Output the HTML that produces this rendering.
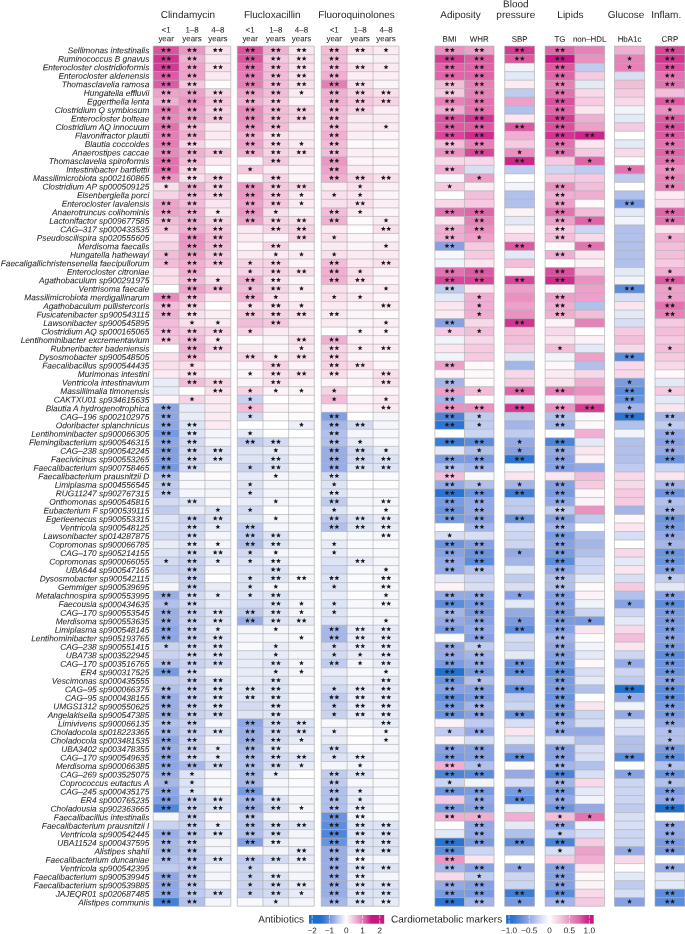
<!DOCTYPE html>
<html><head><meta charset="utf-8"><style>
html,body{margin:0;padding:0;background:#fff;}
svg{display:block;will-change:transform;}
text{font-family:"Liberation Sans",sans-serif;fill:#231f20;text-rendering:geometricPrecision;stroke-linejoin:round;}
.lab{font-size:8.3px;font-style:italic;text-anchor:end;}
.ttl{font-size:10px;text-anchor:middle;}
.sub{font-size:7.8px;text-anchor:middle;}
.leg{font-size:10px;}
.tick{font-size:7.6px;text-anchor:middle;}
</style></head><body>
<svg width="685" height="934" viewBox="0 0 685 934">
<defs><path id="s" d="M0.00,-2.60 L0.68,-0.93 L2.47,-0.80 L1.09,0.36 L1.53,2.10 L0.00,1.15 L-1.53,2.10 L-1.09,0.36 L-2.47,-0.80 L-0.68,-0.93Z" fill="#1a1a1a"/></defs>
<g fill="#231f20">
<rect x="153.20" y="46.10" width="25.92" height="8.57" fill="#db539f"/>
<rect x="179.07" y="46.10" width="25.92" height="8.57" fill="#eb96c4"/>
<rect x="204.93" y="46.10" width="25.92" height="8.57" fill="#fadfec"/>
<rect x="153.20" y="54.62" width="25.92" height="8.57" fill="#d13390"/>
<rect x="179.07" y="54.62" width="25.92" height="8.57" fill="#f0b0d2"/>
<rect x="204.93" y="54.62" width="25.92" height="8.57" fill="#fceaf2"/>
<rect x="153.20" y="63.13" width="25.92" height="8.57" fill="#d33a93"/>
<rect x="179.07" y="63.13" width="25.92" height="8.57" fill="#eea3cb"/>
<rect x="204.93" y="63.13" width="25.92" height="8.57" fill="#fadfec"/>
<rect x="153.20" y="71.65" width="25.92" height="8.57" fill="#dd5ba4"/>
<rect x="179.07" y="71.65" width="25.92" height="8.57" fill="#eea3cb"/>
<rect x="204.93" y="71.65" width="25.92" height="8.57" fill="#fceaf2"/>
<rect x="153.20" y="80.16" width="25.92" height="8.57" fill="#dd5ba4"/>
<rect x="179.07" y="80.16" width="25.92" height="8.57" fill="#f5c8e0"/>
<rect x="204.93" y="80.16" width="25.92" height="8.57" fill="#fefbfc"/>
<rect x="153.20" y="88.68" width="25.92" height="8.57" fill="#eea3cb"/>
<rect x="179.07" y="88.68" width="25.92" height="8.57" fill="#eea3cb"/>
<rect x="204.93" y="88.68" width="25.92" height="8.57" fill="#f7d3e6"/>
<rect x="153.20" y="97.20" width="25.92" height="8.57" fill="#f0b0d2"/>
<rect x="179.07" y="97.20" width="25.92" height="8.57" fill="#eb96c4"/>
<rect x="204.93" y="97.20" width="25.92" height="8.57" fill="#f5c8e0"/>
<rect x="153.20" y="105.71" width="25.92" height="8.57" fill="#e67db6"/>
<rect x="179.07" y="105.71" width="25.92" height="8.57" fill="#eea3cb"/>
<rect x="204.93" y="105.71" width="25.92" height="8.57" fill="#f7d3e6"/>
<rect x="153.20" y="114.23" width="25.92" height="8.57" fill="#e88abd"/>
<rect x="179.07" y="114.23" width="25.92" height="8.57" fill="#eea3cb"/>
<rect x="204.93" y="114.23" width="25.92" height="8.57" fill="#f5c8e0"/>
<rect x="153.20" y="122.74" width="25.92" height="8.57" fill="#e370af"/>
<rect x="179.07" y="122.74" width="25.92" height="8.57" fill="#f3bcd9"/>
<rect x="204.93" y="122.74" width="25.92" height="8.57" fill="#fceaf2"/>
<rect x="153.20" y="131.26" width="25.92" height="8.57" fill="#e67db6"/>
<rect x="179.07" y="131.26" width="25.92" height="8.57" fill="#f0b0d2"/>
<rect x="204.93" y="131.26" width="25.92" height="8.57" fill="#fceaf2"/>
<rect x="153.20" y="139.78" width="25.92" height="8.57" fill="#e67db6"/>
<rect x="179.07" y="139.78" width="25.92" height="8.57" fill="#f7d3e6"/>
<rect x="204.93" y="139.78" width="25.92" height="8.57" fill="#fdf4f9"/>
<rect x="153.20" y="148.29" width="25.92" height="8.57" fill="#e88abd"/>
<rect x="179.07" y="148.29" width="25.92" height="8.57" fill="#f0b0d2"/>
<rect x="204.93" y="148.29" width="25.92" height="8.57" fill="#f5c8e0"/>
<rect x="153.20" y="156.81" width="25.92" height="8.57" fill="#e370af"/>
<rect x="179.07" y="156.81" width="25.92" height="8.57" fill="#f3bcd9"/>
<rect x="204.93" y="156.81" width="25.92" height="8.57" fill="#fceaf2"/>
<rect x="153.20" y="165.32" width="25.92" height="8.57" fill="#e370af"/>
<rect x="179.07" y="165.32" width="25.92" height="8.57" fill="#f7d3e6"/>
<rect x="204.93" y="165.32" width="25.92" height="8.57" fill="#fefbfc"/>
<rect x="153.20" y="173.84" width="25.92" height="8.57" fill="#eb96c4"/>
<rect x="179.07" y="173.84" width="25.92" height="8.57" fill="#fadfec"/>
<rect x="204.93" y="173.84" width="25.92" height="8.57" fill="#f7d3e6"/>
<rect x="153.20" y="182.36" width="25.92" height="8.57" fill="#fadfec"/>
<rect x="179.07" y="182.36" width="25.92" height="8.57" fill="#f0b0d2"/>
<rect x="204.93" y="182.36" width="25.92" height="8.57" fill="#f7d3e6"/>
<rect x="153.20" y="190.87" width="25.92" height="8.57" fill="#f7d3e6"/>
<rect x="179.07" y="190.87" width="25.92" height="8.57" fill="#f3bcd9"/>
<rect x="204.93" y="190.87" width="25.92" height="8.57" fill="#f7d3e6"/>
<rect x="153.20" y="199.39" width="25.92" height="8.57" fill="#eea3cb"/>
<rect x="179.07" y="199.39" width="25.92" height="8.57" fill="#f3bcd9"/>
<rect x="204.93" y="199.39" width="25.92" height="8.57" fill="#fbe5f0"/>
<rect x="153.20" y="207.90" width="25.92" height="8.57" fill="#eea3cb"/>
<rect x="179.07" y="207.90" width="25.92" height="8.57" fill="#f0b0d2"/>
<rect x="204.93" y="207.90" width="25.92" height="8.57" fill="#fceaf2"/>
<rect x="153.20" y="216.42" width="25.92" height="8.57" fill="#f3bcd9"/>
<rect x="179.07" y="216.42" width="25.92" height="8.57" fill="#f0b0d2"/>
<rect x="204.93" y="216.42" width="25.92" height="8.57" fill="#f7d3e6"/>
<rect x="153.20" y="224.94" width="25.92" height="8.57" fill="#f5c8e0"/>
<rect x="179.07" y="224.94" width="25.92" height="8.57" fill="#f0b0d2"/>
<rect x="204.93" y="224.94" width="25.92" height="8.57" fill="#f5c8e0"/>
<rect x="153.20" y="233.45" width="25.92" height="8.57" fill="#fadfec"/>
<rect x="179.07" y="233.45" width="25.92" height="8.57" fill="#eb96c4"/>
<rect x="204.93" y="233.45" width="25.92" height="8.57" fill="#f3bcd9"/>
<rect x="153.20" y="241.97" width="25.92" height="8.57" fill="#f7d3e6"/>
<rect x="179.07" y="241.97" width="25.92" height="8.57" fill="#eb96c4"/>
<rect x="204.93" y="241.97" width="25.92" height="8.57" fill="#f3bcd9"/>
<rect x="153.20" y="250.48" width="25.92" height="8.57" fill="#f3bcd9"/>
<rect x="179.07" y="250.48" width="25.92" height="8.57" fill="#eea3cb"/>
<rect x="204.93" y="250.48" width="25.92" height="8.57" fill="#f5c8e0"/>
<rect x="153.20" y="259.00" width="25.92" height="8.57" fill="#f3bcd9"/>
<rect x="179.07" y="259.00" width="25.92" height="8.57" fill="#f0b0d2"/>
<rect x="204.93" y="259.00" width="25.92" height="8.57" fill="#f5c8e0"/>
<rect x="153.20" y="267.52" width="25.92" height="8.57" fill="#fadfec"/>
<rect x="179.07" y="267.52" width="25.92" height="8.57" fill="#f0b0d2"/>
<rect x="204.93" y="267.52" width="25.92" height="8.57" fill="#fceaf2"/>
<rect x="153.20" y="276.03" width="25.92" height="8.57" fill="#fadfec"/>
<rect x="179.07" y="276.03" width="25.92" height="8.57" fill="#f3bcd9"/>
<rect x="204.93" y="276.03" width="25.92" height="8.57" fill="#fadfec"/>
<rect x="153.20" y="284.55" width="25.92" height="8.57" fill="#ffffff"/>
<rect x="179.07" y="284.55" width="25.92" height="8.57" fill="#eea3cb"/>
<rect x="204.93" y="284.55" width="25.92" height="8.57" fill="#f3bcd9"/>
<rect x="153.20" y="293.06" width="25.92" height="8.57" fill="#e88abd"/>
<rect x="179.07" y="293.06" width="25.92" height="8.57" fill="#f3bcd9"/>
<rect x="204.93" y="293.06" width="25.92" height="8.57" fill="#fceaf2"/>
<rect x="153.20" y="301.58" width="25.92" height="8.57" fill="#f3bcd9"/>
<rect x="179.07" y="301.58" width="25.92" height="8.57" fill="#f7d3e6"/>
<rect x="204.93" y="301.58" width="25.92" height="8.57" fill="#ffffff"/>
<rect x="153.20" y="310.10" width="25.92" height="8.57" fill="#f0b0d2"/>
<rect x="179.07" y="310.10" width="25.92" height="8.57" fill="#fadfec"/>
<rect x="204.93" y="310.10" width="25.92" height="8.57" fill="#fceef5"/>
<rect x="153.20" y="318.61" width="25.92" height="8.57" fill="#f3bcd9"/>
<rect x="179.07" y="318.61" width="25.92" height="8.57" fill="#fadfec"/>
<rect x="204.93" y="318.61" width="25.92" height="8.57" fill="#fceaf2"/>
<rect x="153.20" y="327.13" width="25.92" height="8.57" fill="#f3bcd9"/>
<rect x="179.07" y="327.13" width="25.92" height="8.57" fill="#f5c8e0"/>
<rect x="204.93" y="327.13" width="25.92" height="8.57" fill="#f7d3e6"/>
<rect x="153.20" y="335.64" width="25.92" height="8.57" fill="#f5c8e0"/>
<rect x="179.07" y="335.64" width="25.92" height="8.57" fill="#f3bcd9"/>
<rect x="204.93" y="335.64" width="25.92" height="8.57" fill="#fceaf2"/>
<rect x="153.20" y="344.16" width="25.92" height="8.57" fill="#ffffff"/>
<rect x="179.07" y="344.16" width="25.92" height="8.57" fill="#f0b0d2"/>
<rect x="204.93" y="344.16" width="25.92" height="8.57" fill="#f7d3e6"/>
<rect x="153.20" y="352.68" width="25.92" height="8.57" fill="#fadfec"/>
<rect x="179.07" y="352.68" width="25.92" height="8.57" fill="#f3bcd9"/>
<rect x="204.93" y="352.68" width="25.92" height="8.57" fill="#fceaf2"/>
<rect x="153.20" y="361.19" width="25.92" height="8.57" fill="#fadfec"/>
<rect x="179.07" y="361.19" width="25.92" height="8.57" fill="#fadfec"/>
<rect x="204.93" y="361.19" width="25.92" height="8.57" fill="#fdf4f9"/>
<rect x="153.20" y="369.71" width="25.92" height="8.57" fill="#fceaf2"/>
<rect x="179.07" y="369.71" width="25.92" height="8.57" fill="#fadfec"/>
<rect x="204.93" y="369.71" width="25.92" height="8.57" fill="#fdf4f9"/>
<rect x="153.20" y="378.22" width="25.92" height="8.57" fill="#e8ecf8"/>
<rect x="179.07" y="378.22" width="25.92" height="8.57" fill="#f3bcd9"/>
<rect x="204.93" y="378.22" width="25.92" height="8.57" fill="#f7d3e6"/>
<rect x="153.20" y="386.74" width="25.92" height="8.57" fill="#e8ecf8"/>
<rect x="179.07" y="386.74" width="25.92" height="8.57" fill="#ffffff"/>
<rect x="204.93" y="386.74" width="25.92" height="8.57" fill="#fadfec"/>
<rect x="153.20" y="395.26" width="25.92" height="8.57" fill="#fdf4f9"/>
<rect x="179.07" y="395.26" width="25.92" height="8.57" fill="#f7d3e6"/>
<rect x="204.93" y="395.26" width="25.92" height="8.57" fill="#fceaf2"/>
<rect x="153.20" y="403.77" width="25.92" height="8.57" fill="#8da6e5"/>
<rect x="179.07" y="403.77" width="25.92" height="8.57" fill="#e8ecf8"/>
<rect x="204.93" y="403.77" width="25.92" height="8.57" fill="#fceaf2"/>
<rect x="153.20" y="412.29" width="25.92" height="8.57" fill="#8da6e5"/>
<rect x="179.07" y="412.29" width="25.92" height="8.57" fill="#e8ecf8"/>
<rect x="204.93" y="412.29" width="25.92" height="8.57" fill="#fceaf2"/>
<rect x="153.20" y="420.80" width="25.92" height="8.57" fill="#8da6e5"/>
<rect x="179.07" y="420.80" width="25.92" height="8.57" fill="#dde4f6"/>
<rect x="204.93" y="420.80" width="25.92" height="8.57" fill="#fceaf2"/>
<rect x="153.20" y="429.32" width="25.92" height="8.57" fill="#759ae0"/>
<rect x="179.07" y="429.32" width="25.92" height="8.57" fill="#dde4f6"/>
<rect x="204.93" y="429.32" width="25.92" height="8.57" fill="#f4f6fc"/>
<rect x="153.20" y="437.84" width="25.92" height="8.57" fill="#8da6e5"/>
<rect x="179.07" y="437.84" width="25.92" height="8.57" fill="#d3dbf3"/>
<rect x="204.93" y="437.84" width="25.92" height="8.57" fill="#f4f6fc"/>
<rect x="153.20" y="446.35" width="25.92" height="8.57" fill="#81a0e3"/>
<rect x="179.07" y="446.35" width="25.92" height="8.57" fill="#d3dbf3"/>
<rect x="204.93" y="446.35" width="25.92" height="8.57" fill="#dde4f6"/>
<rect x="153.20" y="454.87" width="25.92" height="8.57" fill="#81a0e3"/>
<rect x="179.07" y="454.87" width="25.92" height="8.57" fill="#d3dbf3"/>
<rect x="204.93" y="454.87" width="25.92" height="8.57" fill="#dde4f6"/>
<rect x="153.20" y="463.38" width="25.92" height="8.57" fill="#759ae0"/>
<rect x="179.07" y="463.38" width="25.92" height="8.57" fill="#d3dbf3"/>
<rect x="204.93" y="463.38" width="25.92" height="8.57" fill="#f4f6fc"/>
<rect x="153.20" y="471.90" width="25.92" height="8.57" fill="#b2c1ec"/>
<rect x="179.07" y="471.90" width="25.92" height="8.57" fill="#f8f9fd"/>
<rect x="204.93" y="471.90" width="25.92" height="8.57" fill="#fef9fb"/>
<rect x="153.20" y="480.42" width="25.92" height="8.57" fill="#bfcbef"/>
<rect x="179.07" y="480.42" width="25.92" height="8.57" fill="#f8f9fd"/>
<rect x="204.93" y="480.42" width="25.92" height="8.57" fill="#f4f6fc"/>
<rect x="153.20" y="488.93" width="25.92" height="8.57" fill="#bfcbef"/>
<rect x="179.07" y="488.93" width="25.92" height="8.57" fill="#f4f6fc"/>
<rect x="204.93" y="488.93" width="25.92" height="8.57" fill="#f4f6fc"/>
<rect x="153.20" y="497.45" width="25.92" height="8.57" fill="#d3dbf3"/>
<rect x="179.07" y="497.45" width="25.92" height="8.57" fill="#dde4f6"/>
<rect x="204.93" y="497.45" width="25.92" height="8.57" fill="#fef9fb"/>
<rect x="153.20" y="505.96" width="25.92" height="8.57" fill="#bfcbef"/>
<rect x="179.07" y="505.96" width="25.92" height="8.57" fill="#e8ecf8"/>
<rect x="204.93" y="505.96" width="25.92" height="8.57" fill="#dde4f6"/>
<rect x="153.20" y="514.48" width="25.92" height="8.57" fill="#dde4f6"/>
<rect x="179.07" y="514.48" width="25.92" height="8.57" fill="#c9d3f1"/>
<rect x="204.93" y="514.48" width="25.92" height="8.57" fill="#dde4f6"/>
<rect x="153.20" y="523.00" width="25.92" height="8.57" fill="#dde4f6"/>
<rect x="179.07" y="523.00" width="25.92" height="8.57" fill="#d3dbf3"/>
<rect x="204.93" y="523.00" width="25.92" height="8.57" fill="#e8ecf8"/>
<rect x="153.20" y="531.51" width="25.92" height="8.57" fill="#d3dbf3"/>
<rect x="179.07" y="531.51" width="25.92" height="8.57" fill="#d3dbf3"/>
<rect x="204.93" y="531.51" width="25.92" height="8.57" fill="#f4f6fc"/>
<rect x="153.20" y="540.03" width="25.92" height="8.57" fill="#e8ecf8"/>
<rect x="179.07" y="540.03" width="25.92" height="8.57" fill="#dde4f6"/>
<rect x="204.93" y="540.03" width="25.92" height="8.57" fill="#f4f6fc"/>
<rect x="153.20" y="548.54" width="25.92" height="8.57" fill="#dde4f6"/>
<rect x="179.07" y="548.54" width="25.92" height="8.57" fill="#d3dbf3"/>
<rect x="204.93" y="548.54" width="25.92" height="8.57" fill="#e8ecf8"/>
<rect x="153.20" y="557.06" width="25.92" height="8.57" fill="#d3dbf3"/>
<rect x="179.07" y="557.06" width="25.92" height="8.57" fill="#c9d3f1"/>
<rect x="204.93" y="557.06" width="25.92" height="8.57" fill="#e8ecf8"/>
<rect x="153.20" y="565.58" width="25.92" height="8.57" fill="#c9d3f1"/>
<rect x="179.07" y="565.58" width="25.92" height="8.57" fill="#c9d3f1"/>
<rect x="204.93" y="565.58" width="25.92" height="8.57" fill="#f4f6fc"/>
<rect x="153.20" y="574.09" width="25.92" height="8.57" fill="#dde4f6"/>
<rect x="179.07" y="574.09" width="25.92" height="8.57" fill="#c9d3f1"/>
<rect x="204.93" y="574.09" width="25.92" height="8.57" fill="#ffffff"/>
<rect x="153.20" y="582.61" width="25.92" height="8.57" fill="#f4f6fc"/>
<rect x="179.07" y="582.61" width="25.92" height="8.57" fill="#c9d3f1"/>
<rect x="204.93" y="582.61" width="25.92" height="8.57" fill="#e8ecf8"/>
<rect x="153.20" y="591.12" width="25.92" height="8.57" fill="#99aee7"/>
<rect x="179.07" y="591.12" width="25.92" height="8.57" fill="#d3dbf3"/>
<rect x="204.93" y="591.12" width="25.92" height="8.57" fill="#e8ecf8"/>
<rect x="153.20" y="599.64" width="25.92" height="8.57" fill="#b2c1ec"/>
<rect x="179.07" y="599.64" width="25.92" height="8.57" fill="#d3dbf3"/>
<rect x="204.93" y="599.64" width="25.92" height="8.57" fill="#e8ecf8"/>
<rect x="153.20" y="608.16" width="25.92" height="8.57" fill="#99aee7"/>
<rect x="179.07" y="608.16" width="25.92" height="8.57" fill="#c9d3f1"/>
<rect x="204.93" y="608.16" width="25.92" height="8.57" fill="#dde4f6"/>
<rect x="153.20" y="616.67" width="25.92" height="8.57" fill="#99aee7"/>
<rect x="179.07" y="616.67" width="25.92" height="8.57" fill="#c9d3f1"/>
<rect x="204.93" y="616.67" width="25.92" height="8.57" fill="#dde4f6"/>
<rect x="153.20" y="625.19" width="25.92" height="8.57" fill="#8da6e5"/>
<rect x="179.07" y="625.19" width="25.92" height="8.57" fill="#c9d3f1"/>
<rect x="204.93" y="625.19" width="25.92" height="8.57" fill="#e8ecf8"/>
<rect x="153.20" y="633.70" width="25.92" height="8.57" fill="#8da6e5"/>
<rect x="179.07" y="633.70" width="25.92" height="8.57" fill="#c9d3f1"/>
<rect x="204.93" y="633.70" width="25.92" height="8.57" fill="#dde4f6"/>
<rect x="153.20" y="642.22" width="25.92" height="8.57" fill="#c9d3f1"/>
<rect x="179.07" y="642.22" width="25.92" height="8.57" fill="#d3dbf3"/>
<rect x="204.93" y="642.22" width="25.92" height="8.57" fill="#dde4f6"/>
<rect x="153.20" y="650.74" width="25.92" height="8.57" fill="#c9d3f1"/>
<rect x="179.07" y="650.74" width="25.92" height="8.57" fill="#d3dbf3"/>
<rect x="204.93" y="650.74" width="25.92" height="8.57" fill="#dde4f6"/>
<rect x="153.20" y="659.25" width="25.92" height="8.57" fill="#b2c1ec"/>
<rect x="179.07" y="659.25" width="25.92" height="8.57" fill="#c9d3f1"/>
<rect x="204.93" y="659.25" width="25.92" height="8.57" fill="#d3dbf3"/>
<rect x="153.20" y="667.77" width="25.92" height="8.57" fill="#759ae0"/>
<rect x="179.07" y="667.77" width="25.92" height="8.57" fill="#d3dbf3"/>
<rect x="204.93" y="667.77" width="25.92" height="8.57" fill="#f4f6fc"/>
<rect x="153.20" y="676.28" width="25.92" height="8.57" fill="#bfcbef"/>
<rect x="179.07" y="676.28" width="25.92" height="8.57" fill="#c9d3f1"/>
<rect x="204.93" y="676.28" width="25.92" height="8.57" fill="#dde4f6"/>
<rect x="153.20" y="684.80" width="25.92" height="8.57" fill="#b2c1ec"/>
<rect x="179.07" y="684.80" width="25.92" height="8.57" fill="#c9d3f1"/>
<rect x="204.93" y="684.80" width="25.92" height="8.57" fill="#dde4f6"/>
<rect x="153.20" y="693.32" width="25.92" height="8.57" fill="#99aee7"/>
<rect x="179.07" y="693.32" width="25.92" height="8.57" fill="#c9d3f1"/>
<rect x="204.93" y="693.32" width="25.92" height="8.57" fill="#dde4f6"/>
<rect x="153.20" y="701.83" width="25.92" height="8.57" fill="#99aee7"/>
<rect x="179.07" y="701.83" width="25.92" height="8.57" fill="#c9d3f1"/>
<rect x="204.93" y="701.83" width="25.92" height="8.57" fill="#dde4f6"/>
<rect x="153.20" y="710.35" width="25.92" height="8.57" fill="#99aee7"/>
<rect x="179.07" y="710.35" width="25.92" height="8.57" fill="#c9d3f1"/>
<rect x="204.93" y="710.35" width="25.92" height="8.57" fill="#d3dbf3"/>
<rect x="153.20" y="718.86" width="25.92" height="8.57" fill="#b2c1ec"/>
<rect x="179.07" y="718.86" width="25.92" height="8.57" fill="#c9d3f1"/>
<rect x="204.93" y="718.86" width="25.92" height="8.57" fill="#f8f9fd"/>
<rect x="153.20" y="727.38" width="25.92" height="8.57" fill="#a6b8ea"/>
<rect x="179.07" y="727.38" width="25.92" height="8.57" fill="#c9d3f1"/>
<rect x="204.93" y="727.38" width="25.92" height="8.57" fill="#dde4f6"/>
<rect x="153.20" y="735.90" width="25.92" height="8.57" fill="#8da6e5"/>
<rect x="179.07" y="735.90" width="25.92" height="8.57" fill="#c9d3f1"/>
<rect x="204.93" y="735.90" width="25.92" height="8.57" fill="#f4f6fc"/>
<rect x="153.20" y="744.41" width="25.92" height="8.57" fill="#99aee7"/>
<rect x="179.07" y="744.41" width="25.92" height="8.57" fill="#c9d3f1"/>
<rect x="204.93" y="744.41" width="25.92" height="8.57" fill="#e8ecf8"/>
<rect x="153.20" y="752.93" width="25.92" height="8.57" fill="#8da6e5"/>
<rect x="179.07" y="752.93" width="25.92" height="8.57" fill="#d3dbf3"/>
<rect x="204.93" y="752.93" width="25.92" height="8.57" fill="#e8ecf8"/>
<rect x="153.20" y="761.44" width="25.92" height="8.57" fill="#8da6e5"/>
<rect x="179.07" y="761.44" width="25.92" height="8.57" fill="#a6b8ea"/>
<rect x="204.93" y="761.44" width="25.92" height="8.57" fill="#d3dbf3"/>
<rect x="153.20" y="769.96" width="25.92" height="8.57" fill="#99aee7"/>
<rect x="179.07" y="769.96" width="25.92" height="8.57" fill="#dde4f6"/>
<rect x="204.93" y="769.96" width="25.92" height="8.57" fill="#f8f9fd"/>
<rect x="153.20" y="778.48" width="25.92" height="8.57" fill="#a6b8ea"/>
<rect x="179.07" y="778.48" width="25.92" height="8.57" fill="#dde4f6"/>
<rect x="204.93" y="778.48" width="25.92" height="8.57" fill="#f8f9fd"/>
<rect x="153.20" y="786.99" width="25.92" height="8.57" fill="#8da6e5"/>
<rect x="179.07" y="786.99" width="25.92" height="8.57" fill="#dde4f6"/>
<rect x="204.93" y="786.99" width="25.92" height="8.57" fill="#f8f9fd"/>
<rect x="153.20" y="795.51" width="25.92" height="8.57" fill="#81a0e3"/>
<rect x="179.07" y="795.51" width="25.92" height="8.57" fill="#c9d3f1"/>
<rect x="204.93" y="795.51" width="25.92" height="8.57" fill="#dde4f6"/>
<rect x="153.20" y="804.02" width="25.92" height="8.57" fill="#5086da"/>
<rect x="179.07" y="804.02" width="25.92" height="8.57" fill="#c9d3f1"/>
<rect x="204.93" y="804.02" width="25.92" height="8.57" fill="#dde4f6"/>
<rect x="153.20" y="812.54" width="25.92" height="8.57" fill="#f4f6fc"/>
<rect x="179.07" y="812.54" width="25.92" height="8.57" fill="#c9d3f1"/>
<rect x="204.93" y="812.54" width="25.92" height="8.57" fill="#fefbfc"/>
<rect x="153.20" y="821.06" width="25.92" height="8.57" fill="#c9d3f1"/>
<rect x="179.07" y="821.06" width="25.92" height="8.57" fill="#c9d3f1"/>
<rect x="204.93" y="821.06" width="25.92" height="8.57" fill="#e8ecf8"/>
<rect x="153.20" y="829.57" width="25.92" height="8.57" fill="#99aee7"/>
<rect x="179.07" y="829.57" width="25.92" height="8.57" fill="#bfcbef"/>
<rect x="204.93" y="829.57" width="25.92" height="8.57" fill="#dde4f6"/>
<rect x="153.20" y="838.09" width="25.92" height="8.57" fill="#a6b8ea"/>
<rect x="179.07" y="838.09" width="25.92" height="8.57" fill="#c9d3f1"/>
<rect x="204.93" y="838.09" width="25.92" height="8.57" fill="#f4f6fc"/>
<rect x="153.20" y="846.60" width="25.92" height="8.57" fill="#a6b8ea"/>
<rect x="179.07" y="846.60" width="25.92" height="8.57" fill="#bfcbef"/>
<rect x="204.93" y="846.60" width="25.92" height="8.57" fill="#f4f6fc"/>
<rect x="153.20" y="855.12" width="25.92" height="8.57" fill="#b2c1ec"/>
<rect x="179.07" y="855.12" width="25.92" height="8.57" fill="#bfcbef"/>
<rect x="204.93" y="855.12" width="25.92" height="8.57" fill="#dde4f6"/>
<rect x="153.20" y="863.64" width="25.92" height="8.57" fill="#bfcbef"/>
<rect x="179.07" y="863.64" width="25.92" height="8.57" fill="#bfcbef"/>
<rect x="204.93" y="863.64" width="25.92" height="8.57" fill="#f4f6fc"/>
<rect x="153.20" y="872.15" width="25.92" height="8.57" fill="#8da6e5"/>
<rect x="179.07" y="872.15" width="25.92" height="8.57" fill="#bfcbef"/>
<rect x="204.93" y="872.15" width="25.92" height="8.57" fill="#f4f6fc"/>
<rect x="153.20" y="880.67" width="25.92" height="8.57" fill="#8da6e5"/>
<rect x="179.07" y="880.67" width="25.92" height="8.57" fill="#bfcbef"/>
<rect x="204.93" y="880.67" width="25.92" height="8.57" fill="#f4f6fc"/>
<rect x="153.20" y="889.18" width="25.92" height="8.57" fill="#8da6e5"/>
<rect x="179.07" y="889.18" width="25.92" height="8.57" fill="#bfcbef"/>
<rect x="204.93" y="889.18" width="25.92" height="8.57" fill="#d3dbf3"/>
<rect x="153.20" y="897.70" width="25.92" height="8.57" fill="#4380d7"/>
<rect x="179.07" y="897.70" width="25.92" height="8.57" fill="#b2c1ec"/>
<rect x="204.93" y="897.70" width="25.92" height="8.57" fill="#f4f6fc"/>
<path d="M153.20,46.10H230.80M153.20,54.62H230.80M153.20,63.13H230.80M153.20,71.65H230.80M153.20,80.16H230.80M153.20,88.68H230.80M153.20,97.20H230.80M153.20,105.71H230.80M153.20,114.23H230.80M153.20,122.74H230.80M153.20,131.26H230.80M153.20,139.78H230.80M153.20,148.29H230.80M153.20,156.81H230.80M153.20,165.32H230.80M153.20,173.84H230.80M153.20,182.36H230.80M153.20,190.87H230.80M153.20,199.39H230.80M153.20,207.90H230.80M153.20,216.42H230.80M153.20,224.94H230.80M153.20,233.45H230.80M153.20,241.97H230.80M153.20,250.48H230.80M153.20,259.00H230.80M153.20,267.52H230.80M153.20,276.03H230.80M153.20,284.55H230.80M153.20,293.06H230.80M153.20,301.58H230.80M153.20,310.10H230.80M153.20,318.61H230.80M153.20,327.13H230.80M153.20,335.64H230.80M153.20,344.16H230.80M153.20,352.68H230.80M153.20,361.19H230.80M153.20,369.71H230.80M153.20,378.22H230.80M153.20,386.74H230.80M153.20,395.26H230.80M153.20,403.77H230.80M153.20,412.29H230.80M153.20,420.80H230.80M153.20,429.32H230.80M153.20,437.84H230.80M153.20,446.35H230.80M153.20,454.87H230.80M153.20,463.38H230.80M153.20,471.90H230.80M153.20,480.42H230.80M153.20,488.93H230.80M153.20,497.45H230.80M153.20,505.96H230.80M153.20,514.48H230.80M153.20,523.00H230.80M153.20,531.51H230.80M153.20,540.03H230.80M153.20,548.54H230.80M153.20,557.06H230.80M153.20,565.58H230.80M153.20,574.09H230.80M153.20,582.61H230.80M153.20,591.12H230.80M153.20,599.64H230.80M153.20,608.16H230.80M153.20,616.67H230.80M153.20,625.19H230.80M153.20,633.70H230.80M153.20,642.22H230.80M153.20,650.74H230.80M153.20,659.25H230.80M153.20,667.77H230.80M153.20,676.28H230.80M153.20,684.80H230.80M153.20,693.32H230.80M153.20,701.83H230.80M153.20,710.35H230.80M153.20,718.86H230.80M153.20,727.38H230.80M153.20,735.90H230.80M153.20,744.41H230.80M153.20,752.93H230.80M153.20,761.44H230.80M153.20,769.96H230.80M153.20,778.48H230.80M153.20,786.99H230.80M153.20,795.51H230.80M153.20,804.02H230.80M153.20,812.54H230.80M153.20,821.06H230.80M153.20,829.57H230.80M153.20,838.09H230.80M153.20,846.60H230.80M153.20,855.12H230.80M153.20,863.64H230.80M153.20,872.15H230.80M153.20,880.67H230.80M153.20,889.18H230.80M153.20,897.70H230.80M153.20,906.22H230.80M153.20,46.10V906.22M179.07,46.10V906.22M204.93,46.10V906.22M230.80,46.10V906.22" stroke="#aaaaaa" stroke-opacity="0.68" stroke-width="0.9" fill="none"/>
<use href="#s" x="163.43" y="50.05"/><use href="#s" x="168.83" y="50.05"/>
<use href="#s" x="189.30" y="50.05"/><use href="#s" x="194.70" y="50.05"/>
<use href="#s" x="215.17" y="50.05"/><use href="#s" x="220.57" y="50.05"/>
<use href="#s" x="163.43" y="58.57"/><use href="#s" x="168.83" y="58.57"/>
<use href="#s" x="189.30" y="58.57"/><use href="#s" x="194.70" y="58.57"/>
<use href="#s" x="163.43" y="67.08"/><use href="#s" x="168.83" y="67.08"/>
<use href="#s" x="189.30" y="67.08"/><use href="#s" x="194.70" y="67.08"/>
<use href="#s" x="215.17" y="67.08"/><use href="#s" x="220.57" y="67.08"/>
<use href="#s" x="163.43" y="75.60"/><use href="#s" x="168.83" y="75.60"/>
<use href="#s" x="189.30" y="75.60"/><use href="#s" x="194.70" y="75.60"/>
<use href="#s" x="163.43" y="84.11"/><use href="#s" x="168.83" y="84.11"/>
<use href="#s" x="189.30" y="84.11"/><use href="#s" x="194.70" y="84.11"/>
<use href="#s" x="163.43" y="92.63"/><use href="#s" x="168.83" y="92.63"/>
<use href="#s" x="189.30" y="92.63"/><use href="#s" x="194.70" y="92.63"/>
<use href="#s" x="215.17" y="92.63"/><use href="#s" x="220.57" y="92.63"/>
<use href="#s" x="163.43" y="101.15"/><use href="#s" x="168.83" y="101.15"/>
<use href="#s" x="189.30" y="101.15"/><use href="#s" x="194.70" y="101.15"/>
<use href="#s" x="215.17" y="101.15"/><use href="#s" x="220.57" y="101.15"/>
<use href="#s" x="163.43" y="109.66"/><use href="#s" x="168.83" y="109.66"/>
<use href="#s" x="189.30" y="109.66"/><use href="#s" x="194.70" y="109.66"/>
<use href="#s" x="215.17" y="109.66"/><use href="#s" x="220.57" y="109.66"/>
<use href="#s" x="163.43" y="118.18"/><use href="#s" x="168.83" y="118.18"/>
<use href="#s" x="189.30" y="118.18"/><use href="#s" x="194.70" y="118.18"/>
<use href="#s" x="215.17" y="118.18"/><use href="#s" x="220.57" y="118.18"/>
<use href="#s" x="163.43" y="126.69"/><use href="#s" x="168.83" y="126.69"/>
<use href="#s" x="189.30" y="126.69"/><use href="#s" x="194.70" y="126.69"/>
<use href="#s" x="163.43" y="135.21"/><use href="#s" x="168.83" y="135.21"/>
<use href="#s" x="189.30" y="135.21"/><use href="#s" x="194.70" y="135.21"/>
<use href="#s" x="163.43" y="143.73"/><use href="#s" x="168.83" y="143.73"/>
<use href="#s" x="189.30" y="143.73"/><use href="#s" x="194.70" y="143.73"/>
<use href="#s" x="163.43" y="152.24"/><use href="#s" x="168.83" y="152.24"/>
<use href="#s" x="189.30" y="152.24"/><use href="#s" x="194.70" y="152.24"/>
<use href="#s" x="215.17" y="152.24"/><use href="#s" x="220.57" y="152.24"/>
<use href="#s" x="163.43" y="160.76"/><use href="#s" x="168.83" y="160.76"/>
<use href="#s" x="189.30" y="160.76"/><use href="#s" x="194.70" y="160.76"/>
<use href="#s" x="163.43" y="169.27"/><use href="#s" x="168.83" y="169.27"/>
<use href="#s" x="189.30" y="169.27"/><use href="#s" x="194.70" y="169.27"/>
<use href="#s" x="163.43" y="177.79"/><use href="#s" x="168.83" y="177.79"/>
<use href="#s" x="189.30" y="177.79"/><use href="#s" x="194.70" y="177.79"/>
<use href="#s" x="215.17" y="177.79"/><use href="#s" x="220.57" y="177.79"/>
<use href="#s" x="166.13" y="186.31"/>
<use href="#s" x="189.30" y="186.31"/><use href="#s" x="194.70" y="186.31"/>
<use href="#s" x="215.17" y="186.31"/><use href="#s" x="220.57" y="186.31"/>
<use href="#s" x="189.30" y="194.82"/><use href="#s" x="194.70" y="194.82"/>
<use href="#s" x="215.17" y="194.82"/><use href="#s" x="220.57" y="194.82"/>
<use href="#s" x="163.43" y="203.34"/><use href="#s" x="168.83" y="203.34"/>
<use href="#s" x="189.30" y="203.34"/><use href="#s" x="194.70" y="203.34"/>
<use href="#s" x="163.43" y="211.85"/><use href="#s" x="168.83" y="211.85"/>
<use href="#s" x="189.30" y="211.85"/><use href="#s" x="194.70" y="211.85"/>
<use href="#s" x="217.87" y="211.85"/>
<use href="#s" x="163.43" y="220.37"/><use href="#s" x="168.83" y="220.37"/>
<use href="#s" x="189.30" y="220.37"/><use href="#s" x="194.70" y="220.37"/>
<use href="#s" x="215.17" y="220.37"/><use href="#s" x="220.57" y="220.37"/>
<use href="#s" x="166.13" y="228.89"/>
<use href="#s" x="189.30" y="228.89"/><use href="#s" x="194.70" y="228.89"/>
<use href="#s" x="215.17" y="228.89"/><use href="#s" x="220.57" y="228.89"/>
<use href="#s" x="189.30" y="237.40"/><use href="#s" x="194.70" y="237.40"/>
<use href="#s" x="215.17" y="237.40"/><use href="#s" x="220.57" y="237.40"/>
<use href="#s" x="189.30" y="245.92"/><use href="#s" x="194.70" y="245.92"/>
<use href="#s" x="215.17" y="245.92"/><use href="#s" x="220.57" y="245.92"/>
<use href="#s" x="166.13" y="254.43"/>
<use href="#s" x="189.30" y="254.43"/><use href="#s" x="194.70" y="254.43"/>
<use href="#s" x="215.17" y="254.43"/><use href="#s" x="220.57" y="254.43"/>
<use href="#s" x="166.13" y="262.95"/>
<use href="#s" x="189.30" y="262.95"/><use href="#s" x="194.70" y="262.95"/>
<use href="#s" x="215.17" y="262.95"/><use href="#s" x="220.57" y="262.95"/>
<use href="#s" x="189.30" y="271.47"/><use href="#s" x="194.70" y="271.47"/>
<use href="#s" x="189.30" y="279.98"/><use href="#s" x="194.70" y="279.98"/>
<use href="#s" x="217.87" y="279.98"/>
<use href="#s" x="189.30" y="288.50"/><use href="#s" x="194.70" y="288.50"/>
<use href="#s" x="215.17" y="288.50"/><use href="#s" x="220.57" y="288.50"/>
<use href="#s" x="163.43" y="297.01"/><use href="#s" x="168.83" y="297.01"/>
<use href="#s" x="189.30" y="297.01"/><use href="#s" x="194.70" y="297.01"/>
<use href="#s" x="163.43" y="305.53"/><use href="#s" x="168.83" y="305.53"/>
<use href="#s" x="189.30" y="305.53"/><use href="#s" x="194.70" y="305.53"/>
<use href="#s" x="163.43" y="314.05"/><use href="#s" x="168.83" y="314.05"/>
<use href="#s" x="189.30" y="314.05"/><use href="#s" x="194.70" y="314.05"/>
<use href="#s" x="192.00" y="322.56"/>
<use href="#s" x="217.87" y="322.56"/>
<use href="#s" x="163.43" y="331.08"/><use href="#s" x="168.83" y="331.08"/>
<use href="#s" x="189.30" y="331.08"/><use href="#s" x="194.70" y="331.08"/>
<use href="#s" x="215.17" y="331.08"/><use href="#s" x="220.57" y="331.08"/>
<use href="#s" x="163.43" y="339.59"/><use href="#s" x="168.83" y="339.59"/>
<use href="#s" x="189.30" y="339.59"/><use href="#s" x="194.70" y="339.59"/>
<use href="#s" x="217.87" y="339.59"/>
<use href="#s" x="189.30" y="348.11"/><use href="#s" x="194.70" y="348.11"/>
<use href="#s" x="215.17" y="348.11"/><use href="#s" x="220.57" y="348.11"/>
<use href="#s" x="189.30" y="356.63"/><use href="#s" x="194.70" y="356.63"/>
<use href="#s" x="192.00" y="365.14"/>
<use href="#s" x="189.30" y="373.66"/><use href="#s" x="194.70" y="373.66"/>
<use href="#s" x="189.30" y="382.17"/><use href="#s" x="194.70" y="382.17"/>
<use href="#s" x="215.17" y="382.17"/><use href="#s" x="220.57" y="382.17"/>
<use href="#s" x="215.17" y="390.69"/><use href="#s" x="220.57" y="390.69"/>
<use href="#s" x="192.00" y="399.21"/>
<use href="#s" x="163.43" y="407.72"/><use href="#s" x="168.83" y="407.72"/>
<use href="#s" x="163.43" y="416.24"/><use href="#s" x="168.83" y="416.24"/>
<use href="#s" x="163.43" y="424.75"/><use href="#s" x="168.83" y="424.75"/>
<use href="#s" x="189.30" y="424.75"/><use href="#s" x="194.70" y="424.75"/>
<use href="#s" x="163.43" y="433.27"/><use href="#s" x="168.83" y="433.27"/>
<use href="#s" x="189.30" y="433.27"/><use href="#s" x="194.70" y="433.27"/>
<use href="#s" x="163.43" y="441.79"/><use href="#s" x="168.83" y="441.79"/>
<use href="#s" x="189.30" y="441.79"/><use href="#s" x="194.70" y="441.79"/>
<use href="#s" x="163.43" y="450.30"/><use href="#s" x="168.83" y="450.30"/>
<use href="#s" x="189.30" y="450.30"/><use href="#s" x="194.70" y="450.30"/>
<use href="#s" x="215.17" y="450.30"/><use href="#s" x="220.57" y="450.30"/>
<use href="#s" x="163.43" y="458.82"/><use href="#s" x="168.83" y="458.82"/>
<use href="#s" x="189.30" y="458.82"/><use href="#s" x="194.70" y="458.82"/>
<use href="#s" x="215.17" y="458.82"/><use href="#s" x="220.57" y="458.82"/>
<use href="#s" x="163.43" y="467.33"/><use href="#s" x="168.83" y="467.33"/>
<use href="#s" x="189.30" y="467.33"/><use href="#s" x="194.70" y="467.33"/>
<use href="#s" x="163.43" y="475.85"/><use href="#s" x="168.83" y="475.85"/>
<use href="#s" x="163.43" y="484.37"/><use href="#s" x="168.83" y="484.37"/>
<use href="#s" x="163.43" y="492.88"/><use href="#s" x="168.83" y="492.88"/>
<use href="#s" x="189.30" y="501.40"/><use href="#s" x="194.70" y="501.40"/>
<use href="#s" x="217.87" y="509.91"/>
<use href="#s" x="189.30" y="518.43"/><use href="#s" x="194.70" y="518.43"/>
<use href="#s" x="215.17" y="518.43"/><use href="#s" x="220.57" y="518.43"/>
<use href="#s" x="189.30" y="526.95"/><use href="#s" x="194.70" y="526.95"/>
<use href="#s" x="217.87" y="526.95"/>
<use href="#s" x="189.30" y="535.46"/><use href="#s" x="194.70" y="535.46"/>
<use href="#s" x="189.30" y="543.98"/><use href="#s" x="194.70" y="543.98"/>
<use href="#s" x="217.87" y="543.98"/>
<use href="#s" x="189.30" y="552.49"/><use href="#s" x="194.70" y="552.49"/>
<use href="#s" x="215.17" y="552.49"/><use href="#s" x="220.57" y="552.49"/>
<use href="#s" x="166.13" y="561.01"/>
<use href="#s" x="189.30" y="561.01"/><use href="#s" x="194.70" y="561.01"/>
<use href="#s" x="217.87" y="561.01"/>
<use href="#s" x="189.30" y="569.53"/><use href="#s" x="194.70" y="569.53"/>
<use href="#s" x="189.30" y="578.04"/><use href="#s" x="194.70" y="578.04"/>
<use href="#s" x="189.30" y="586.56"/><use href="#s" x="194.70" y="586.56"/>
<use href="#s" x="163.43" y="595.07"/><use href="#s" x="168.83" y="595.07"/>
<use href="#s" x="189.30" y="595.07"/><use href="#s" x="194.70" y="595.07"/>
<use href="#s" x="217.87" y="595.07"/>
<use href="#s" x="166.13" y="603.59"/>
<use href="#s" x="189.30" y="603.59"/><use href="#s" x="194.70" y="603.59"/>
<use href="#s" x="163.43" y="612.11"/><use href="#s" x="168.83" y="612.11"/>
<use href="#s" x="189.30" y="612.11"/><use href="#s" x="194.70" y="612.11"/>
<use href="#s" x="215.17" y="612.11"/><use href="#s" x="220.57" y="612.11"/>
<use href="#s" x="163.43" y="620.62"/><use href="#s" x="168.83" y="620.62"/>
<use href="#s" x="189.30" y="620.62"/><use href="#s" x="194.70" y="620.62"/>
<use href="#s" x="215.17" y="620.62"/><use href="#s" x="220.57" y="620.62"/>
<use href="#s" x="163.43" y="629.14"/><use href="#s" x="168.83" y="629.14"/>
<use href="#s" x="189.30" y="629.14"/><use href="#s" x="194.70" y="629.14"/>
<use href="#s" x="217.87" y="629.14"/>
<use href="#s" x="163.43" y="637.65"/><use href="#s" x="168.83" y="637.65"/>
<use href="#s" x="189.30" y="637.65"/><use href="#s" x="194.70" y="637.65"/>
<use href="#s" x="215.17" y="637.65"/><use href="#s" x="220.57" y="637.65"/>
<use href="#s" x="166.13" y="646.17"/>
<use href="#s" x="189.30" y="646.17"/><use href="#s" x="194.70" y="646.17"/>
<use href="#s" x="215.17" y="646.17"/><use href="#s" x="220.57" y="646.17"/>
<use href="#s" x="189.30" y="654.69"/><use href="#s" x="194.70" y="654.69"/>
<use href="#s" x="215.17" y="654.69"/><use href="#s" x="220.57" y="654.69"/>
<use href="#s" x="163.43" y="663.20"/><use href="#s" x="168.83" y="663.20"/>
<use href="#s" x="189.30" y="663.20"/><use href="#s" x="194.70" y="663.20"/>
<use href="#s" x="215.17" y="663.20"/><use href="#s" x="220.57" y="663.20"/>
<use href="#s" x="163.43" y="671.72"/><use href="#s" x="168.83" y="671.72"/>
<use href="#s" x="189.30" y="671.72"/><use href="#s" x="194.70" y="671.72"/>
<use href="#s" x="189.30" y="680.23"/><use href="#s" x="194.70" y="680.23"/>
<use href="#s" x="215.17" y="680.23"/><use href="#s" x="220.57" y="680.23"/>
<use href="#s" x="163.43" y="688.75"/><use href="#s" x="168.83" y="688.75"/>
<use href="#s" x="189.30" y="688.75"/><use href="#s" x="194.70" y="688.75"/>
<use href="#s" x="215.17" y="688.75"/><use href="#s" x="220.57" y="688.75"/>
<use href="#s" x="163.43" y="697.27"/><use href="#s" x="168.83" y="697.27"/>
<use href="#s" x="189.30" y="697.27"/><use href="#s" x="194.70" y="697.27"/>
<use href="#s" x="215.17" y="697.27"/><use href="#s" x="220.57" y="697.27"/>
<use href="#s" x="163.43" y="705.78"/><use href="#s" x="168.83" y="705.78"/>
<use href="#s" x="189.30" y="705.78"/><use href="#s" x="194.70" y="705.78"/>
<use href="#s" x="215.17" y="705.78"/><use href="#s" x="220.57" y="705.78"/>
<use href="#s" x="163.43" y="714.30"/><use href="#s" x="168.83" y="714.30"/>
<use href="#s" x="189.30" y="714.30"/><use href="#s" x="194.70" y="714.30"/>
<use href="#s" x="215.17" y="714.30"/><use href="#s" x="220.57" y="714.30"/>
<use href="#s" x="163.43" y="722.81"/><use href="#s" x="168.83" y="722.81"/>
<use href="#s" x="189.30" y="722.81"/><use href="#s" x="194.70" y="722.81"/>
<use href="#s" x="163.43" y="731.33"/><use href="#s" x="168.83" y="731.33"/>
<use href="#s" x="189.30" y="731.33"/><use href="#s" x="194.70" y="731.33"/>
<use href="#s" x="215.17" y="731.33"/><use href="#s" x="220.57" y="731.33"/>
<use href="#s" x="163.43" y="739.85"/><use href="#s" x="168.83" y="739.85"/>
<use href="#s" x="189.30" y="739.85"/><use href="#s" x="194.70" y="739.85"/>
<use href="#s" x="163.43" y="748.36"/><use href="#s" x="168.83" y="748.36"/>
<use href="#s" x="189.30" y="748.36"/><use href="#s" x="194.70" y="748.36"/>
<use href="#s" x="217.87" y="748.36"/>
<use href="#s" x="163.43" y="756.88"/><use href="#s" x="168.83" y="756.88"/>
<use href="#s" x="189.30" y="756.88"/><use href="#s" x="194.70" y="756.88"/>
<use href="#s" x="217.87" y="756.88"/>
<use href="#s" x="163.43" y="765.39"/><use href="#s" x="168.83" y="765.39"/>
<use href="#s" x="189.30" y="765.39"/><use href="#s" x="194.70" y="765.39"/>
<use href="#s" x="215.17" y="765.39"/><use href="#s" x="220.57" y="765.39"/>
<use href="#s" x="163.43" y="773.91"/><use href="#s" x="168.83" y="773.91"/>
<use href="#s" x="192.00" y="773.91"/>
<use href="#s" x="166.13" y="782.43"/>
<use href="#s" x="192.00" y="782.43"/>
<use href="#s" x="163.43" y="790.94"/><use href="#s" x="168.83" y="790.94"/>
<use href="#s" x="192.00" y="790.94"/>
<use href="#s" x="163.43" y="799.46"/><use href="#s" x="168.83" y="799.46"/>
<use href="#s" x="189.30" y="799.46"/><use href="#s" x="194.70" y="799.46"/>
<use href="#s" x="215.17" y="799.46"/><use href="#s" x="220.57" y="799.46"/>
<use href="#s" x="163.43" y="807.97"/><use href="#s" x="168.83" y="807.97"/>
<use href="#s" x="189.30" y="807.97"/><use href="#s" x="194.70" y="807.97"/>
<use href="#s" x="215.17" y="807.97"/><use href="#s" x="220.57" y="807.97"/>
<use href="#s" x="189.30" y="816.49"/><use href="#s" x="194.70" y="816.49"/>
<use href="#s" x="189.30" y="825.01"/><use href="#s" x="194.70" y="825.01"/>
<use href="#s" x="217.87" y="825.01"/>
<use href="#s" x="163.43" y="833.52"/><use href="#s" x="168.83" y="833.52"/>
<use href="#s" x="189.30" y="833.52"/><use href="#s" x="194.70" y="833.52"/>
<use href="#s" x="215.17" y="833.52"/><use href="#s" x="220.57" y="833.52"/>
<use href="#s" x="163.43" y="842.04"/><use href="#s" x="168.83" y="842.04"/>
<use href="#s" x="189.30" y="842.04"/><use href="#s" x="194.70" y="842.04"/>
<use href="#s" x="163.43" y="850.55"/><use href="#s" x="168.83" y="850.55"/>
<use href="#s" x="189.30" y="850.55"/><use href="#s" x="194.70" y="850.55"/>
<use href="#s" x="163.43" y="859.07"/><use href="#s" x="168.83" y="859.07"/>
<use href="#s" x="189.30" y="859.07"/><use href="#s" x="194.70" y="859.07"/>
<use href="#s" x="215.17" y="859.07"/><use href="#s" x="220.57" y="859.07"/>
<use href="#s" x="189.30" y="867.59"/><use href="#s" x="194.70" y="867.59"/>
<use href="#s" x="163.43" y="876.10"/><use href="#s" x="168.83" y="876.10"/>
<use href="#s" x="189.30" y="876.10"/><use href="#s" x="194.70" y="876.10"/>
<use href="#s" x="163.43" y="884.62"/><use href="#s" x="168.83" y="884.62"/>
<use href="#s" x="189.30" y="884.62"/><use href="#s" x="194.70" y="884.62"/>
<use href="#s" x="163.43" y="893.13"/><use href="#s" x="168.83" y="893.13"/>
<use href="#s" x="189.30" y="893.13"/><use href="#s" x="194.70" y="893.13"/>
<use href="#s" x="215.17" y="893.13"/><use href="#s" x="220.57" y="893.13"/>
<use href="#s" x="163.43" y="901.65"/><use href="#s" x="168.83" y="901.65"/>
<use href="#s" x="189.30" y="901.65"/><use href="#s" x="194.70" y="901.65"/>
<rect x="237.30" y="46.10" width="25.72" height="8.57" fill="#db539f"/>
<rect x="262.97" y="46.10" width="25.72" height="8.57" fill="#f0b0d2"/>
<rect x="288.63" y="46.10" width="25.72" height="8.57" fill="#fbe5f0"/>
<rect x="237.30" y="54.62" width="25.72" height="8.57" fill="#db539f"/>
<rect x="262.97" y="54.62" width="25.72" height="8.57" fill="#f5c8e0"/>
<rect x="288.63" y="54.62" width="25.72" height="8.57" fill="#fadfec"/>
<rect x="237.30" y="63.13" width="25.72" height="8.57" fill="#e370af"/>
<rect x="262.97" y="63.13" width="25.72" height="8.57" fill="#f3bcd9"/>
<rect x="288.63" y="63.13" width="25.72" height="8.57" fill="#fadfec"/>
<rect x="237.30" y="71.65" width="25.72" height="8.57" fill="#e67db6"/>
<rect x="262.97" y="71.65" width="25.72" height="8.57" fill="#f3bcd9"/>
<rect x="288.63" y="71.65" width="25.72" height="8.57" fill="#fadfec"/>
<rect x="237.30" y="80.16" width="25.72" height="8.57" fill="#e67db6"/>
<rect x="262.97" y="80.16" width="25.72" height="8.57" fill="#f3bcd9"/>
<rect x="288.63" y="80.16" width="25.72" height="8.57" fill="#fadfec"/>
<rect x="237.30" y="88.68" width="25.72" height="8.57" fill="#eea3cb"/>
<rect x="262.97" y="88.68" width="25.72" height="8.57" fill="#f3bcd9"/>
<rect x="288.63" y="88.68" width="25.72" height="8.57" fill="#fceaf2"/>
<rect x="237.30" y="97.20" width="25.72" height="8.57" fill="#f0b0d2"/>
<rect x="262.97" y="97.20" width="25.72" height="8.57" fill="#f5c8e0"/>
<rect x="288.63" y="97.20" width="25.72" height="8.57" fill="#fdf4f9"/>
<rect x="237.30" y="105.71" width="25.72" height="8.57" fill="#e88abd"/>
<rect x="262.97" y="105.71" width="25.72" height="8.57" fill="#f3bcd9"/>
<rect x="288.63" y="105.71" width="25.72" height="8.57" fill="#f7d3e6"/>
<rect x="237.30" y="114.23" width="25.72" height="8.57" fill="#e88abd"/>
<rect x="262.97" y="114.23" width="25.72" height="8.57" fill="#f3bcd9"/>
<rect x="288.63" y="114.23" width="25.72" height="8.57" fill="#f7d3e6"/>
<rect x="237.30" y="122.74" width="25.72" height="8.57" fill="#eb96c4"/>
<rect x="262.97" y="122.74" width="25.72" height="8.57" fill="#f3bcd9"/>
<rect x="288.63" y="122.74" width="25.72" height="8.57" fill="#fceaf2"/>
<rect x="237.30" y="131.26" width="25.72" height="8.57" fill="#f0b0d2"/>
<rect x="262.97" y="131.26" width="25.72" height="8.57" fill="#fadfec"/>
<rect x="288.63" y="131.26" width="25.72" height="8.57" fill="#fceef5"/>
<rect x="237.30" y="139.78" width="25.72" height="8.57" fill="#eea3cb"/>
<rect x="262.97" y="139.78" width="25.72" height="8.57" fill="#f7d3e6"/>
<rect x="288.63" y="139.78" width="25.72" height="8.57" fill="#fceaf2"/>
<rect x="237.30" y="148.29" width="25.72" height="8.57" fill="#f0b0d2"/>
<rect x="262.97" y="148.29" width="25.72" height="8.57" fill="#f7d3e6"/>
<rect x="288.63" y="148.29" width="25.72" height="8.57" fill="#fadfec"/>
<rect x="237.30" y="156.81" width="25.72" height="8.57" fill="#fdf4f9"/>
<rect x="262.97" y="156.81" width="25.72" height="8.57" fill="#f5c8e0"/>
<rect x="288.63" y="156.81" width="25.72" height="8.57" fill="#fceef5"/>
<rect x="237.30" y="165.32" width="25.72" height="8.57" fill="#f5c8e0"/>
<rect x="262.97" y="165.32" width="25.72" height="8.57" fill="#fceaf2"/>
<rect x="288.63" y="165.32" width="25.72" height="8.57" fill="#fdf4f9"/>
<rect x="237.30" y="173.84" width="25.72" height="8.57" fill="#fef9fb"/>
<rect x="262.97" y="173.84" width="25.72" height="8.57" fill="#f7d3e6"/>
<rect x="288.63" y="173.84" width="25.72" height="8.57" fill="#fdf4f9"/>
<rect x="237.30" y="182.36" width="25.72" height="8.57" fill="#eb96c4"/>
<rect x="262.97" y="182.36" width="25.72" height="8.57" fill="#f5c8e0"/>
<rect x="288.63" y="182.36" width="25.72" height="8.57" fill="#f7d3e6"/>
<rect x="237.30" y="190.87" width="25.72" height="8.57" fill="#eb96c4"/>
<rect x="262.97" y="190.87" width="25.72" height="8.57" fill="#f5c8e0"/>
<rect x="288.63" y="190.87" width="25.72" height="8.57" fill="#fceaf2"/>
<rect x="237.30" y="199.39" width="25.72" height="8.57" fill="#eea3cb"/>
<rect x="262.97" y="199.39" width="25.72" height="8.57" fill="#f5c8e0"/>
<rect x="288.63" y="199.39" width="25.72" height="8.57" fill="#fceaf2"/>
<rect x="237.30" y="207.90" width="25.72" height="8.57" fill="#eb96c4"/>
<rect x="262.97" y="207.90" width="25.72" height="8.57" fill="#fadfec"/>
<rect x="288.63" y="207.90" width="25.72" height="8.57" fill="#fdf4f9"/>
<rect x="237.30" y="216.42" width="25.72" height="8.57" fill="#eea3cb"/>
<rect x="262.97" y="216.42" width="25.72" height="8.57" fill="#f7d3e6"/>
<rect x="288.63" y="216.42" width="25.72" height="8.57" fill="#fadfec"/>
<rect x="237.30" y="224.94" width="25.72" height="8.57" fill="#fceaf2"/>
<rect x="262.97" y="224.94" width="25.72" height="8.57" fill="#f7d3e6"/>
<rect x="288.63" y="224.94" width="25.72" height="8.57" fill="#f7d3e6"/>
<rect x="237.30" y="233.45" width="25.72" height="8.57" fill="#fceaf2"/>
<rect x="262.97" y="233.45" width="25.72" height="8.57" fill="#fdf4f9"/>
<rect x="288.63" y="233.45" width="25.72" height="8.57" fill="#f7d3e6"/>
<rect x="237.30" y="241.97" width="25.72" height="8.57" fill="#fdf4f9"/>
<rect x="262.97" y="241.97" width="25.72" height="8.57" fill="#f7d3e6"/>
<rect x="288.63" y="241.97" width="25.72" height="8.57" fill="#fdf4f9"/>
<rect x="237.30" y="250.48" width="25.72" height="8.57" fill="#fceaf2"/>
<rect x="262.97" y="250.48" width="25.72" height="8.57" fill="#fceaf2"/>
<rect x="288.63" y="250.48" width="25.72" height="8.57" fill="#fceaf2"/>
<rect x="237.30" y="259.00" width="25.72" height="8.57" fill="#f7d3e6"/>
<rect x="262.97" y="259.00" width="25.72" height="8.57" fill="#f7d3e6"/>
<rect x="288.63" y="259.00" width="25.72" height="8.57" fill="#fdf4f9"/>
<rect x="237.30" y="267.52" width="25.72" height="8.57" fill="#f7d3e6"/>
<rect x="262.97" y="267.52" width="25.72" height="8.57" fill="#f7d3e6"/>
<rect x="288.63" y="267.52" width="25.72" height="8.57" fill="#fadfec"/>
<rect x="237.30" y="276.03" width="25.72" height="8.57" fill="#f0b0d2"/>
<rect x="262.97" y="276.03" width="25.72" height="8.57" fill="#fadfec"/>
<rect x="288.63" y="276.03" width="25.72" height="8.57" fill="#fdf4f9"/>
<rect x="237.30" y="284.55" width="25.72" height="8.57" fill="#f3bcd9"/>
<rect x="262.97" y="284.55" width="25.72" height="8.57" fill="#f7d3e6"/>
<rect x="288.63" y="284.55" width="25.72" height="8.57" fill="#fceaf2"/>
<rect x="237.30" y="293.06" width="25.72" height="8.57" fill="#f0b0d2"/>
<rect x="262.97" y="293.06" width="25.72" height="8.57" fill="#fadfec"/>
<rect x="288.63" y="293.06" width="25.72" height="8.57" fill="#fdf4f9"/>
<rect x="237.30" y="301.58" width="25.72" height="8.57" fill="#fadfec"/>
<rect x="262.97" y="301.58" width="25.72" height="8.57" fill="#fadfec"/>
<rect x="288.63" y="301.58" width="25.72" height="8.57" fill="#fceaf2"/>
<rect x="237.30" y="310.10" width="25.72" height="8.57" fill="#f5c8e0"/>
<rect x="262.97" y="310.10" width="25.72" height="8.57" fill="#f7d3e6"/>
<rect x="288.63" y="310.10" width="25.72" height="8.57" fill="#fadfec"/>
<rect x="237.30" y="318.61" width="25.72" height="8.57" fill="#f3bcd9"/>
<rect x="262.97" y="318.61" width="25.72" height="8.57" fill="#f5c8e0"/>
<rect x="288.63" y="318.61" width="25.72" height="8.57" fill="#fceaf2"/>
<rect x="237.30" y="327.13" width="25.72" height="8.57" fill="#f7d3e6"/>
<rect x="262.97" y="327.13" width="25.72" height="8.57" fill="#fceaf2"/>
<rect x="288.63" y="327.13" width="25.72" height="8.57" fill="#fceef5"/>
<rect x="237.30" y="335.64" width="25.72" height="8.57" fill="#ffffff"/>
<rect x="262.97" y="335.64" width="25.72" height="8.57" fill="#fdf4f9"/>
<rect x="288.63" y="335.64" width="25.72" height="8.57" fill="#fadfec"/>
<rect x="237.30" y="344.16" width="25.72" height="8.57" fill="#fceaf2"/>
<rect x="262.97" y="344.16" width="25.72" height="8.57" fill="#fdf4f9"/>
<rect x="288.63" y="344.16" width="25.72" height="8.57" fill="#fceaf2"/>
<rect x="237.30" y="352.68" width="25.72" height="8.57" fill="#f7d3e6"/>
<rect x="262.97" y="352.68" width="25.72" height="8.57" fill="#fceaf2"/>
<rect x="288.63" y="352.68" width="25.72" height="8.57" fill="#fadfec"/>
<rect x="237.30" y="361.19" width="25.72" height="8.57" fill="#fdf4f9"/>
<rect x="262.97" y="361.19" width="25.72" height="8.57" fill="#f7d3e6"/>
<rect x="288.63" y="361.19" width="25.72" height="8.57" fill="#fdf4f9"/>
<rect x="237.30" y="369.71" width="25.72" height="8.57" fill="#fdf4f9"/>
<rect x="262.97" y="369.71" width="25.72" height="8.57" fill="#fadfec"/>
<rect x="288.63" y="369.71" width="25.72" height="8.57" fill="#fadfec"/>
<rect x="237.30" y="378.22" width="25.72" height="8.57" fill="#fdf4f9"/>
<rect x="262.97" y="378.22" width="25.72" height="8.57" fill="#fadfec"/>
<rect x="288.63" y="378.22" width="25.72" height="8.57" fill="#fdf4f9"/>
<rect x="237.30" y="386.74" width="25.72" height="8.57" fill="#f7d3e6"/>
<rect x="262.97" y="386.74" width="25.72" height="8.57" fill="#fdf4f9"/>
<rect x="288.63" y="386.74" width="25.72" height="8.57" fill="#fdf4f9"/>
<rect x="237.30" y="395.26" width="25.72" height="8.57" fill="#c9d3f1"/>
<rect x="262.97" y="395.26" width="25.72" height="8.57" fill="#ffffff"/>
<rect x="288.63" y="395.26" width="25.72" height="8.57" fill="#fef9fb"/>
<rect x="237.30" y="403.77" width="25.72" height="8.57" fill="#f3bcd9"/>
<rect x="262.97" y="403.77" width="25.72" height="8.57" fill="#fdf4f9"/>
<rect x="288.63" y="403.77" width="25.72" height="8.57" fill="#fef9fb"/>
<rect x="237.30" y="412.29" width="25.72" height="8.57" fill="#d3dbf3"/>
<rect x="262.97" y="412.29" width="25.72" height="8.57" fill="#fefbfc"/>
<rect x="288.63" y="412.29" width="25.72" height="8.57" fill="#fefbfc"/>
<rect x="237.30" y="420.80" width="25.72" height="8.57" fill="#ffffff"/>
<rect x="262.97" y="420.80" width="25.72" height="8.57" fill="#ffffff"/>
<rect x="288.63" y="420.80" width="25.72" height="8.57" fill="#edf0fa"/>
<rect x="237.30" y="429.32" width="25.72" height="8.57" fill="#e8ecf8"/>
<rect x="262.97" y="429.32" width="25.72" height="8.57" fill="#ffffff"/>
<rect x="288.63" y="429.32" width="25.72" height="8.57" fill="#ffffff"/>
<rect x="237.30" y="437.84" width="25.72" height="8.57" fill="#bfcbef"/>
<rect x="262.97" y="437.84" width="25.72" height="8.57" fill="#d3dbf3"/>
<rect x="288.63" y="437.84" width="25.72" height="8.57" fill="#f8f9fd"/>
<rect x="237.30" y="446.35" width="25.72" height="8.57" fill="#dde4f6"/>
<rect x="262.97" y="446.35" width="25.72" height="8.57" fill="#e8ecf8"/>
<rect x="288.63" y="446.35" width="25.72" height="8.57" fill="#f4f6fc"/>
<rect x="237.30" y="454.87" width="25.72" height="8.57" fill="#dde4f6"/>
<rect x="262.97" y="454.87" width="25.72" height="8.57" fill="#dde4f6"/>
<rect x="288.63" y="454.87" width="25.72" height="8.57" fill="#f4f6fc"/>
<rect x="237.30" y="463.38" width="25.72" height="8.57" fill="#c9d3f1"/>
<rect x="262.97" y="463.38" width="25.72" height="8.57" fill="#dde4f6"/>
<rect x="288.63" y="463.38" width="25.72" height="8.57" fill="#f8f9fd"/>
<rect x="237.30" y="471.90" width="25.72" height="8.57" fill="#e8ecf8"/>
<rect x="262.97" y="471.90" width="25.72" height="8.57" fill="#f4f6fc"/>
<rect x="288.63" y="471.90" width="25.72" height="8.57" fill="#f4f6fc"/>
<rect x="237.30" y="480.42" width="25.72" height="8.57" fill="#dde4f6"/>
<rect x="262.97" y="480.42" width="25.72" height="8.57" fill="#f4f6fc"/>
<rect x="288.63" y="480.42" width="25.72" height="8.57" fill="#fafbfe"/>
<rect x="237.30" y="488.93" width="25.72" height="8.57" fill="#dde4f6"/>
<rect x="262.97" y="488.93" width="25.72" height="8.57" fill="#f4f6fc"/>
<rect x="288.63" y="488.93" width="25.72" height="8.57" fill="#fafbfe"/>
<rect x="237.30" y="497.45" width="25.72" height="8.57" fill="#e8ecf8"/>
<rect x="262.97" y="497.45" width="25.72" height="8.57" fill="#f4f6fc"/>
<rect x="288.63" y="497.45" width="25.72" height="8.57" fill="#fafbfe"/>
<rect x="237.30" y="505.96" width="25.72" height="8.57" fill="#d3dbf3"/>
<rect x="262.97" y="505.96" width="25.72" height="8.57" fill="#ffffff"/>
<rect x="288.63" y="505.96" width="25.72" height="8.57" fill="#fafbfe"/>
<rect x="237.30" y="514.48" width="25.72" height="8.57" fill="#dde4f6"/>
<rect x="262.97" y="514.48" width="25.72" height="8.57" fill="#f4f6fc"/>
<rect x="288.63" y="514.48" width="25.72" height="8.57" fill="#f8f9fd"/>
<rect x="237.30" y="523.00" width="25.72" height="8.57" fill="#bfcbef"/>
<rect x="262.97" y="523.00" width="25.72" height="8.57" fill="#f4f6fc"/>
<rect x="288.63" y="523.00" width="25.72" height="8.57" fill="#f8f9fd"/>
<rect x="237.30" y="531.51" width="25.72" height="8.57" fill="#bfcbef"/>
<rect x="262.97" y="531.51" width="25.72" height="8.57" fill="#dde4f6"/>
<rect x="288.63" y="531.51" width="25.72" height="8.57" fill="#f8f9fd"/>
<rect x="237.30" y="540.03" width="25.72" height="8.57" fill="#b2c1ec"/>
<rect x="262.97" y="540.03" width="25.72" height="8.57" fill="#dde4f6"/>
<rect x="288.63" y="540.03" width="25.72" height="8.57" fill="#f4f6fc"/>
<rect x="237.30" y="548.54" width="25.72" height="8.57" fill="#d3dbf3"/>
<rect x="262.97" y="548.54" width="25.72" height="8.57" fill="#f4f6fc"/>
<rect x="288.63" y="548.54" width="25.72" height="8.57" fill="#fafbfe"/>
<rect x="237.30" y="557.06" width="25.72" height="8.57" fill="#dde4f6"/>
<rect x="262.97" y="557.06" width="25.72" height="8.57" fill="#e8ecf8"/>
<rect x="288.63" y="557.06" width="25.72" height="8.57" fill="#f8f9fd"/>
<rect x="237.30" y="565.58" width="25.72" height="8.57" fill="#dde4f6"/>
<rect x="262.97" y="565.58" width="25.72" height="8.57" fill="#dde4f6"/>
<rect x="288.63" y="565.58" width="25.72" height="8.57" fill="#f8f9fd"/>
<rect x="237.30" y="574.09" width="25.72" height="8.57" fill="#dde4f6"/>
<rect x="262.97" y="574.09" width="25.72" height="8.57" fill="#dde4f6"/>
<rect x="288.63" y="574.09" width="25.72" height="8.57" fill="#f4f6fc"/>
<rect x="237.30" y="582.61" width="25.72" height="8.57" fill="#dde4f6"/>
<rect x="262.97" y="582.61" width="25.72" height="8.57" fill="#f4f6fc"/>
<rect x="288.63" y="582.61" width="25.72" height="8.57" fill="#f8f9fd"/>
<rect x="237.30" y="591.12" width="25.72" height="8.57" fill="#dde4f6"/>
<rect x="262.97" y="591.12" width="25.72" height="8.57" fill="#dde4f6"/>
<rect x="288.63" y="591.12" width="25.72" height="8.57" fill="#f4f6fc"/>
<rect x="237.30" y="599.64" width="25.72" height="8.57" fill="#d3dbf3"/>
<rect x="262.97" y="599.64" width="25.72" height="8.57" fill="#dde4f6"/>
<rect x="288.63" y="599.64" width="25.72" height="8.57" fill="#f4f6fc"/>
<rect x="237.30" y="608.16" width="25.72" height="8.57" fill="#bfcbef"/>
<rect x="262.97" y="608.16" width="25.72" height="8.57" fill="#dde4f6"/>
<rect x="288.63" y="608.16" width="25.72" height="8.57" fill="#f4f6fc"/>
<rect x="237.30" y="616.67" width="25.72" height="8.57" fill="#99aee7"/>
<rect x="262.97" y="616.67" width="25.72" height="8.57" fill="#dde4f6"/>
<rect x="288.63" y="616.67" width="25.72" height="8.57" fill="#e8ecf8"/>
<rect x="237.30" y="625.19" width="25.72" height="8.57" fill="#f4f6fc"/>
<rect x="262.97" y="625.19" width="25.72" height="8.57" fill="#f4f6fc"/>
<rect x="288.63" y="625.19" width="25.72" height="8.57" fill="#f8f9fd"/>
<rect x="237.30" y="633.70" width="25.72" height="8.57" fill="#f4f6fc"/>
<rect x="262.97" y="633.70" width="25.72" height="8.57" fill="#f4f6fc"/>
<rect x="288.63" y="633.70" width="25.72" height="8.57" fill="#f8f9fd"/>
<rect x="237.30" y="642.22" width="25.72" height="8.57" fill="#f8f9fd"/>
<rect x="262.97" y="642.22" width="25.72" height="8.57" fill="#e8ecf8"/>
<rect x="288.63" y="642.22" width="25.72" height="8.57" fill="#f4f6fc"/>
<rect x="237.30" y="650.74" width="25.72" height="8.57" fill="#e8ecf8"/>
<rect x="262.97" y="650.74" width="25.72" height="8.57" fill="#e8ecf8"/>
<rect x="288.63" y="650.74" width="25.72" height="8.57" fill="#f4f6fc"/>
<rect x="237.30" y="659.25" width="25.72" height="8.57" fill="#e8ecf8"/>
<rect x="262.97" y="659.25" width="25.72" height="8.57" fill="#dde4f6"/>
<rect x="288.63" y="659.25" width="25.72" height="8.57" fill="#f4f6fc"/>
<rect x="237.30" y="667.77" width="25.72" height="8.57" fill="#e8ecf8"/>
<rect x="262.97" y="667.77" width="25.72" height="8.57" fill="#e8ecf8"/>
<rect x="288.63" y="667.77" width="25.72" height="8.57" fill="#f4f6fc"/>
<rect x="237.30" y="676.28" width="25.72" height="8.57" fill="#e8ecf8"/>
<rect x="262.97" y="676.28" width="25.72" height="8.57" fill="#dde4f6"/>
<rect x="288.63" y="676.28" width="25.72" height="8.57" fill="#f8f9fd"/>
<rect x="237.30" y="684.80" width="25.72" height="8.57" fill="#dde4f6"/>
<rect x="262.97" y="684.80" width="25.72" height="8.57" fill="#dde4f6"/>
<rect x="288.63" y="684.80" width="25.72" height="8.57" fill="#f8f9fd"/>
<rect x="237.30" y="693.32" width="25.72" height="8.57" fill="#dde4f6"/>
<rect x="262.97" y="693.32" width="25.72" height="8.57" fill="#dde4f6"/>
<rect x="288.63" y="693.32" width="25.72" height="8.57" fill="#f8f9fd"/>
<rect x="237.30" y="701.83" width="25.72" height="8.57" fill="#d3dbf3"/>
<rect x="262.97" y="701.83" width="25.72" height="8.57" fill="#dde4f6"/>
<rect x="288.63" y="701.83" width="25.72" height="8.57" fill="#f8f9fd"/>
<rect x="237.30" y="710.35" width="25.72" height="8.57" fill="#dde4f6"/>
<rect x="262.97" y="710.35" width="25.72" height="8.57" fill="#dde4f6"/>
<rect x="288.63" y="710.35" width="25.72" height="8.57" fill="#f8f9fd"/>
<rect x="237.30" y="718.86" width="25.72" height="8.57" fill="#8da6e5"/>
<rect x="262.97" y="718.86" width="25.72" height="8.57" fill="#d3dbf3"/>
<rect x="288.63" y="718.86" width="25.72" height="8.57" fill="#dde4f6"/>
<rect x="237.30" y="727.38" width="25.72" height="8.57" fill="#99aee7"/>
<rect x="262.97" y="727.38" width="25.72" height="8.57" fill="#d3dbf3"/>
<rect x="288.63" y="727.38" width="25.72" height="8.57" fill="#dde4f6"/>
<rect x="237.30" y="735.90" width="25.72" height="8.57" fill="#99aee7"/>
<rect x="262.97" y="735.90" width="25.72" height="8.57" fill="#d3dbf3"/>
<rect x="288.63" y="735.90" width="25.72" height="8.57" fill="#e8ecf8"/>
<rect x="237.30" y="744.41" width="25.72" height="8.57" fill="#a6b8ea"/>
<rect x="262.97" y="744.41" width="25.72" height="8.57" fill="#dde4f6"/>
<rect x="288.63" y="744.41" width="25.72" height="8.57" fill="#f4f6fc"/>
<rect x="237.30" y="752.93" width="25.72" height="8.57" fill="#b2c1ec"/>
<rect x="262.97" y="752.93" width="25.72" height="8.57" fill="#d3dbf3"/>
<rect x="288.63" y="752.93" width="25.72" height="8.57" fill="#dde4f6"/>
<rect x="237.30" y="761.44" width="25.72" height="8.57" fill="#b2c1ec"/>
<rect x="262.97" y="761.44" width="25.72" height="8.57" fill="#d3dbf3"/>
<rect x="288.63" y="761.44" width="25.72" height="8.57" fill="#e8ecf8"/>
<rect x="237.30" y="769.96" width="25.72" height="8.57" fill="#a6b8ea"/>
<rect x="262.97" y="769.96" width="25.72" height="8.57" fill="#e8ecf8"/>
<rect x="288.63" y="769.96" width="25.72" height="8.57" fill="#ffffff"/>
<rect x="237.30" y="778.48" width="25.72" height="8.57" fill="#a6b8ea"/>
<rect x="262.97" y="778.48" width="25.72" height="8.57" fill="#f4f6fc"/>
<rect x="288.63" y="778.48" width="25.72" height="8.57" fill="#fafbfe"/>
<rect x="237.30" y="786.99" width="25.72" height="8.57" fill="#759ae0"/>
<rect x="262.97" y="786.99" width="25.72" height="8.57" fill="#f4f6fc"/>
<rect x="288.63" y="786.99" width="25.72" height="8.57" fill="#fafbfe"/>
<rect x="237.30" y="795.51" width="25.72" height="8.57" fill="#a6b8ea"/>
<rect x="262.97" y="795.51" width="25.72" height="8.57" fill="#dde4f6"/>
<rect x="288.63" y="795.51" width="25.72" height="8.57" fill="#f4f6fc"/>
<rect x="237.30" y="804.02" width="25.72" height="8.57" fill="#99aee7"/>
<rect x="262.97" y="804.02" width="25.72" height="8.57" fill="#d3dbf3"/>
<rect x="288.63" y="804.02" width="25.72" height="8.57" fill="#f4f6fc"/>
<rect x="237.30" y="812.54" width="25.72" height="8.57" fill="#bfcbef"/>
<rect x="262.97" y="812.54" width="25.72" height="8.57" fill="#f4f6fc"/>
<rect x="288.63" y="812.54" width="25.72" height="8.57" fill="#f8f9fd"/>
<rect x="237.30" y="821.06" width="25.72" height="8.57" fill="#b2c1ec"/>
<rect x="262.97" y="821.06" width="25.72" height="8.57" fill="#d3dbf3"/>
<rect x="288.63" y="821.06" width="25.72" height="8.57" fill="#dde4f6"/>
<rect x="237.30" y="829.57" width="25.72" height="8.57" fill="#b2c1ec"/>
<rect x="262.97" y="829.57" width="25.72" height="8.57" fill="#d3dbf3"/>
<rect x="288.63" y="829.57" width="25.72" height="8.57" fill="#f4f6fc"/>
<rect x="237.30" y="838.09" width="25.72" height="8.57" fill="#81a0e3"/>
<rect x="262.97" y="838.09" width="25.72" height="8.57" fill="#e8ecf8"/>
<rect x="288.63" y="838.09" width="25.72" height="8.57" fill="#f4f6fc"/>
<rect x="237.30" y="846.60" width="25.72" height="8.57" fill="#ffffff"/>
<rect x="262.97" y="846.60" width="25.72" height="8.57" fill="#f4f6fc"/>
<rect x="288.63" y="846.60" width="25.72" height="8.57" fill="#e8ecf8"/>
<rect x="237.30" y="855.12" width="25.72" height="8.57" fill="#bfcbef"/>
<rect x="262.97" y="855.12" width="25.72" height="8.57" fill="#d3dbf3"/>
<rect x="288.63" y="855.12" width="25.72" height="8.57" fill="#e8ecf8"/>
<rect x="237.30" y="863.64" width="25.72" height="8.57" fill="#c9d3f1"/>
<rect x="262.97" y="863.64" width="25.72" height="8.57" fill="#f4f6fc"/>
<rect x="288.63" y="863.64" width="25.72" height="8.57" fill="#f4f6fc"/>
<rect x="237.30" y="872.15" width="25.72" height="8.57" fill="#c9d3f1"/>
<rect x="262.97" y="872.15" width="25.72" height="8.57" fill="#dde4f6"/>
<rect x="288.63" y="872.15" width="25.72" height="8.57" fill="#f4f6fc"/>
<rect x="237.30" y="880.67" width="25.72" height="8.57" fill="#c9d3f1"/>
<rect x="262.97" y="880.67" width="25.72" height="8.57" fill="#d3dbf3"/>
<rect x="288.63" y="880.67" width="25.72" height="8.57" fill="#e8ecf8"/>
<rect x="237.30" y="889.18" width="25.72" height="8.57" fill="#c9d3f1"/>
<rect x="262.97" y="889.18" width="25.72" height="8.57" fill="#d3dbf3"/>
<rect x="288.63" y="889.18" width="25.72" height="8.57" fill="#e8ecf8"/>
<rect x="237.30" y="897.70" width="25.72" height="8.57" fill="#f8f9fd"/>
<rect x="262.97" y="897.70" width="25.72" height="8.57" fill="#e8ecf8"/>
<rect x="288.63" y="897.70" width="25.72" height="8.57" fill="#f4f6fc"/>
<path d="M237.30,46.10H314.30M237.30,54.62H314.30M237.30,63.13H314.30M237.30,71.65H314.30M237.30,80.16H314.30M237.30,88.68H314.30M237.30,97.20H314.30M237.30,105.71H314.30M237.30,114.23H314.30M237.30,122.74H314.30M237.30,131.26H314.30M237.30,139.78H314.30M237.30,148.29H314.30M237.30,156.81H314.30M237.30,165.32H314.30M237.30,173.84H314.30M237.30,182.36H314.30M237.30,190.87H314.30M237.30,199.39H314.30M237.30,207.90H314.30M237.30,216.42H314.30M237.30,224.94H314.30M237.30,233.45H314.30M237.30,241.97H314.30M237.30,250.48H314.30M237.30,259.00H314.30M237.30,267.52H314.30M237.30,276.03H314.30M237.30,284.55H314.30M237.30,293.06H314.30M237.30,301.58H314.30M237.30,310.10H314.30M237.30,318.61H314.30M237.30,327.13H314.30M237.30,335.64H314.30M237.30,344.16H314.30M237.30,352.68H314.30M237.30,361.19H314.30M237.30,369.71H314.30M237.30,378.22H314.30M237.30,386.74H314.30M237.30,395.26H314.30M237.30,403.77H314.30M237.30,412.29H314.30M237.30,420.80H314.30M237.30,429.32H314.30M237.30,437.84H314.30M237.30,446.35H314.30M237.30,454.87H314.30M237.30,463.38H314.30M237.30,471.90H314.30M237.30,480.42H314.30M237.30,488.93H314.30M237.30,497.45H314.30M237.30,505.96H314.30M237.30,514.48H314.30M237.30,523.00H314.30M237.30,531.51H314.30M237.30,540.03H314.30M237.30,548.54H314.30M237.30,557.06H314.30M237.30,565.58H314.30M237.30,574.09H314.30M237.30,582.61H314.30M237.30,591.12H314.30M237.30,599.64H314.30M237.30,608.16H314.30M237.30,616.67H314.30M237.30,625.19H314.30M237.30,633.70H314.30M237.30,642.22H314.30M237.30,650.74H314.30M237.30,659.25H314.30M237.30,667.77H314.30M237.30,676.28H314.30M237.30,684.80H314.30M237.30,693.32H314.30M237.30,701.83H314.30M237.30,710.35H314.30M237.30,718.86H314.30M237.30,727.38H314.30M237.30,735.90H314.30M237.30,744.41H314.30M237.30,752.93H314.30M237.30,761.44H314.30M237.30,769.96H314.30M237.30,778.48H314.30M237.30,786.99H314.30M237.30,795.51H314.30M237.30,804.02H314.30M237.30,812.54H314.30M237.30,821.06H314.30M237.30,829.57H314.30M237.30,838.09H314.30M237.30,846.60H314.30M237.30,855.12H314.30M237.30,863.64H314.30M237.30,872.15H314.30M237.30,880.67H314.30M237.30,889.18H314.30M237.30,897.70H314.30M237.30,906.22H314.30M237.30,46.10V906.22M262.97,46.10V906.22M288.63,46.10V906.22M314.30,46.10V906.22" stroke="#aaaaaa" stroke-opacity="0.68" stroke-width="0.9" fill="none"/>
<use href="#s" x="247.43" y="50.05"/><use href="#s" x="252.83" y="50.05"/>
<use href="#s" x="273.10" y="50.05"/><use href="#s" x="278.50" y="50.05"/>
<use href="#s" x="298.77" y="50.05"/><use href="#s" x="304.17" y="50.05"/>
<use href="#s" x="247.43" y="58.57"/><use href="#s" x="252.83" y="58.57"/>
<use href="#s" x="273.10" y="58.57"/><use href="#s" x="278.50" y="58.57"/>
<use href="#s" x="298.77" y="58.57"/><use href="#s" x="304.17" y="58.57"/>
<use href="#s" x="247.43" y="67.08"/><use href="#s" x="252.83" y="67.08"/>
<use href="#s" x="273.10" y="67.08"/><use href="#s" x="278.50" y="67.08"/>
<use href="#s" x="298.77" y="67.08"/><use href="#s" x="304.17" y="67.08"/>
<use href="#s" x="247.43" y="75.60"/><use href="#s" x="252.83" y="75.60"/>
<use href="#s" x="273.10" y="75.60"/><use href="#s" x="278.50" y="75.60"/>
<use href="#s" x="298.77" y="75.60"/><use href="#s" x="304.17" y="75.60"/>
<use href="#s" x="247.43" y="84.11"/><use href="#s" x="252.83" y="84.11"/>
<use href="#s" x="273.10" y="84.11"/><use href="#s" x="278.50" y="84.11"/>
<use href="#s" x="298.77" y="84.11"/><use href="#s" x="304.17" y="84.11"/>
<use href="#s" x="247.43" y="92.63"/><use href="#s" x="252.83" y="92.63"/>
<use href="#s" x="273.10" y="92.63"/><use href="#s" x="278.50" y="92.63"/>
<use href="#s" x="301.47" y="92.63"/>
<use href="#s" x="247.43" y="101.15"/><use href="#s" x="252.83" y="101.15"/>
<use href="#s" x="273.10" y="101.15"/><use href="#s" x="278.50" y="101.15"/>
<use href="#s" x="247.43" y="109.66"/><use href="#s" x="252.83" y="109.66"/>
<use href="#s" x="273.10" y="109.66"/><use href="#s" x="278.50" y="109.66"/>
<use href="#s" x="298.77" y="109.66"/><use href="#s" x="304.17" y="109.66"/>
<use href="#s" x="247.43" y="118.18"/><use href="#s" x="252.83" y="118.18"/>
<use href="#s" x="273.10" y="118.18"/><use href="#s" x="278.50" y="118.18"/>
<use href="#s" x="298.77" y="118.18"/><use href="#s" x="304.17" y="118.18"/>
<use href="#s" x="247.43" y="126.69"/><use href="#s" x="252.83" y="126.69"/>
<use href="#s" x="273.10" y="126.69"/><use href="#s" x="278.50" y="126.69"/>
<use href="#s" x="247.43" y="135.21"/><use href="#s" x="252.83" y="135.21"/>
<use href="#s" x="273.10" y="135.21"/><use href="#s" x="278.50" y="135.21"/>
<use href="#s" x="247.43" y="143.73"/><use href="#s" x="252.83" y="143.73"/>
<use href="#s" x="273.10" y="143.73"/><use href="#s" x="278.50" y="143.73"/>
<use href="#s" x="301.47" y="143.73"/>
<use href="#s" x="247.43" y="152.24"/><use href="#s" x="252.83" y="152.24"/>
<use href="#s" x="273.10" y="152.24"/><use href="#s" x="278.50" y="152.24"/>
<use href="#s" x="298.77" y="152.24"/><use href="#s" x="304.17" y="152.24"/>
<use href="#s" x="273.10" y="160.76"/><use href="#s" x="278.50" y="160.76"/>
<use href="#s" x="250.13" y="169.27"/>
<use href="#s" x="273.10" y="177.79"/><use href="#s" x="278.50" y="177.79"/>
<use href="#s" x="247.43" y="186.31"/><use href="#s" x="252.83" y="186.31"/>
<use href="#s" x="273.10" y="186.31"/><use href="#s" x="278.50" y="186.31"/>
<use href="#s" x="298.77" y="186.31"/><use href="#s" x="304.17" y="186.31"/>
<use href="#s" x="247.43" y="194.82"/><use href="#s" x="252.83" y="194.82"/>
<use href="#s" x="273.10" y="194.82"/><use href="#s" x="278.50" y="194.82"/>
<use href="#s" x="301.47" y="194.82"/>
<use href="#s" x="247.43" y="203.34"/><use href="#s" x="252.83" y="203.34"/>
<use href="#s" x="273.10" y="203.34"/><use href="#s" x="278.50" y="203.34"/>
<use href="#s" x="301.47" y="203.34"/>
<use href="#s" x="247.43" y="211.85"/><use href="#s" x="252.83" y="211.85"/>
<use href="#s" x="275.80" y="211.85"/>
<use href="#s" x="247.43" y="220.37"/><use href="#s" x="252.83" y="220.37"/>
<use href="#s" x="273.10" y="220.37"/><use href="#s" x="278.50" y="220.37"/>
<use href="#s" x="298.77" y="220.37"/><use href="#s" x="304.17" y="220.37"/>
<use href="#s" x="273.10" y="228.89"/><use href="#s" x="278.50" y="228.89"/>
<use href="#s" x="298.77" y="228.89"/><use href="#s" x="304.17" y="228.89"/>
<use href="#s" x="298.77" y="237.40"/><use href="#s" x="304.17" y="237.40"/>
<use href="#s" x="273.10" y="245.92"/><use href="#s" x="278.50" y="245.92"/>
<use href="#s" x="275.80" y="254.43"/>
<use href="#s" x="301.47" y="254.43"/>
<use href="#s" x="250.13" y="262.95"/>
<use href="#s" x="273.10" y="262.95"/><use href="#s" x="278.50" y="262.95"/>
<use href="#s" x="250.13" y="271.47"/>
<use href="#s" x="273.10" y="271.47"/><use href="#s" x="278.50" y="271.47"/>
<use href="#s" x="298.77" y="271.47"/><use href="#s" x="304.17" y="271.47"/>
<use href="#s" x="247.43" y="279.98"/><use href="#s" x="252.83" y="279.98"/>
<use href="#s" x="273.10" y="279.98"/><use href="#s" x="278.50" y="279.98"/>
<use href="#s" x="250.13" y="288.50"/>
<use href="#s" x="273.10" y="288.50"/><use href="#s" x="278.50" y="288.50"/>
<use href="#s" x="301.47" y="288.50"/>
<use href="#s" x="247.43" y="297.01"/><use href="#s" x="252.83" y="297.01"/>
<use href="#s" x="275.80" y="297.01"/>
<use href="#s" x="250.13" y="305.53"/>
<use href="#s" x="273.10" y="305.53"/><use href="#s" x="278.50" y="305.53"/>
<use href="#s" x="301.47" y="305.53"/>
<use href="#s" x="247.43" y="314.05"/><use href="#s" x="252.83" y="314.05"/>
<use href="#s" x="273.10" y="314.05"/><use href="#s" x="278.50" y="314.05"/>
<use href="#s" x="298.77" y="314.05"/><use href="#s" x="304.17" y="314.05"/>
<use href="#s" x="273.10" y="322.56"/><use href="#s" x="278.50" y="322.56"/>
<use href="#s" x="250.13" y="331.08"/>
<use href="#s" x="298.77" y="339.59"/><use href="#s" x="304.17" y="339.59"/>
<use href="#s" x="301.47" y="348.11"/>
<use href="#s" x="247.43" y="356.63"/><use href="#s" x="252.83" y="356.63"/>
<use href="#s" x="275.80" y="356.63"/>
<use href="#s" x="298.77" y="356.63"/><use href="#s" x="304.17" y="356.63"/>
<use href="#s" x="273.10" y="365.14"/><use href="#s" x="278.50" y="365.14"/>
<use href="#s" x="250.13" y="373.66"/>
<use href="#s" x="273.10" y="373.66"/><use href="#s" x="278.50" y="373.66"/>
<use href="#s" x="298.77" y="373.66"/><use href="#s" x="304.17" y="373.66"/>
<use href="#s" x="273.10" y="382.17"/><use href="#s" x="278.50" y="382.17"/>
<use href="#s" x="250.13" y="390.69"/>
<use href="#s" x="275.80" y="390.69"/>
<use href="#s" x="301.47" y="390.69"/>
<use href="#s" x="250.13" y="399.21"/>
<use href="#s" x="250.13" y="407.72"/>
<use href="#s" x="250.13" y="416.24"/>
<use href="#s" x="301.47" y="424.75"/>
<use href="#s" x="250.13" y="433.27"/>
<use href="#s" x="247.43" y="441.79"/><use href="#s" x="252.83" y="441.79"/>
<use href="#s" x="273.10" y="441.79"/><use href="#s" x="278.50" y="441.79"/>
<use href="#s" x="275.80" y="450.30"/>
<use href="#s" x="273.10" y="458.82"/><use href="#s" x="278.50" y="458.82"/>
<use href="#s" x="250.13" y="467.33"/>
<use href="#s" x="273.10" y="467.33"/><use href="#s" x="278.50" y="467.33"/>
<use href="#s" x="275.80" y="475.85"/>
<use href="#s" x="250.13" y="484.37"/>
<use href="#s" x="250.13" y="492.88"/>
<use href="#s" x="275.80" y="501.40"/>
<use href="#s" x="250.13" y="509.91"/>
<use href="#s" x="275.80" y="518.43"/>
<use href="#s" x="247.43" y="526.95"/><use href="#s" x="252.83" y="526.95"/>
<use href="#s" x="247.43" y="535.46"/><use href="#s" x="252.83" y="535.46"/>
<use href="#s" x="273.10" y="535.46"/><use href="#s" x="278.50" y="535.46"/>
<use href="#s" x="247.43" y="543.98"/><use href="#s" x="252.83" y="543.98"/>
<use href="#s" x="273.10" y="543.98"/><use href="#s" x="278.50" y="543.98"/>
<use href="#s" x="250.13" y="552.49"/>
<use href="#s" x="275.80" y="552.49"/>
<use href="#s" x="250.13" y="561.01"/>
<use href="#s" x="273.10" y="561.01"/><use href="#s" x="278.50" y="561.01"/>
<use href="#s" x="273.10" y="569.53"/><use href="#s" x="278.50" y="569.53"/>
<use href="#s" x="250.13" y="578.04"/>
<use href="#s" x="273.10" y="578.04"/><use href="#s" x="278.50" y="578.04"/>
<use href="#s" x="298.77" y="578.04"/><use href="#s" x="304.17" y="578.04"/>
<use href="#s" x="250.13" y="586.56"/>
<use href="#s" x="275.80" y="586.56"/>
<use href="#s" x="250.13" y="595.07"/>
<use href="#s" x="273.10" y="595.07"/><use href="#s" x="278.50" y="595.07"/>
<use href="#s" x="273.10" y="603.59"/><use href="#s" x="278.50" y="603.59"/>
<use href="#s" x="301.47" y="603.59"/>
<use href="#s" x="247.43" y="612.11"/><use href="#s" x="252.83" y="612.11"/>
<use href="#s" x="273.10" y="612.11"/><use href="#s" x="278.50" y="612.11"/>
<use href="#s" x="301.47" y="612.11"/>
<use href="#s" x="247.43" y="620.62"/><use href="#s" x="252.83" y="620.62"/>
<use href="#s" x="273.10" y="620.62"/><use href="#s" x="278.50" y="620.62"/>
<use href="#s" x="298.77" y="620.62"/><use href="#s" x="304.17" y="620.62"/>
<use href="#s" x="275.80" y="629.14"/>
<use href="#s" x="301.47" y="637.65"/>
<use href="#s" x="275.80" y="646.17"/>
<use href="#s" x="275.80" y="654.69"/>
<use href="#s" x="273.10" y="663.20"/><use href="#s" x="278.50" y="663.20"/>
<use href="#s" x="301.47" y="663.20"/>
<use href="#s" x="275.80" y="671.72"/>
<use href="#s" x="301.47" y="671.72"/>
<use href="#s" x="273.10" y="680.23"/><use href="#s" x="278.50" y="680.23"/>
<use href="#s" x="247.43" y="688.75"/><use href="#s" x="252.83" y="688.75"/>
<use href="#s" x="273.10" y="688.75"/><use href="#s" x="278.50" y="688.75"/>
<use href="#s" x="247.43" y="697.27"/><use href="#s" x="252.83" y="697.27"/>
<use href="#s" x="273.10" y="697.27"/><use href="#s" x="278.50" y="697.27"/>
<use href="#s" x="273.10" y="705.78"/><use href="#s" x="278.50" y="705.78"/>
<use href="#s" x="273.10" y="714.30"/><use href="#s" x="278.50" y="714.30"/>
<use href="#s" x="247.43" y="722.81"/><use href="#s" x="252.83" y="722.81"/>
<use href="#s" x="273.10" y="722.81"/><use href="#s" x="278.50" y="722.81"/>
<use href="#s" x="298.77" y="722.81"/><use href="#s" x="304.17" y="722.81"/>
<use href="#s" x="247.43" y="731.33"/><use href="#s" x="252.83" y="731.33"/>
<use href="#s" x="273.10" y="731.33"/><use href="#s" x="278.50" y="731.33"/>
<use href="#s" x="298.77" y="731.33"/><use href="#s" x="304.17" y="731.33"/>
<use href="#s" x="247.43" y="739.85"/><use href="#s" x="252.83" y="739.85"/>
<use href="#s" x="273.10" y="739.85"/><use href="#s" x="278.50" y="739.85"/>
<use href="#s" x="301.47" y="739.85"/>
<use href="#s" x="247.43" y="748.36"/><use href="#s" x="252.83" y="748.36"/>
<use href="#s" x="273.10" y="748.36"/><use href="#s" x="278.50" y="748.36"/>
<use href="#s" x="247.43" y="756.88"/><use href="#s" x="252.83" y="756.88"/>
<use href="#s" x="273.10" y="756.88"/><use href="#s" x="278.50" y="756.88"/>
<use href="#s" x="298.77" y="756.88"/><use href="#s" x="304.17" y="756.88"/>
<use href="#s" x="247.43" y="765.39"/><use href="#s" x="252.83" y="765.39"/>
<use href="#s" x="273.10" y="765.39"/><use href="#s" x="278.50" y="765.39"/>
<use href="#s" x="301.47" y="765.39"/>
<use href="#s" x="247.43" y="773.91"/><use href="#s" x="252.83" y="773.91"/>
<use href="#s" x="275.80" y="773.91"/>
<use href="#s" x="247.43" y="782.43"/><use href="#s" x="252.83" y="782.43"/>
<use href="#s" x="247.43" y="790.94"/><use href="#s" x="252.83" y="790.94"/>
<use href="#s" x="247.43" y="799.46"/><use href="#s" x="252.83" y="799.46"/>
<use href="#s" x="273.10" y="799.46"/><use href="#s" x="278.50" y="799.46"/>
<use href="#s" x="247.43" y="807.97"/><use href="#s" x="252.83" y="807.97"/>
<use href="#s" x="273.10" y="807.97"/><use href="#s" x="278.50" y="807.97"/>
<use href="#s" x="301.47" y="807.97"/>
<use href="#s" x="247.43" y="816.49"/><use href="#s" x="252.83" y="816.49"/>
<use href="#s" x="247.43" y="825.01"/><use href="#s" x="252.83" y="825.01"/>
<use href="#s" x="273.10" y="825.01"/><use href="#s" x="278.50" y="825.01"/>
<use href="#s" x="298.77" y="825.01"/><use href="#s" x="304.17" y="825.01"/>
<use href="#s" x="247.43" y="833.52"/><use href="#s" x="252.83" y="833.52"/>
<use href="#s" x="273.10" y="833.52"/><use href="#s" x="278.50" y="833.52"/>
<use href="#s" x="247.43" y="842.04"/><use href="#s" x="252.83" y="842.04"/>
<use href="#s" x="273.10" y="842.04"/><use href="#s" x="278.50" y="842.04"/>
<use href="#s" x="298.77" y="850.55"/><use href="#s" x="304.17" y="850.55"/>
<use href="#s" x="247.43" y="859.07"/><use href="#s" x="252.83" y="859.07"/>
<use href="#s" x="273.10" y="859.07"/><use href="#s" x="278.50" y="859.07"/>
<use href="#s" x="298.77" y="859.07"/><use href="#s" x="304.17" y="859.07"/>
<use href="#s" x="250.13" y="867.59"/>
<use href="#s" x="250.13" y="876.10"/>
<use href="#s" x="273.10" y="876.10"/><use href="#s" x="278.50" y="876.10"/>
<use href="#s" x="250.13" y="884.62"/>
<use href="#s" x="273.10" y="884.62"/><use href="#s" x="278.50" y="884.62"/>
<use href="#s" x="298.77" y="884.62"/><use href="#s" x="304.17" y="884.62"/>
<use href="#s" x="250.13" y="893.13"/>
<use href="#s" x="273.10" y="893.13"/><use href="#s" x="278.50" y="893.13"/>
<use href="#s" x="301.47" y="893.13"/>
<use href="#s" x="275.80" y="901.65"/>
<rect x="321.20" y="46.10" width="25.98" height="8.57" fill="#f3bcd9"/>
<rect x="347.13" y="46.10" width="25.98" height="8.57" fill="#fadfec"/>
<rect x="373.07" y="46.10" width="25.98" height="8.57" fill="#fceaf2"/>
<rect x="321.20" y="54.62" width="25.98" height="8.57" fill="#f3bcd9"/>
<rect x="347.13" y="54.62" width="25.98" height="8.57" fill="#fdf4f9"/>
<rect x="373.07" y="54.62" width="25.98" height="8.57" fill="#fceef5"/>
<rect x="321.20" y="63.13" width="25.98" height="8.57" fill="#f3bcd9"/>
<rect x="347.13" y="63.13" width="25.98" height="8.57" fill="#fadfec"/>
<rect x="373.07" y="63.13" width="25.98" height="8.57" fill="#fceaf2"/>
<rect x="321.20" y="71.65" width="25.98" height="8.57" fill="#f0b0d2"/>
<rect x="347.13" y="71.65" width="25.98" height="8.57" fill="#fceef5"/>
<rect x="373.07" y="71.65" width="25.98" height="8.57" fill="#fceef5"/>
<rect x="321.20" y="80.16" width="25.98" height="8.57" fill="#e67db6"/>
<rect x="347.13" y="80.16" width="25.98" height="8.57" fill="#fadfec"/>
<rect x="373.07" y="80.16" width="25.98" height="8.57" fill="#fdf4f9"/>
<rect x="321.20" y="88.68" width="25.98" height="8.57" fill="#f0b0d2"/>
<rect x="347.13" y="88.68" width="25.98" height="8.57" fill="#f7d3e6"/>
<rect x="373.07" y="88.68" width="25.98" height="8.57" fill="#fadfec"/>
<rect x="321.20" y="97.20" width="25.98" height="8.57" fill="#f0b0d2"/>
<rect x="347.13" y="97.20" width="25.98" height="8.57" fill="#f5c8e0"/>
<rect x="373.07" y="97.20" width="25.98" height="8.57" fill="#f7d3e6"/>
<rect x="321.20" y="105.71" width="25.98" height="8.57" fill="#f3bcd9"/>
<rect x="347.13" y="105.71" width="25.98" height="8.57" fill="#f7d3e6"/>
<rect x="373.07" y="105.71" width="25.98" height="8.57" fill="#fceef5"/>
<rect x="321.20" y="114.23" width="25.98" height="8.57" fill="#f3bcd9"/>
<rect x="347.13" y="114.23" width="25.98" height="8.57" fill="#fceaf2"/>
<rect x="373.07" y="114.23" width="25.98" height="8.57" fill="#fceaf2"/>
<rect x="321.20" y="122.74" width="25.98" height="8.57" fill="#f3bcd9"/>
<rect x="347.13" y="122.74" width="25.98" height="8.57" fill="#fceaf2"/>
<rect x="373.07" y="122.74" width="25.98" height="8.57" fill="#fceaf2"/>
<rect x="321.20" y="131.26" width="25.98" height="8.57" fill="#f0b0d2"/>
<rect x="347.13" y="131.26" width="25.98" height="8.57" fill="#fceef5"/>
<rect x="373.07" y="131.26" width="25.98" height="8.57" fill="#fdf4f9"/>
<rect x="321.20" y="139.78" width="25.98" height="8.57" fill="#f3bcd9"/>
<rect x="347.13" y="139.78" width="25.98" height="8.57" fill="#fef9fb"/>
<rect x="373.07" y="139.78" width="25.98" height="8.57" fill="#fef9fb"/>
<rect x="321.20" y="148.29" width="25.98" height="8.57" fill="#f3bcd9"/>
<rect x="347.13" y="148.29" width="25.98" height="8.57" fill="#fceef5"/>
<rect x="373.07" y="148.29" width="25.98" height="8.57" fill="#fdf4f9"/>
<rect x="321.20" y="156.81" width="25.98" height="8.57" fill="#eb96c4"/>
<rect x="347.13" y="156.81" width="25.98" height="8.57" fill="#fdf4f9"/>
<rect x="373.07" y="156.81" width="25.98" height="8.57" fill="#fdf4f9"/>
<rect x="321.20" y="165.32" width="25.98" height="8.57" fill="#eea3cb"/>
<rect x="347.13" y="165.32" width="25.98" height="8.57" fill="#fceaf2"/>
<rect x="373.07" y="165.32" width="25.98" height="8.57" fill="#fdf4f9"/>
<rect x="321.20" y="173.84" width="25.98" height="8.57" fill="#f0b0d2"/>
<rect x="347.13" y="173.84" width="25.98" height="8.57" fill="#f7d3e6"/>
<rect x="373.07" y="173.84" width="25.98" height="8.57" fill="#fadfec"/>
<rect x="321.20" y="182.36" width="25.98" height="8.57" fill="#fceaf2"/>
<rect x="347.13" y="182.36" width="25.98" height="8.57" fill="#fadfec"/>
<rect x="373.07" y="182.36" width="25.98" height="8.57" fill="#fceef5"/>
<rect x="321.20" y="190.87" width="25.98" height="8.57" fill="#fadfec"/>
<rect x="347.13" y="190.87" width="25.98" height="8.57" fill="#fbe5f0"/>
<rect x="373.07" y="190.87" width="25.98" height="8.57" fill="#fdf4f9"/>
<rect x="321.20" y="199.39" width="25.98" height="8.57" fill="#fadfec"/>
<rect x="347.13" y="199.39" width="25.98" height="8.57" fill="#fadfec"/>
<rect x="373.07" y="199.39" width="25.98" height="8.57" fill="#fceef5"/>
<rect x="321.20" y="207.90" width="25.98" height="8.57" fill="#f3bcd9"/>
<rect x="347.13" y="207.90" width="25.98" height="8.57" fill="#fceaf2"/>
<rect x="373.07" y="207.90" width="25.98" height="8.57" fill="#fdf4f9"/>
<rect x="321.20" y="216.42" width="25.98" height="8.57" fill="#f0b0d2"/>
<rect x="347.13" y="216.42" width="25.98" height="8.57" fill="#fef9fb"/>
<rect x="373.07" y="216.42" width="25.98" height="8.57" fill="#fceaf2"/>
<rect x="321.20" y="224.94" width="25.98" height="8.57" fill="#fceaf2"/>
<rect x="347.13" y="224.94" width="25.98" height="8.57" fill="#ffffff"/>
<rect x="373.07" y="224.94" width="25.98" height="8.57" fill="#fadfec"/>
<rect x="321.20" y="233.45" width="25.98" height="8.57" fill="#fadfec"/>
<rect x="347.13" y="233.45" width="25.98" height="8.57" fill="#fdf4f9"/>
<rect x="373.07" y="233.45" width="25.98" height="8.57" fill="#fdf4f9"/>
<rect x="321.20" y="241.97" width="25.98" height="8.57" fill="#fceaf2"/>
<rect x="347.13" y="241.97" width="25.98" height="8.57" fill="#fdf4f9"/>
<rect x="373.07" y="241.97" width="25.98" height="8.57" fill="#fceaf2"/>
<rect x="321.20" y="250.48" width="25.98" height="8.57" fill="#fadfec"/>
<rect x="347.13" y="250.48" width="25.98" height="8.57" fill="#fceaf2"/>
<rect x="373.07" y="250.48" width="25.98" height="8.57" fill="#fceaf2"/>
<rect x="321.20" y="259.00" width="25.98" height="8.57" fill="#f3bcd9"/>
<rect x="347.13" y="259.00" width="25.98" height="8.57" fill="#fceaf2"/>
<rect x="373.07" y="259.00" width="25.98" height="8.57" fill="#fadfec"/>
<rect x="321.20" y="267.52" width="25.98" height="8.57" fill="#f0b0d2"/>
<rect x="347.13" y="267.52" width="25.98" height="8.57" fill="#fadfec"/>
<rect x="373.07" y="267.52" width="25.98" height="8.57" fill="#fdf4f9"/>
<rect x="321.20" y="276.03" width="25.98" height="8.57" fill="#f0b0d2"/>
<rect x="347.13" y="276.03" width="25.98" height="8.57" fill="#fadfec"/>
<rect x="373.07" y="276.03" width="25.98" height="8.57" fill="#fdf4f9"/>
<rect x="321.20" y="284.55" width="25.98" height="8.57" fill="#fadfec"/>
<rect x="347.13" y="284.55" width="25.98" height="8.57" fill="#fdf4f9"/>
<rect x="373.07" y="284.55" width="25.98" height="8.57" fill="#fceaf2"/>
<rect x="321.20" y="293.06" width="25.98" height="8.57" fill="#fadfec"/>
<rect x="347.13" y="293.06" width="25.98" height="8.57" fill="#fceaf2"/>
<rect x="373.07" y="293.06" width="25.98" height="8.57" fill="#fdf4f9"/>
<rect x="321.20" y="301.58" width="25.98" height="8.57" fill="#fceaf2"/>
<rect x="347.13" y="301.58" width="25.98" height="8.57" fill="#fdf4f9"/>
<rect x="373.07" y="301.58" width="25.98" height="8.57" fill="#fceaf2"/>
<rect x="321.20" y="310.10" width="25.98" height="8.57" fill="#fceaf2"/>
<rect x="347.13" y="310.10" width="25.98" height="8.57" fill="#fdf4f9"/>
<rect x="373.07" y="310.10" width="25.98" height="8.57" fill="#fef9fb"/>
<rect x="321.20" y="318.61" width="25.98" height="8.57" fill="#fceaf2"/>
<rect x="347.13" y="318.61" width="25.98" height="8.57" fill="#fdf4f9"/>
<rect x="373.07" y="318.61" width="25.98" height="8.57" fill="#fceef5"/>
<rect x="321.20" y="327.13" width="25.98" height="8.57" fill="#ffffff"/>
<rect x="347.13" y="327.13" width="25.98" height="8.57" fill="#fdf4f9"/>
<rect x="373.07" y="327.13" width="25.98" height="8.57" fill="#fdf4f9"/>
<rect x="321.20" y="335.64" width="25.98" height="8.57" fill="#f0b0d2"/>
<rect x="347.13" y="335.64" width="25.98" height="8.57" fill="#fdf4f9"/>
<rect x="373.07" y="335.64" width="25.98" height="8.57" fill="#fdf4f9"/>
<rect x="321.20" y="344.16" width="25.98" height="8.57" fill="#f7d3e6"/>
<rect x="347.13" y="344.16" width="25.98" height="8.57" fill="#fceaf2"/>
<rect x="373.07" y="344.16" width="25.98" height="8.57" fill="#fceaf2"/>
<rect x="321.20" y="352.68" width="25.98" height="8.57" fill="#f7d3e6"/>
<rect x="347.13" y="352.68" width="25.98" height="8.57" fill="#fdf4f9"/>
<rect x="373.07" y="352.68" width="25.98" height="8.57" fill="#fef9fb"/>
<rect x="321.20" y="361.19" width="25.98" height="8.57" fill="#f7d3e6"/>
<rect x="347.13" y="361.19" width="25.98" height="8.57" fill="#fadfec"/>
<rect x="373.07" y="361.19" width="25.98" height="8.57" fill="#fdf4f9"/>
<rect x="321.20" y="369.71" width="25.98" height="8.57" fill="#fadfec"/>
<rect x="347.13" y="369.71" width="25.98" height="8.57" fill="#fdf4f9"/>
<rect x="373.07" y="369.71" width="25.98" height="8.57" fill="#fadfec"/>
<rect x="321.20" y="378.22" width="25.98" height="8.57" fill="#fdf4f9"/>
<rect x="347.13" y="378.22" width="25.98" height="8.57" fill="#fdf4f9"/>
<rect x="373.07" y="378.22" width="25.98" height="8.57" fill="#fadfec"/>
<rect x="321.20" y="386.74" width="25.98" height="8.57" fill="#f7d3e6"/>
<rect x="347.13" y="386.74" width="25.98" height="8.57" fill="#ffffff"/>
<rect x="373.07" y="386.74" width="25.98" height="8.57" fill="#fdf4f9"/>
<rect x="321.20" y="395.26" width="25.98" height="8.57" fill="#f3bcd9"/>
<rect x="347.13" y="395.26" width="25.98" height="8.57" fill="#fdf4f9"/>
<rect x="373.07" y="395.26" width="25.98" height="8.57" fill="#fceaf2"/>
<rect x="321.20" y="403.77" width="25.98" height="8.57" fill="#fdf4f9"/>
<rect x="347.13" y="403.77" width="25.98" height="8.57" fill="#fdf4f9"/>
<rect x="373.07" y="403.77" width="25.98" height="8.57" fill="#fceaf2"/>
<rect x="321.20" y="412.29" width="25.98" height="8.57" fill="#81a0e3"/>
<rect x="347.13" y="412.29" width="25.98" height="8.57" fill="#ffffff"/>
<rect x="373.07" y="412.29" width="25.98" height="8.57" fill="#f4f6fc"/>
<rect x="321.20" y="420.80" width="25.98" height="8.57" fill="#a6b8ea"/>
<rect x="347.13" y="420.80" width="25.98" height="8.57" fill="#d3dbf3"/>
<rect x="373.07" y="420.80" width="25.98" height="8.57" fill="#f4f6fc"/>
<rect x="321.20" y="429.32" width="25.98" height="8.57" fill="#b2c1ec"/>
<rect x="347.13" y="429.32" width="25.98" height="8.57" fill="#f4f6fc"/>
<rect x="373.07" y="429.32" width="25.98" height="8.57" fill="#f8f9fd"/>
<rect x="321.20" y="437.84" width="25.98" height="8.57" fill="#b2c1ec"/>
<rect x="347.13" y="437.84" width="25.98" height="8.57" fill="#e8ecf8"/>
<rect x="373.07" y="437.84" width="25.98" height="8.57" fill="#f8f9fd"/>
<rect x="321.20" y="446.35" width="25.98" height="8.57" fill="#99aee7"/>
<rect x="347.13" y="446.35" width="25.98" height="8.57" fill="#d3dbf3"/>
<rect x="373.07" y="446.35" width="25.98" height="8.57" fill="#e8ecf8"/>
<rect x="321.20" y="454.87" width="25.98" height="8.57" fill="#99aee7"/>
<rect x="347.13" y="454.87" width="25.98" height="8.57" fill="#d3dbf3"/>
<rect x="373.07" y="454.87" width="25.98" height="8.57" fill="#dde4f6"/>
<rect x="321.20" y="463.38" width="25.98" height="8.57" fill="#99aee7"/>
<rect x="347.13" y="463.38" width="25.98" height="8.57" fill="#dde4f6"/>
<rect x="373.07" y="463.38" width="25.98" height="8.57" fill="#dde4f6"/>
<rect x="321.20" y="471.90" width="25.98" height="8.57" fill="#d3dbf3"/>
<rect x="347.13" y="471.90" width="25.98" height="8.57" fill="#ffffff"/>
<rect x="373.07" y="471.90" width="25.98" height="8.57" fill="#fafbfe"/>
<rect x="321.20" y="480.42" width="25.98" height="8.57" fill="#dde4f6"/>
<rect x="347.13" y="480.42" width="25.98" height="8.57" fill="#ffffff"/>
<rect x="373.07" y="480.42" width="25.98" height="8.57" fill="#ffffff"/>
<rect x="321.20" y="488.93" width="25.98" height="8.57" fill="#dde4f6"/>
<rect x="347.13" y="488.93" width="25.98" height="8.57" fill="#f8f9fd"/>
<rect x="373.07" y="488.93" width="25.98" height="8.57" fill="#f8f9fd"/>
<rect x="321.20" y="497.45" width="25.98" height="8.57" fill="#bfcbef"/>
<rect x="347.13" y="497.45" width="25.98" height="8.57" fill="#f4f6fc"/>
<rect x="373.07" y="497.45" width="25.98" height="8.57" fill="#f4f6fc"/>
<rect x="321.20" y="505.96" width="25.98" height="8.57" fill="#dde4f6"/>
<rect x="347.13" y="505.96" width="25.98" height="8.57" fill="#f8f9fd"/>
<rect x="373.07" y="505.96" width="25.98" height="8.57" fill="#f8f9fd"/>
<rect x="321.20" y="514.48" width="25.98" height="8.57" fill="#bfcbef"/>
<rect x="347.13" y="514.48" width="25.98" height="8.57" fill="#dde4f6"/>
<rect x="373.07" y="514.48" width="25.98" height="8.57" fill="#e8ecf8"/>
<rect x="321.20" y="523.00" width="25.98" height="8.57" fill="#b2c1ec"/>
<rect x="347.13" y="523.00" width="25.98" height="8.57" fill="#dde4f6"/>
<rect x="373.07" y="523.00" width="25.98" height="8.57" fill="#e8ecf8"/>
<rect x="321.20" y="531.51" width="25.98" height="8.57" fill="#f4f6fc"/>
<rect x="347.13" y="531.51" width="25.98" height="8.57" fill="#f8f9fd"/>
<rect x="373.07" y="531.51" width="25.98" height="8.57" fill="#f4f6fc"/>
<rect x="321.20" y="540.03" width="25.98" height="8.57" fill="#e8ecf8"/>
<rect x="347.13" y="540.03" width="25.98" height="8.57" fill="#fafbfe"/>
<rect x="373.07" y="540.03" width="25.98" height="8.57" fill="#fafbfe"/>
<rect x="321.20" y="548.54" width="25.98" height="8.57" fill="#e8ecf8"/>
<rect x="347.13" y="548.54" width="25.98" height="8.57" fill="#f8f9fd"/>
<rect x="373.07" y="548.54" width="25.98" height="8.57" fill="#f8f9fd"/>
<rect x="321.20" y="557.06" width="25.98" height="8.57" fill="#dde4f6"/>
<rect x="347.13" y="557.06" width="25.98" height="8.57" fill="#e8ecf8"/>
<rect x="373.07" y="557.06" width="25.98" height="8.57" fill="#f4f6fc"/>
<rect x="321.20" y="565.58" width="25.98" height="8.57" fill="#d3dbf3"/>
<rect x="347.13" y="565.58" width="25.98" height="8.57" fill="#f8f9fd"/>
<rect x="373.07" y="565.58" width="25.98" height="8.57" fill="#f4f6fc"/>
<rect x="321.20" y="574.09" width="25.98" height="8.57" fill="#dde4f6"/>
<rect x="347.13" y="574.09" width="25.98" height="8.57" fill="#fafbfe"/>
<rect x="373.07" y="574.09" width="25.98" height="8.57" fill="#f4f6fc"/>
<rect x="321.20" y="582.61" width="25.98" height="8.57" fill="#dde4f6"/>
<rect x="347.13" y="582.61" width="25.98" height="8.57" fill="#fafbfe"/>
<rect x="373.07" y="582.61" width="25.98" height="8.57" fill="#f4f6fc"/>
<rect x="321.20" y="591.12" width="25.98" height="8.57" fill="#e8ecf8"/>
<rect x="347.13" y="591.12" width="25.98" height="8.57" fill="#ffffff"/>
<rect x="373.07" y="591.12" width="25.98" height="8.57" fill="#f4f6fc"/>
<rect x="321.20" y="599.64" width="25.98" height="8.57" fill="#dde4f6"/>
<rect x="347.13" y="599.64" width="25.98" height="8.57" fill="#f8f9fd"/>
<rect x="373.07" y="599.64" width="25.98" height="8.57" fill="#f4f6fc"/>
<rect x="321.20" y="608.16" width="25.98" height="8.57" fill="#dde4f6"/>
<rect x="347.13" y="608.16" width="25.98" height="8.57" fill="#f8f9fd"/>
<rect x="373.07" y="608.16" width="25.98" height="8.57" fill="#f4f6fc"/>
<rect x="321.20" y="616.67" width="25.98" height="8.57" fill="#dde4f6"/>
<rect x="347.13" y="616.67" width="25.98" height="8.57" fill="#f8f9fd"/>
<rect x="373.07" y="616.67" width="25.98" height="8.57" fill="#f4f6fc"/>
<rect x="321.20" y="625.19" width="25.98" height="8.57" fill="#a6b8ea"/>
<rect x="347.13" y="625.19" width="25.98" height="8.57" fill="#e8ecf8"/>
<rect x="373.07" y="625.19" width="25.98" height="8.57" fill="#e8ecf8"/>
<rect x="321.20" y="633.70" width="25.98" height="8.57" fill="#a6b8ea"/>
<rect x="347.13" y="633.70" width="25.98" height="8.57" fill="#e8ecf8"/>
<rect x="373.07" y="633.70" width="25.98" height="8.57" fill="#e8ecf8"/>
<rect x="321.20" y="642.22" width="25.98" height="8.57" fill="#d3dbf3"/>
<rect x="347.13" y="642.22" width="25.98" height="8.57" fill="#e8ecf8"/>
<rect x="373.07" y="642.22" width="25.98" height="8.57" fill="#e8ecf8"/>
<rect x="321.20" y="650.74" width="25.98" height="8.57" fill="#d3dbf3"/>
<rect x="347.13" y="650.74" width="25.98" height="8.57" fill="#e8ecf8"/>
<rect x="373.07" y="650.74" width="25.98" height="8.57" fill="#e8ecf8"/>
<rect x="321.20" y="659.25" width="25.98" height="8.57" fill="#bfcbef"/>
<rect x="347.13" y="659.25" width="25.98" height="8.57" fill="#f4f6fc"/>
<rect x="373.07" y="659.25" width="25.98" height="8.57" fill="#e8ecf8"/>
<rect x="321.20" y="667.77" width="25.98" height="8.57" fill="#e8ecf8"/>
<rect x="347.13" y="667.77" width="25.98" height="8.57" fill="#f8f9fd"/>
<rect x="373.07" y="667.77" width="25.98" height="8.57" fill="#f4f6fc"/>
<rect x="321.20" y="676.28" width="25.98" height="8.57" fill="#dde4f6"/>
<rect x="347.13" y="676.28" width="25.98" height="8.57" fill="#f4f6fc"/>
<rect x="373.07" y="676.28" width="25.98" height="8.57" fill="#e8ecf8"/>
<rect x="321.20" y="684.80" width="25.98" height="8.57" fill="#d3dbf3"/>
<rect x="347.13" y="684.80" width="25.98" height="8.57" fill="#e8ecf8"/>
<rect x="373.07" y="684.80" width="25.98" height="8.57" fill="#e8ecf8"/>
<rect x="321.20" y="693.32" width="25.98" height="8.57" fill="#bfcbef"/>
<rect x="347.13" y="693.32" width="25.98" height="8.57" fill="#e8ecf8"/>
<rect x="373.07" y="693.32" width="25.98" height="8.57" fill="#e8ecf8"/>
<rect x="321.20" y="701.83" width="25.98" height="8.57" fill="#c9d3f1"/>
<rect x="347.13" y="701.83" width="25.98" height="8.57" fill="#e8ecf8"/>
<rect x="373.07" y="701.83" width="25.98" height="8.57" fill="#e8ecf8"/>
<rect x="321.20" y="710.35" width="25.98" height="8.57" fill="#c9d3f1"/>
<rect x="347.13" y="710.35" width="25.98" height="8.57" fill="#e8ecf8"/>
<rect x="373.07" y="710.35" width="25.98" height="8.57" fill="#e8ecf8"/>
<rect x="321.20" y="718.86" width="25.98" height="8.57" fill="#f8f9fd"/>
<rect x="347.13" y="718.86" width="25.98" height="8.57" fill="#f4f6fc"/>
<rect x="373.07" y="718.86" width="25.98" height="8.57" fill="#e8ecf8"/>
<rect x="321.20" y="727.38" width="25.98" height="8.57" fill="#e8ecf8"/>
<rect x="347.13" y="727.38" width="25.98" height="8.57" fill="#ffffff"/>
<rect x="373.07" y="727.38" width="25.98" height="8.57" fill="#f4f6fc"/>
<rect x="321.20" y="735.90" width="25.98" height="8.57" fill="#e8ecf8"/>
<rect x="347.13" y="735.90" width="25.98" height="8.57" fill="#ffffff"/>
<rect x="373.07" y="735.90" width="25.98" height="8.57" fill="#f4f6fc"/>
<rect x="321.20" y="744.41" width="25.98" height="8.57" fill="#d3dbf3"/>
<rect x="347.13" y="744.41" width="25.98" height="8.57" fill="#f8f9fd"/>
<rect x="373.07" y="744.41" width="25.98" height="8.57" fill="#f4f6fc"/>
<rect x="321.20" y="752.93" width="25.98" height="8.57" fill="#dde4f6"/>
<rect x="347.13" y="752.93" width="25.98" height="8.57" fill="#e8ecf8"/>
<rect x="373.07" y="752.93" width="25.98" height="8.57" fill="#f4f6fc"/>
<rect x="321.20" y="761.44" width="25.98" height="8.57" fill="#f4f6fc"/>
<rect x="347.13" y="761.44" width="25.98" height="8.57" fill="#f4f6fc"/>
<rect x="373.07" y="761.44" width="25.98" height="8.57" fill="#f8f9fd"/>
<rect x="321.20" y="769.96" width="25.98" height="8.57" fill="#bfcbef"/>
<rect x="347.13" y="769.96" width="25.98" height="8.57" fill="#dde4f6"/>
<rect x="373.07" y="769.96" width="25.98" height="8.57" fill="#f8f9fd"/>
<rect x="321.20" y="778.48" width="25.98" height="8.57" fill="#bfcbef"/>
<rect x="347.13" y="778.48" width="25.98" height="8.57" fill="#f8f9fd"/>
<rect x="373.07" y="778.48" width="25.98" height="8.57" fill="#f8f9fd"/>
<rect x="321.20" y="786.99" width="25.98" height="8.57" fill="#b2c1ec"/>
<rect x="347.13" y="786.99" width="25.98" height="8.57" fill="#e8ecf8"/>
<rect x="373.07" y="786.99" width="25.98" height="8.57" fill="#f8f9fd"/>
<rect x="321.20" y="795.51" width="25.98" height="8.57" fill="#b2c1ec"/>
<rect x="347.13" y="795.51" width="25.98" height="8.57" fill="#e8ecf8"/>
<rect x="373.07" y="795.51" width="25.98" height="8.57" fill="#f8f9fd"/>
<rect x="321.20" y="804.02" width="25.98" height="8.57" fill="#b2c1ec"/>
<rect x="347.13" y="804.02" width="25.98" height="8.57" fill="#e8ecf8"/>
<rect x="373.07" y="804.02" width="25.98" height="8.57" fill="#f8f9fd"/>
<rect x="321.20" y="812.54" width="25.98" height="8.57" fill="#6993de"/>
<rect x="347.13" y="812.54" width="25.98" height="8.57" fill="#f4f6fc"/>
<rect x="373.07" y="812.54" width="25.98" height="8.57" fill="#f8f9fd"/>
<rect x="321.20" y="821.06" width="25.98" height="8.57" fill="#5d8ddc"/>
<rect x="347.13" y="821.06" width="25.98" height="8.57" fill="#dde4f6"/>
<rect x="373.07" y="821.06" width="25.98" height="8.57" fill="#dde4f6"/>
<rect x="321.20" y="829.57" width="25.98" height="8.57" fill="#5086da"/>
<rect x="347.13" y="829.57" width="25.98" height="8.57" fill="#dde4f6"/>
<rect x="373.07" y="829.57" width="25.98" height="8.57" fill="#dde4f6"/>
<rect x="321.20" y="838.09" width="25.98" height="8.57" fill="#6993de"/>
<rect x="347.13" y="838.09" width="25.98" height="8.57" fill="#dde4f6"/>
<rect x="373.07" y="838.09" width="25.98" height="8.57" fill="#dde4f6"/>
<rect x="321.20" y="846.60" width="25.98" height="8.57" fill="#99aee7"/>
<rect x="347.13" y="846.60" width="25.98" height="8.57" fill="#dde4f6"/>
<rect x="373.07" y="846.60" width="25.98" height="8.57" fill="#dde4f6"/>
<rect x="321.20" y="855.12" width="25.98" height="8.57" fill="#99aee7"/>
<rect x="347.13" y="855.12" width="25.98" height="8.57" fill="#f4f6fc"/>
<rect x="373.07" y="855.12" width="25.98" height="8.57" fill="#f4f6fc"/>
<rect x="321.20" y="863.64" width="25.98" height="8.57" fill="#99aee7"/>
<rect x="347.13" y="863.64" width="25.98" height="8.57" fill="#dde4f6"/>
<rect x="373.07" y="863.64" width="25.98" height="8.57" fill="#dde4f6"/>
<rect x="321.20" y="872.15" width="25.98" height="8.57" fill="#99aee7"/>
<rect x="347.13" y="872.15" width="25.98" height="8.57" fill="#e8ecf8"/>
<rect x="373.07" y="872.15" width="25.98" height="8.57" fill="#f4f6fc"/>
<rect x="321.20" y="880.67" width="25.98" height="8.57" fill="#99aee7"/>
<rect x="347.13" y="880.67" width="25.98" height="8.57" fill="#dde4f6"/>
<rect x="373.07" y="880.67" width="25.98" height="8.57" fill="#dde4f6"/>
<rect x="321.20" y="889.18" width="25.98" height="8.57" fill="#99aee7"/>
<rect x="347.13" y="889.18" width="25.98" height="8.57" fill="#dde4f6"/>
<rect x="373.07" y="889.18" width="25.98" height="8.57" fill="#dde4f6"/>
<rect x="321.20" y="897.70" width="25.98" height="8.57" fill="#a6b8ea"/>
<rect x="347.13" y="897.70" width="25.98" height="8.57" fill="#dde4f6"/>
<rect x="373.07" y="897.70" width="25.98" height="8.57" fill="#e8ecf8"/>
<path d="M321.20,46.10H399.00M321.20,54.62H399.00M321.20,63.13H399.00M321.20,71.65H399.00M321.20,80.16H399.00M321.20,88.68H399.00M321.20,97.20H399.00M321.20,105.71H399.00M321.20,114.23H399.00M321.20,122.74H399.00M321.20,131.26H399.00M321.20,139.78H399.00M321.20,148.29H399.00M321.20,156.81H399.00M321.20,165.32H399.00M321.20,173.84H399.00M321.20,182.36H399.00M321.20,190.87H399.00M321.20,199.39H399.00M321.20,207.90H399.00M321.20,216.42H399.00M321.20,224.94H399.00M321.20,233.45H399.00M321.20,241.97H399.00M321.20,250.48H399.00M321.20,259.00H399.00M321.20,267.52H399.00M321.20,276.03H399.00M321.20,284.55H399.00M321.20,293.06H399.00M321.20,301.58H399.00M321.20,310.10H399.00M321.20,318.61H399.00M321.20,327.13H399.00M321.20,335.64H399.00M321.20,344.16H399.00M321.20,352.68H399.00M321.20,361.19H399.00M321.20,369.71H399.00M321.20,378.22H399.00M321.20,386.74H399.00M321.20,395.26H399.00M321.20,403.77H399.00M321.20,412.29H399.00M321.20,420.80H399.00M321.20,429.32H399.00M321.20,437.84H399.00M321.20,446.35H399.00M321.20,454.87H399.00M321.20,463.38H399.00M321.20,471.90H399.00M321.20,480.42H399.00M321.20,488.93H399.00M321.20,497.45H399.00M321.20,505.96H399.00M321.20,514.48H399.00M321.20,523.00H399.00M321.20,531.51H399.00M321.20,540.03H399.00M321.20,548.54H399.00M321.20,557.06H399.00M321.20,565.58H399.00M321.20,574.09H399.00M321.20,582.61H399.00M321.20,591.12H399.00M321.20,599.64H399.00M321.20,608.16H399.00M321.20,616.67H399.00M321.20,625.19H399.00M321.20,633.70H399.00M321.20,642.22H399.00M321.20,650.74H399.00M321.20,659.25H399.00M321.20,667.77H399.00M321.20,676.28H399.00M321.20,684.80H399.00M321.20,693.32H399.00M321.20,701.83H399.00M321.20,710.35H399.00M321.20,718.86H399.00M321.20,727.38H399.00M321.20,735.90H399.00M321.20,744.41H399.00M321.20,752.93H399.00M321.20,761.44H399.00M321.20,769.96H399.00M321.20,778.48H399.00M321.20,786.99H399.00M321.20,795.51H399.00M321.20,804.02H399.00M321.20,812.54H399.00M321.20,821.06H399.00M321.20,829.57H399.00M321.20,838.09H399.00M321.20,846.60H399.00M321.20,855.12H399.00M321.20,863.64H399.00M321.20,872.15H399.00M321.20,880.67H399.00M321.20,889.18H399.00M321.20,897.70H399.00M321.20,906.22H399.00M321.20,46.10V906.22M347.13,46.10V906.22M373.07,46.10V906.22M399.00,46.10V906.22" stroke="#aaaaaa" stroke-opacity="0.68" stroke-width="0.9" fill="none"/>
<use href="#s" x="331.47" y="50.05"/><use href="#s" x="336.87" y="50.05"/>
<use href="#s" x="357.40" y="50.05"/><use href="#s" x="362.80" y="50.05"/>
<use href="#s" x="386.03" y="50.05"/>
<use href="#s" x="331.47" y="58.57"/><use href="#s" x="336.87" y="58.57"/>
<use href="#s" x="331.47" y="67.08"/><use href="#s" x="336.87" y="67.08"/>
<use href="#s" x="357.40" y="67.08"/><use href="#s" x="362.80" y="67.08"/>
<use href="#s" x="386.03" y="67.08"/>
<use href="#s" x="331.47" y="75.60"/><use href="#s" x="336.87" y="75.60"/>
<use href="#s" x="331.47" y="84.11"/><use href="#s" x="336.87" y="84.11"/>
<use href="#s" x="357.40" y="84.11"/><use href="#s" x="362.80" y="84.11"/>
<use href="#s" x="331.47" y="92.63"/><use href="#s" x="336.87" y="92.63"/>
<use href="#s" x="357.40" y="92.63"/><use href="#s" x="362.80" y="92.63"/>
<use href="#s" x="383.33" y="92.63"/><use href="#s" x="388.73" y="92.63"/>
<use href="#s" x="331.47" y="101.15"/><use href="#s" x="336.87" y="101.15"/>
<use href="#s" x="357.40" y="101.15"/><use href="#s" x="362.80" y="101.15"/>
<use href="#s" x="383.33" y="101.15"/><use href="#s" x="388.73" y="101.15"/>
<use href="#s" x="331.47" y="109.66"/><use href="#s" x="336.87" y="109.66"/>
<use href="#s" x="357.40" y="109.66"/><use href="#s" x="362.80" y="109.66"/>
<use href="#s" x="331.47" y="118.18"/><use href="#s" x="336.87" y="118.18"/>
<use href="#s" x="331.47" y="126.69"/><use href="#s" x="336.87" y="126.69"/>
<use href="#s" x="386.03" y="126.69"/>
<use href="#s" x="331.47" y="135.21"/><use href="#s" x="336.87" y="135.21"/>
<use href="#s" x="331.47" y="143.73"/><use href="#s" x="336.87" y="143.73"/>
<use href="#s" x="331.47" y="152.24"/><use href="#s" x="336.87" y="152.24"/>
<use href="#s" x="331.47" y="160.76"/><use href="#s" x="336.87" y="160.76"/>
<use href="#s" x="331.47" y="169.27"/><use href="#s" x="336.87" y="169.27"/>
<use href="#s" x="331.47" y="177.79"/><use href="#s" x="336.87" y="177.79"/>
<use href="#s" x="357.40" y="177.79"/><use href="#s" x="362.80" y="177.79"/>
<use href="#s" x="383.33" y="177.79"/><use href="#s" x="388.73" y="177.79"/>
<use href="#s" x="360.10" y="186.31"/>
<use href="#s" x="334.17" y="194.82"/>
<use href="#s" x="360.10" y="194.82"/>
<use href="#s" x="357.40" y="203.34"/><use href="#s" x="362.80" y="203.34"/>
<use href="#s" x="331.47" y="211.85"/><use href="#s" x="336.87" y="211.85"/>
<use href="#s" x="360.10" y="211.85"/>
<use href="#s" x="331.47" y="220.37"/><use href="#s" x="336.87" y="220.37"/>
<use href="#s" x="386.03" y="220.37"/>
<use href="#s" x="383.33" y="228.89"/><use href="#s" x="388.73" y="228.89"/>
<use href="#s" x="334.17" y="237.40"/>
<use href="#s" x="386.03" y="245.92"/>
<use href="#s" x="334.17" y="254.43"/>
<use href="#s" x="331.47" y="262.95"/><use href="#s" x="336.87" y="262.95"/>
<use href="#s" x="383.33" y="262.95"/><use href="#s" x="388.73" y="262.95"/>
<use href="#s" x="331.47" y="271.47"/><use href="#s" x="336.87" y="271.47"/>
<use href="#s" x="360.10" y="271.47"/>
<use href="#s" x="331.47" y="279.98"/><use href="#s" x="336.87" y="279.98"/>
<use href="#s" x="357.40" y="279.98"/><use href="#s" x="362.80" y="279.98"/>
<use href="#s" x="386.03" y="288.50"/>
<use href="#s" x="334.17" y="297.01"/>
<use href="#s" x="360.10" y="297.01"/>
<use href="#s" x="383.33" y="305.53"/><use href="#s" x="388.73" y="305.53"/>
<use href="#s" x="331.47" y="314.05"/><use href="#s" x="336.87" y="314.05"/>
<use href="#s" x="386.03" y="322.56"/>
<use href="#s" x="360.10" y="331.08"/>
<use href="#s" x="386.03" y="331.08"/>
<use href="#s" x="331.47" y="339.59"/><use href="#s" x="336.87" y="339.59"/>
<use href="#s" x="331.47" y="348.11"/><use href="#s" x="336.87" y="348.11"/>
<use href="#s" x="360.10" y="348.11"/>
<use href="#s" x="383.33" y="348.11"/><use href="#s" x="388.73" y="348.11"/>
<use href="#s" x="331.47" y="356.63"/><use href="#s" x="336.87" y="356.63"/>
<use href="#s" x="331.47" y="365.14"/><use href="#s" x="336.87" y="365.14"/>
<use href="#s" x="357.40" y="365.14"/><use href="#s" x="362.80" y="365.14"/>
<use href="#s" x="331.47" y="373.66"/><use href="#s" x="336.87" y="373.66"/>
<use href="#s" x="383.33" y="373.66"/><use href="#s" x="388.73" y="373.66"/>
<use href="#s" x="383.33" y="382.17"/><use href="#s" x="388.73" y="382.17"/>
<use href="#s" x="334.17" y="390.69"/>
<use href="#s" x="334.17" y="399.21"/>
<use href="#s" x="386.03" y="399.21"/>
<use href="#s" x="383.33" y="407.72"/><use href="#s" x="388.73" y="407.72"/>
<use href="#s" x="331.47" y="416.24"/><use href="#s" x="336.87" y="416.24"/>
<use href="#s" x="331.47" y="424.75"/><use href="#s" x="336.87" y="424.75"/>
<use href="#s" x="357.40" y="424.75"/><use href="#s" x="362.80" y="424.75"/>
<use href="#s" x="331.47" y="433.27"/><use href="#s" x="336.87" y="433.27"/>
<use href="#s" x="331.47" y="441.79"/><use href="#s" x="336.87" y="441.79"/>
<use href="#s" x="360.10" y="441.79"/>
<use href="#s" x="331.47" y="450.30"/><use href="#s" x="336.87" y="450.30"/>
<use href="#s" x="357.40" y="450.30"/><use href="#s" x="362.80" y="450.30"/>
<use href="#s" x="386.03" y="450.30"/>
<use href="#s" x="331.47" y="458.82"/><use href="#s" x="336.87" y="458.82"/>
<use href="#s" x="357.40" y="458.82"/><use href="#s" x="362.80" y="458.82"/>
<use href="#s" x="383.33" y="458.82"/><use href="#s" x="388.73" y="458.82"/>
<use href="#s" x="331.47" y="467.33"/><use href="#s" x="336.87" y="467.33"/>
<use href="#s" x="357.40" y="467.33"/><use href="#s" x="362.80" y="467.33"/>
<use href="#s" x="383.33" y="467.33"/><use href="#s" x="388.73" y="467.33"/>
<use href="#s" x="331.47" y="475.85"/><use href="#s" x="336.87" y="475.85"/>
<use href="#s" x="334.17" y="484.37"/>
<use href="#s" x="331.47" y="492.88"/><use href="#s" x="336.87" y="492.88"/>
<use href="#s" x="331.47" y="501.40"/><use href="#s" x="336.87" y="501.40"/>
<use href="#s" x="383.33" y="501.40"/><use href="#s" x="388.73" y="501.40"/>
<use href="#s" x="334.17" y="509.91"/>
<use href="#s" x="386.03" y="509.91"/>
<use href="#s" x="331.47" y="518.43"/><use href="#s" x="336.87" y="518.43"/>
<use href="#s" x="357.40" y="518.43"/><use href="#s" x="362.80" y="518.43"/>
<use href="#s" x="383.33" y="518.43"/><use href="#s" x="388.73" y="518.43"/>
<use href="#s" x="331.47" y="526.95"/><use href="#s" x="336.87" y="526.95"/>
<use href="#s" x="357.40" y="526.95"/><use href="#s" x="362.80" y="526.95"/>
<use href="#s" x="383.33" y="526.95"/><use href="#s" x="388.73" y="526.95"/>
<use href="#s" x="383.33" y="535.46"/><use href="#s" x="388.73" y="535.46"/>
<use href="#s" x="334.17" y="543.98"/>
<use href="#s" x="334.17" y="552.49"/>
<use href="#s" x="357.40" y="561.01"/><use href="#s" x="362.80" y="561.01"/>
<use href="#s" x="386.03" y="569.53"/>
<use href="#s" x="331.47" y="578.04"/><use href="#s" x="336.87" y="578.04"/>
<use href="#s" x="383.33" y="578.04"/><use href="#s" x="388.73" y="578.04"/>
<use href="#s" x="334.17" y="586.56"/>
<use href="#s" x="383.33" y="586.56"/><use href="#s" x="388.73" y="586.56"/>
<use href="#s" x="386.03" y="595.07"/>
<use href="#s" x="334.17" y="603.59"/>
<use href="#s" x="383.33" y="603.59"/><use href="#s" x="388.73" y="603.59"/>
<use href="#s" x="334.17" y="612.11"/>
<use href="#s" x="386.03" y="620.62"/>
<use href="#s" x="331.47" y="629.14"/><use href="#s" x="336.87" y="629.14"/>
<use href="#s" x="357.40" y="629.14"/><use href="#s" x="362.80" y="629.14"/>
<use href="#s" x="383.33" y="629.14"/><use href="#s" x="388.73" y="629.14"/>
<use href="#s" x="331.47" y="637.65"/><use href="#s" x="336.87" y="637.65"/>
<use href="#s" x="357.40" y="637.65"/><use href="#s" x="362.80" y="637.65"/>
<use href="#s" x="383.33" y="637.65"/><use href="#s" x="388.73" y="637.65"/>
<use href="#s" x="334.17" y="646.17"/>
<use href="#s" x="357.40" y="646.17"/><use href="#s" x="362.80" y="646.17"/>
<use href="#s" x="383.33" y="646.17"/><use href="#s" x="388.73" y="646.17"/>
<use href="#s" x="334.17" y="654.69"/>
<use href="#s" x="360.10" y="654.69"/>
<use href="#s" x="383.33" y="654.69"/><use href="#s" x="388.73" y="654.69"/>
<use href="#s" x="331.47" y="663.20"/><use href="#s" x="336.87" y="663.20"/>
<use href="#s" x="360.10" y="663.20"/>
<use href="#s" x="383.33" y="663.20"/><use href="#s" x="388.73" y="663.20"/>
<use href="#s" x="386.03" y="671.72"/>
<use href="#s" x="383.33" y="680.23"/><use href="#s" x="388.73" y="680.23"/>
<use href="#s" x="334.17" y="688.75"/>
<use href="#s" x="357.40" y="688.75"/><use href="#s" x="362.80" y="688.75"/>
<use href="#s" x="383.33" y="688.75"/><use href="#s" x="388.73" y="688.75"/>
<use href="#s" x="331.47" y="697.27"/><use href="#s" x="336.87" y="697.27"/>
<use href="#s" x="357.40" y="697.27"/><use href="#s" x="362.80" y="697.27"/>
<use href="#s" x="383.33" y="697.27"/><use href="#s" x="388.73" y="697.27"/>
<use href="#s" x="334.17" y="705.78"/>
<use href="#s" x="357.40" y="705.78"/><use href="#s" x="362.80" y="705.78"/>
<use href="#s" x="383.33" y="705.78"/><use href="#s" x="388.73" y="705.78"/>
<use href="#s" x="334.17" y="714.30"/>
<use href="#s" x="357.40" y="714.30"/><use href="#s" x="362.80" y="714.30"/>
<use href="#s" x="383.33" y="714.30"/><use href="#s" x="388.73" y="714.30"/>
<use href="#s" x="383.33" y="722.81"/><use href="#s" x="388.73" y="722.81"/>
<use href="#s" x="334.17" y="731.33"/>
<use href="#s" x="386.03" y="731.33"/>
<use href="#s" x="386.03" y="739.85"/>
<use href="#s" x="331.47" y="748.36"/><use href="#s" x="336.87" y="748.36"/>
<use href="#s" x="334.17" y="756.88"/>
<use href="#s" x="357.40" y="756.88"/><use href="#s" x="362.80" y="756.88"/>
<use href="#s" x="360.10" y="765.39"/>
<use href="#s" x="331.47" y="773.91"/><use href="#s" x="336.87" y="773.91"/>
<use href="#s" x="357.40" y="773.91"/><use href="#s" x="362.80" y="773.91"/>
<use href="#s" x="331.47" y="782.43"/><use href="#s" x="336.87" y="782.43"/>
<use href="#s" x="331.47" y="790.94"/><use href="#s" x="336.87" y="790.94"/>
<use href="#s" x="360.10" y="790.94"/>
<use href="#s" x="331.47" y="799.46"/><use href="#s" x="336.87" y="799.46"/>
<use href="#s" x="360.10" y="799.46"/>
<use href="#s" x="331.47" y="807.97"/><use href="#s" x="336.87" y="807.97"/>
<use href="#s" x="357.40" y="807.97"/><use href="#s" x="362.80" y="807.97"/>
<use href="#s" x="331.47" y="816.49"/><use href="#s" x="336.87" y="816.49"/>
<use href="#s" x="357.40" y="816.49"/><use href="#s" x="362.80" y="816.49"/>
<use href="#s" x="331.47" y="825.01"/><use href="#s" x="336.87" y="825.01"/>
<use href="#s" x="357.40" y="825.01"/><use href="#s" x="362.80" y="825.01"/>
<use href="#s" x="383.33" y="825.01"/><use href="#s" x="388.73" y="825.01"/>
<use href="#s" x="331.47" y="833.52"/><use href="#s" x="336.87" y="833.52"/>
<use href="#s" x="357.40" y="833.52"/><use href="#s" x="362.80" y="833.52"/>
<use href="#s" x="383.33" y="833.52"/><use href="#s" x="388.73" y="833.52"/>
<use href="#s" x="331.47" y="842.04"/><use href="#s" x="336.87" y="842.04"/>
<use href="#s" x="357.40" y="842.04"/><use href="#s" x="362.80" y="842.04"/>
<use href="#s" x="383.33" y="842.04"/><use href="#s" x="388.73" y="842.04"/>
<use href="#s" x="331.47" y="850.55"/><use href="#s" x="336.87" y="850.55"/>
<use href="#s" x="357.40" y="850.55"/><use href="#s" x="362.80" y="850.55"/>
<use href="#s" x="383.33" y="850.55"/><use href="#s" x="388.73" y="850.55"/>
<use href="#s" x="331.47" y="859.07"/><use href="#s" x="336.87" y="859.07"/>
<use href="#s" x="357.40" y="859.07"/><use href="#s" x="362.80" y="859.07"/>
<use href="#s" x="331.47" y="867.59"/><use href="#s" x="336.87" y="867.59"/>
<use href="#s" x="357.40" y="867.59"/><use href="#s" x="362.80" y="867.59"/>
<use href="#s" x="383.33" y="867.59"/><use href="#s" x="388.73" y="867.59"/>
<use href="#s" x="331.47" y="876.10"/><use href="#s" x="336.87" y="876.10"/>
<use href="#s" x="357.40" y="876.10"/><use href="#s" x="362.80" y="876.10"/>
<use href="#s" x="331.47" y="884.62"/><use href="#s" x="336.87" y="884.62"/>
<use href="#s" x="357.40" y="884.62"/><use href="#s" x="362.80" y="884.62"/>
<use href="#s" x="383.33" y="884.62"/><use href="#s" x="388.73" y="884.62"/>
<use href="#s" x="331.47" y="893.13"/><use href="#s" x="336.87" y="893.13"/>
<use href="#s" x="357.40" y="893.13"/><use href="#s" x="362.80" y="893.13"/>
<use href="#s" x="383.33" y="893.13"/><use href="#s" x="388.73" y="893.13"/>
<use href="#s" x="331.47" y="901.65"/><use href="#s" x="336.87" y="901.65"/>
<use href="#s" x="357.40" y="901.65"/><use href="#s" x="362.80" y="901.65"/>
<use href="#s" x="383.33" y="901.65"/><use href="#s" x="388.73" y="901.65"/>
<rect x="434.90" y="46.10" width="29.60" height="8.57" fill="#ea91c1"/>
<rect x="464.45" y="46.10" width="29.60" height="8.57" fill="#eda0c9"/>
<rect x="434.90" y="54.62" width="29.60" height="8.57" fill="#d43c94"/>
<rect x="464.45" y="54.62" width="29.60" height="8.57" fill="#dd5aa3"/>
<rect x="434.90" y="63.13" width="29.60" height="8.57" fill="#e064a8"/>
<rect x="464.45" y="63.13" width="29.60" height="8.57" fill="#e064a8"/>
<rect x="434.90" y="71.65" width="29.60" height="8.57" fill="#e064a8"/>
<rect x="464.45" y="71.65" width="29.60" height="8.57" fill="#e064a8"/>
<rect x="434.90" y="80.16" width="29.60" height="8.57" fill="#f3beda"/>
<rect x="464.45" y="80.16" width="29.60" height="8.57" fill="#e782b9"/>
<rect x="434.90" y="88.68" width="29.60" height="8.57" fill="#f6cbe1"/>
<rect x="464.45" y="88.68" width="29.60" height="8.57" fill="#e782b9"/>
<rect x="434.90" y="97.20" width="29.60" height="8.57" fill="#e782b9"/>
<rect x="464.45" y="97.20" width="29.60" height="8.57" fill="#e373b0"/>
<rect x="434.90" y="105.71" width="29.60" height="8.57" fill="#f0afd2"/>
<rect x="464.45" y="105.71" width="29.60" height="8.57" fill="#e373b0"/>
<rect x="434.90" y="114.23" width="29.60" height="8.57" fill="#da509e"/>
<rect x="464.45" y="114.23" width="29.60" height="8.57" fill="#d23491"/>
<rect x="434.90" y="122.74" width="29.60" height="8.57" fill="#dd5aa3"/>
<rect x="464.45" y="122.74" width="29.60" height="8.57" fill="#dd5aa3"/>
<rect x="434.90" y="131.26" width="29.60" height="8.57" fill="#d74699"/>
<rect x="464.45" y="131.26" width="29.60" height="8.57" fill="#cf2d8e"/>
<rect x="434.90" y="139.78" width="29.60" height="8.57" fill="#f3beda"/>
<rect x="464.45" y="139.78" width="29.60" height="8.57" fill="#e782b9"/>
<rect x="434.90" y="148.29" width="29.60" height="8.57" fill="#ea91c1"/>
<rect x="464.45" y="148.29" width="29.60" height="8.57" fill="#d74699"/>
<rect x="434.90" y="156.81" width="29.60" height="8.57" fill="#f8d9e9"/>
<rect x="464.45" y="156.81" width="29.60" height="8.57" fill="#f8d9e9"/>
<rect x="434.90" y="165.32" width="29.60" height="8.57" fill="#f0afd2"/>
<rect x="464.45" y="165.32" width="29.60" height="8.57" fill="#d8dff4"/>
<rect x="434.90" y="173.84" width="29.60" height="8.57" fill="#f7f8fd"/>
<rect x="464.45" y="173.84" width="29.60" height="8.57" fill="#eda0c9"/>
<rect x="434.90" y="182.36" width="29.60" height="8.57" fill="#f6cbe1"/>
<rect x="464.45" y="182.36" width="29.60" height="8.57" fill="#fcebf3"/>
<rect x="434.90" y="190.87" width="29.60" height="8.57" fill="#ffffff"/>
<rect x="464.45" y="190.87" width="29.60" height="8.57" fill="#f3beda"/>
<rect x="434.90" y="199.39" width="29.60" height="8.57" fill="#f8d9e9"/>
<rect x="464.45" y="199.39" width="29.60" height="8.57" fill="#f6cbe1"/>
<rect x="434.90" y="207.90" width="29.60" height="8.57" fill="#e373b0"/>
<rect x="464.45" y="207.90" width="29.60" height="8.57" fill="#e064a8"/>
<rect x="434.90" y="216.42" width="29.60" height="8.57" fill="#fbe6f0"/>
<rect x="464.45" y="216.42" width="29.60" height="8.57" fill="#e782b9"/>
<rect x="434.90" y="224.94" width="29.60" height="8.57" fill="#f0afd2"/>
<rect x="464.45" y="224.94" width="29.60" height="8.57" fill="#ea91c1"/>
<rect x="434.90" y="233.45" width="29.60" height="8.57" fill="#f0afd2"/>
<rect x="464.45" y="233.45" width="29.60" height="8.57" fill="#eda0c9"/>
<rect x="434.90" y="241.97" width="29.60" height="8.57" fill="#86a2e4"/>
<rect x="464.45" y="241.97" width="29.60" height="8.57" fill="#f6cbe1"/>
<rect x="434.90" y="250.48" width="29.60" height="8.57" fill="#f7f8fd"/>
<rect x="464.45" y="250.48" width="29.60" height="8.57" fill="#f6cbe1"/>
<rect x="434.90" y="259.00" width="29.60" height="8.57" fill="#f2f4fb"/>
<rect x="464.45" y="259.00" width="29.60" height="8.57" fill="#fbe6f0"/>
<rect x="434.90" y="267.52" width="29.60" height="8.57" fill="#e373b0"/>
<rect x="464.45" y="267.52" width="29.60" height="8.57" fill="#dd5aa3"/>
<rect x="434.90" y="276.03" width="29.60" height="8.57" fill="#d74699"/>
<rect x="464.45" y="276.03" width="29.60" height="8.57" fill="#d74699"/>
<rect x="434.90" y="284.55" width="29.60" height="8.57" fill="#c0ccef"/>
<rect x="464.45" y="284.55" width="29.60" height="8.57" fill="#fbe6f0"/>
<rect x="434.90" y="293.06" width="29.60" height="8.57" fill="#e4e9f7"/>
<rect x="464.45" y="293.06" width="29.60" height="8.57" fill="#f0afd2"/>
<rect x="434.90" y="301.58" width="29.60" height="8.57" fill="#fbe6f0"/>
<rect x="464.45" y="301.58" width="29.60" height="8.57" fill="#f0afd2"/>
<rect x="434.90" y="310.10" width="29.60" height="8.57" fill="#fcebf3"/>
<rect x="464.45" y="310.10" width="29.60" height="8.57" fill="#f0afd2"/>
<rect x="434.90" y="318.61" width="29.60" height="8.57" fill="#86a2e4"/>
<rect x="464.45" y="318.61" width="29.60" height="8.57" fill="#f8d9e9"/>
<rect x="434.90" y="327.13" width="29.60" height="8.57" fill="#f6cbe1"/>
<rect x="464.45" y="327.13" width="29.60" height="8.57" fill="#f3beda"/>
<rect x="434.90" y="335.64" width="29.60" height="8.57" fill="#f2f4fb"/>
<rect x="464.45" y="335.64" width="29.60" height="8.57" fill="#f8d9e9"/>
<rect x="434.90" y="344.16" width="29.60" height="8.57" fill="#fbe6f0"/>
<rect x="464.45" y="344.16" width="29.60" height="8.57" fill="#f6cbe1"/>
<rect x="434.90" y="352.68" width="29.60" height="8.57" fill="#f2f4fb"/>
<rect x="464.45" y="352.68" width="29.60" height="8.57" fill="#f6cbe1"/>
<rect x="434.90" y="361.19" width="29.60" height="8.57" fill="#eda0c9"/>
<rect x="464.45" y="361.19" width="29.60" height="8.57" fill="#fefafc"/>
<rect x="434.90" y="369.71" width="29.60" height="8.57" fill="#fdf2f8"/>
<rect x="464.45" y="369.71" width="29.60" height="8.57" fill="#fef8fa"/>
<rect x="434.90" y="378.22" width="29.60" height="8.57" fill="#a3b5e9"/>
<rect x="464.45" y="378.22" width="29.60" height="8.57" fill="#fefafc"/>
<rect x="434.90" y="386.74" width="29.60" height="8.57" fill="#eda0c9"/>
<rect x="464.45" y="386.74" width="29.60" height="8.57" fill="#f3beda"/>
<rect x="434.90" y="395.26" width="29.60" height="8.57" fill="#a3b5e9"/>
<rect x="464.45" y="395.26" width="29.60" height="8.57" fill="#ffffff"/>
<rect x="434.90" y="403.77" width="29.60" height="8.57" fill="#ea91c1"/>
<rect x="464.45" y="403.77" width="29.60" height="8.57" fill="#ea91c1"/>
<rect x="434.90" y="412.29" width="29.60" height="8.57" fill="#4c84d9"/>
<rect x="464.45" y="412.29" width="29.60" height="8.57" fill="#c0ccef"/>
<rect x="434.90" y="420.80" width="29.60" height="8.57" fill="#2d75d2"/>
<rect x="464.45" y="420.80" width="29.60" height="8.57" fill="#c0ccef"/>
<rect x="434.90" y="429.32" width="29.60" height="8.57" fill="#ffffff"/>
<rect x="464.45" y="429.32" width="29.60" height="8.57" fill="#ccd6f2"/>
<rect x="434.90" y="437.84" width="29.60" height="8.57" fill="#3d7dd5"/>
<rect x="464.45" y="437.84" width="29.60" height="8.57" fill="#5c8cdc"/>
<rect x="434.90" y="446.35" width="29.60" height="8.57" fill="#e4e9f7"/>
<rect x="464.45" y="446.35" width="29.60" height="8.57" fill="#b1c1ec"/>
<rect x="434.90" y="454.87" width="29.60" height="8.57" fill="#789be1"/>
<rect x="464.45" y="454.87" width="29.60" height="8.57" fill="#789be1"/>
<rect x="434.90" y="463.38" width="29.60" height="8.57" fill="#b1c1ec"/>
<rect x="464.45" y="463.38" width="29.60" height="8.57" fill="#a3b5e9"/>
<rect x="434.90" y="471.90" width="29.60" height="8.57" fill="#f3beda"/>
<rect x="464.45" y="471.90" width="29.60" height="8.57" fill="#f7f8fd"/>
<rect x="434.90" y="480.42" width="29.60" height="8.57" fill="#94aae6"/>
<rect x="464.45" y="480.42" width="29.60" height="8.57" fill="#b1c1ec"/>
<rect x="434.90" y="488.93" width="29.60" height="8.57" fill="#2974d1"/>
<rect x="464.45" y="488.93" width="29.60" height="8.57" fill="#6a94de"/>
<rect x="434.90" y="497.45" width="29.60" height="8.57" fill="#789be1"/>
<rect x="464.45" y="497.45" width="29.60" height="8.57" fill="#94aae6"/>
<rect x="434.90" y="505.96" width="29.60" height="8.57" fill="#6a94de"/>
<rect x="464.45" y="505.96" width="29.60" height="8.57" fill="#94aae6"/>
<rect x="434.90" y="514.48" width="29.60" height="8.57" fill="#789be1"/>
<rect x="464.45" y="514.48" width="29.60" height="8.57" fill="#86a2e4"/>
<rect x="434.90" y="523.00" width="29.60" height="8.57" fill="#ffffff"/>
<rect x="464.45" y="523.00" width="29.60" height="8.57" fill="#a3b5e9"/>
<rect x="434.90" y="531.51" width="29.60" height="8.57" fill="#d8dff4"/>
<rect x="464.45" y="531.51" width="29.60" height="8.57" fill="#d8dff4"/>
<rect x="434.90" y="540.03" width="29.60" height="8.57" fill="#6a94de"/>
<rect x="464.45" y="540.03" width="29.60" height="8.57" fill="#86a2e4"/>
<rect x="434.90" y="548.54" width="29.60" height="8.57" fill="#86a2e4"/>
<rect x="464.45" y="548.54" width="29.60" height="8.57" fill="#6a94de"/>
<rect x="434.90" y="557.06" width="29.60" height="8.57" fill="#94aae6"/>
<rect x="464.45" y="557.06" width="29.60" height="8.57" fill="#5c8cdc"/>
<rect x="434.90" y="565.58" width="29.60" height="8.57" fill="#94aae6"/>
<rect x="464.45" y="565.58" width="29.60" height="8.57" fill="#b1c1ec"/>
<rect x="434.90" y="574.09" width="29.60" height="8.57" fill="#e4e9f7"/>
<rect x="464.45" y="574.09" width="29.60" height="8.57" fill="#ccd6f2"/>
<rect x="434.90" y="582.61" width="29.60" height="8.57" fill="#fdf2f8"/>
<rect x="464.45" y="582.61" width="29.60" height="8.57" fill="#d8dff4"/>
<rect x="434.90" y="591.12" width="29.60" height="8.57" fill="#94aae6"/>
<rect x="464.45" y="591.12" width="29.60" height="8.57" fill="#94aae6"/>
<rect x="434.90" y="599.64" width="29.60" height="8.57" fill="#5c8cdc"/>
<rect x="464.45" y="599.64" width="29.60" height="8.57" fill="#789be1"/>
<rect x="434.90" y="608.16" width="29.60" height="8.57" fill="#a3b5e9"/>
<rect x="464.45" y="608.16" width="29.60" height="8.57" fill="#789be1"/>
<rect x="434.90" y="616.67" width="29.60" height="8.57" fill="#94aae6"/>
<rect x="464.45" y="616.67" width="29.60" height="8.57" fill="#86a2e4"/>
<rect x="434.90" y="625.19" width="29.60" height="8.57" fill="#789be1"/>
<rect x="464.45" y="625.19" width="29.60" height="8.57" fill="#94aae6"/>
<rect x="434.90" y="633.70" width="29.60" height="8.57" fill="#ffffff"/>
<rect x="464.45" y="633.70" width="29.60" height="8.57" fill="#86a2e4"/>
<rect x="434.90" y="642.22" width="29.60" height="8.57" fill="#94aae6"/>
<rect x="464.45" y="642.22" width="29.60" height="8.57" fill="#c0ccef"/>
<rect x="434.90" y="650.74" width="29.60" height="8.57" fill="#94aae6"/>
<rect x="464.45" y="650.74" width="29.60" height="8.57" fill="#a3b5e9"/>
<rect x="434.90" y="659.25" width="29.60" height="8.57" fill="#789be1"/>
<rect x="464.45" y="659.25" width="29.60" height="8.57" fill="#94aae6"/>
<rect x="434.90" y="667.77" width="29.60" height="8.57" fill="#2171cf"/>
<rect x="464.45" y="667.77" width="29.60" height="8.57" fill="#789be1"/>
<rect x="434.90" y="676.28" width="29.60" height="8.57" fill="#6a94de"/>
<rect x="464.45" y="676.28" width="29.60" height="8.57" fill="#b1c1ec"/>
<rect x="434.90" y="684.80" width="29.60" height="8.57" fill="#86a2e4"/>
<rect x="464.45" y="684.80" width="29.60" height="8.57" fill="#86a2e4"/>
<rect x="434.90" y="693.32" width="29.60" height="8.57" fill="#5c8cdc"/>
<rect x="464.45" y="693.32" width="29.60" height="8.57" fill="#789be1"/>
<rect x="434.90" y="701.83" width="29.60" height="8.57" fill="#789be1"/>
<rect x="464.45" y="701.83" width="29.60" height="8.57" fill="#a3b5e9"/>
<rect x="434.90" y="710.35" width="29.60" height="8.57" fill="#6a94de"/>
<rect x="464.45" y="710.35" width="29.60" height="8.57" fill="#86a2e4"/>
<rect x="434.90" y="718.86" width="29.60" height="8.57" fill="#fdf2f8"/>
<rect x="464.45" y="718.86" width="29.60" height="8.57" fill="#c0ccef"/>
<rect x="434.90" y="727.38" width="29.60" height="8.57" fill="#c0ccef"/>
<rect x="464.45" y="727.38" width="29.60" height="8.57" fill="#94aae6"/>
<rect x="434.90" y="735.90" width="29.60" height="8.57" fill="#fdf2f8"/>
<rect x="464.45" y="735.90" width="29.60" height="8.57" fill="#d8dff4"/>
<rect x="434.90" y="744.41" width="29.60" height="8.57" fill="#86a2e4"/>
<rect x="464.45" y="744.41" width="29.60" height="8.57" fill="#86a2e4"/>
<rect x="434.90" y="752.93" width="29.60" height="8.57" fill="#789be1"/>
<rect x="464.45" y="752.93" width="29.60" height="8.57" fill="#86a2e4"/>
<rect x="434.90" y="761.44" width="29.60" height="8.57" fill="#f0afd2"/>
<rect x="464.45" y="761.44" width="29.60" height="8.57" fill="#b1c1ec"/>
<rect x="434.90" y="769.96" width="29.60" height="8.57" fill="#4c84d9"/>
<rect x="464.45" y="769.96" width="29.60" height="8.57" fill="#5c8cdc"/>
<rect x="434.90" y="778.48" width="29.60" height="8.57" fill="#ccd6f2"/>
<rect x="464.45" y="778.48" width="29.60" height="8.57" fill="#f2f4fb"/>
<rect x="434.90" y="786.99" width="29.60" height="8.57" fill="#6a94de"/>
<rect x="464.45" y="786.99" width="29.60" height="8.57" fill="#789be1"/>
<rect x="434.90" y="795.51" width="29.60" height="8.57" fill="#f6cbe1"/>
<rect x="464.45" y="795.51" width="29.60" height="8.57" fill="#94aae6"/>
<rect x="434.90" y="804.02" width="29.60" height="8.57" fill="#789be1"/>
<rect x="464.45" y="804.02" width="29.60" height="8.57" fill="#86a2e4"/>
<rect x="434.90" y="812.54" width="29.60" height="8.57" fill="#f0afd2"/>
<rect x="464.45" y="812.54" width="29.60" height="8.57" fill="#f0afd2"/>
<rect x="434.90" y="821.06" width="29.60" height="8.57" fill="#ffffff"/>
<rect x="464.45" y="821.06" width="29.60" height="8.57" fill="#94aae6"/>
<rect x="434.90" y="829.57" width="29.60" height="8.57" fill="#e4e9f7"/>
<rect x="464.45" y="829.57" width="29.60" height="8.57" fill="#94aae6"/>
<rect x="434.90" y="838.09" width="29.60" height="8.57" fill="#2974d1"/>
<rect x="464.45" y="838.09" width="29.60" height="8.57" fill="#789be1"/>
<rect x="434.90" y="846.60" width="29.60" height="8.57" fill="#5c8cdc"/>
<rect x="464.45" y="846.60" width="29.60" height="8.57" fill="#ccd6f2"/>
<rect x="434.90" y="855.12" width="29.60" height="8.57" fill="#eb97c4"/>
<rect x="464.45" y="855.12" width="29.60" height="8.57" fill="#fbe6f0"/>
<rect x="434.90" y="863.64" width="29.60" height="8.57" fill="#a3b5e9"/>
<rect x="464.45" y="863.64" width="29.60" height="8.57" fill="#86a2e4"/>
<rect x="434.90" y="872.15" width="29.60" height="8.57" fill="#f8d9e9"/>
<rect x="464.45" y="872.15" width="29.60" height="8.57" fill="#c0ccef"/>
<rect x="434.90" y="880.67" width="29.60" height="8.57" fill="#94aae6"/>
<rect x="464.45" y="880.67" width="29.60" height="8.57" fill="#86a2e4"/>
<rect x="434.90" y="889.18" width="29.60" height="8.57" fill="#789be1"/>
<rect x="464.45" y="889.18" width="29.60" height="8.57" fill="#789be1"/>
<rect x="434.90" y="897.70" width="29.60" height="8.57" fill="#2d75d2"/>
<rect x="464.45" y="897.70" width="29.60" height="8.57" fill="#a3b5e9"/>
<path d="M434.90,46.10H494.00M434.90,54.62H494.00M434.90,63.13H494.00M434.90,71.65H494.00M434.90,80.16H494.00M434.90,88.68H494.00M434.90,97.20H494.00M434.90,105.71H494.00M434.90,114.23H494.00M434.90,122.74H494.00M434.90,131.26H494.00M434.90,139.78H494.00M434.90,148.29H494.00M434.90,156.81H494.00M434.90,165.32H494.00M434.90,173.84H494.00M434.90,182.36H494.00M434.90,190.87H494.00M434.90,199.39H494.00M434.90,207.90H494.00M434.90,216.42H494.00M434.90,224.94H494.00M434.90,233.45H494.00M434.90,241.97H494.00M434.90,250.48H494.00M434.90,259.00H494.00M434.90,267.52H494.00M434.90,276.03H494.00M434.90,284.55H494.00M434.90,293.06H494.00M434.90,301.58H494.00M434.90,310.10H494.00M434.90,318.61H494.00M434.90,327.13H494.00M434.90,335.64H494.00M434.90,344.16H494.00M434.90,352.68H494.00M434.90,361.19H494.00M434.90,369.71H494.00M434.90,378.22H494.00M434.90,386.74H494.00M434.90,395.26H494.00M434.90,403.77H494.00M434.90,412.29H494.00M434.90,420.80H494.00M434.90,429.32H494.00M434.90,437.84H494.00M434.90,446.35H494.00M434.90,454.87H494.00M434.90,463.38H494.00M434.90,471.90H494.00M434.90,480.42H494.00M434.90,488.93H494.00M434.90,497.45H494.00M434.90,505.96H494.00M434.90,514.48H494.00M434.90,523.00H494.00M434.90,531.51H494.00M434.90,540.03H494.00M434.90,548.54H494.00M434.90,557.06H494.00M434.90,565.58H494.00M434.90,574.09H494.00M434.90,582.61H494.00M434.90,591.12H494.00M434.90,599.64H494.00M434.90,608.16H494.00M434.90,616.67H494.00M434.90,625.19H494.00M434.90,633.70H494.00M434.90,642.22H494.00M434.90,650.74H494.00M434.90,659.25H494.00M434.90,667.77H494.00M434.90,676.28H494.00M434.90,684.80H494.00M434.90,693.32H494.00M434.90,701.83H494.00M434.90,710.35H494.00M434.90,718.86H494.00M434.90,727.38H494.00M434.90,735.90H494.00M434.90,744.41H494.00M434.90,752.93H494.00M434.90,761.44H494.00M434.90,769.96H494.00M434.90,778.48H494.00M434.90,786.99H494.00M434.90,795.51H494.00M434.90,804.02H494.00M434.90,812.54H494.00M434.90,821.06H494.00M434.90,829.57H494.00M434.90,838.09H494.00M434.90,846.60H494.00M434.90,855.12H494.00M434.90,863.64H494.00M434.90,872.15H494.00M434.90,880.67H494.00M434.90,889.18H494.00M434.90,897.70H494.00M434.90,906.22H494.00M434.90,46.10V906.22M464.45,46.10V906.22M494.00,46.10V906.22" stroke="#aaaaaa" stroke-opacity="0.68" stroke-width="0.9" fill="none"/>
<use href="#s" x="446.97" y="50.05"/><use href="#s" x="452.37" y="50.05"/>
<use href="#s" x="476.53" y="50.05"/><use href="#s" x="481.93" y="50.05"/>
<use href="#s" x="446.97" y="58.57"/><use href="#s" x="452.37" y="58.57"/>
<use href="#s" x="476.53" y="58.57"/><use href="#s" x="481.93" y="58.57"/>
<use href="#s" x="446.97" y="67.08"/><use href="#s" x="452.37" y="67.08"/>
<use href="#s" x="476.53" y="67.08"/><use href="#s" x="481.93" y="67.08"/>
<use href="#s" x="446.97" y="75.60"/><use href="#s" x="452.37" y="75.60"/>
<use href="#s" x="476.53" y="75.60"/><use href="#s" x="481.93" y="75.60"/>
<use href="#s" x="446.97" y="84.11"/><use href="#s" x="452.37" y="84.11"/>
<use href="#s" x="476.53" y="84.11"/><use href="#s" x="481.93" y="84.11"/>
<use href="#s" x="446.97" y="92.63"/><use href="#s" x="452.37" y="92.63"/>
<use href="#s" x="476.53" y="92.63"/><use href="#s" x="481.93" y="92.63"/>
<use href="#s" x="446.97" y="101.15"/><use href="#s" x="452.37" y="101.15"/>
<use href="#s" x="476.53" y="101.15"/><use href="#s" x="481.93" y="101.15"/>
<use href="#s" x="446.97" y="109.66"/><use href="#s" x="452.37" y="109.66"/>
<use href="#s" x="476.53" y="109.66"/><use href="#s" x="481.93" y="109.66"/>
<use href="#s" x="446.97" y="118.18"/><use href="#s" x="452.37" y="118.18"/>
<use href="#s" x="476.53" y="118.18"/><use href="#s" x="481.93" y="118.18"/>
<use href="#s" x="446.97" y="126.69"/><use href="#s" x="452.37" y="126.69"/>
<use href="#s" x="476.53" y="126.69"/><use href="#s" x="481.93" y="126.69"/>
<use href="#s" x="446.97" y="135.21"/><use href="#s" x="452.37" y="135.21"/>
<use href="#s" x="476.53" y="135.21"/><use href="#s" x="481.93" y="135.21"/>
<use href="#s" x="446.97" y="143.73"/><use href="#s" x="452.37" y="143.73"/>
<use href="#s" x="476.53" y="143.73"/><use href="#s" x="481.93" y="143.73"/>
<use href="#s" x="446.97" y="152.24"/><use href="#s" x="452.37" y="152.24"/>
<use href="#s" x="476.53" y="152.24"/><use href="#s" x="481.93" y="152.24"/>
<use href="#s" x="446.97" y="169.27"/><use href="#s" x="452.37" y="169.27"/>
<use href="#s" x="479.23" y="177.79"/>
<use href="#s" x="449.67" y="186.31"/>
<use href="#s" x="446.97" y="211.85"/><use href="#s" x="452.37" y="211.85"/>
<use href="#s" x="476.53" y="211.85"/><use href="#s" x="481.93" y="211.85"/>
<use href="#s" x="476.53" y="220.37"/><use href="#s" x="481.93" y="220.37"/>
<use href="#s" x="446.97" y="228.89"/><use href="#s" x="452.37" y="228.89"/>
<use href="#s" x="476.53" y="228.89"/><use href="#s" x="481.93" y="228.89"/>
<use href="#s" x="446.97" y="237.40"/><use href="#s" x="452.37" y="237.40"/>
<use href="#s" x="479.23" y="237.40"/>
<use href="#s" x="446.97" y="245.92"/><use href="#s" x="452.37" y="245.92"/>
<use href="#s" x="446.97" y="271.47"/><use href="#s" x="452.37" y="271.47"/>
<use href="#s" x="476.53" y="271.47"/><use href="#s" x="481.93" y="271.47"/>
<use href="#s" x="446.97" y="279.98"/><use href="#s" x="452.37" y="279.98"/>
<use href="#s" x="476.53" y="279.98"/><use href="#s" x="481.93" y="279.98"/>
<use href="#s" x="446.97" y="288.50"/><use href="#s" x="452.37" y="288.50"/>
<use href="#s" x="479.23" y="297.01"/>
<use href="#s" x="479.23" y="305.53"/>
<use href="#s" x="479.23" y="314.05"/>
<use href="#s" x="446.97" y="322.56"/><use href="#s" x="452.37" y="322.56"/>
<use href="#s" x="449.67" y="331.08"/>
<use href="#s" x="479.23" y="331.08"/>
<use href="#s" x="446.97" y="365.14"/><use href="#s" x="452.37" y="365.14"/>
<use href="#s" x="446.97" y="382.17"/><use href="#s" x="452.37" y="382.17"/>
<use href="#s" x="446.97" y="390.69"/><use href="#s" x="452.37" y="390.69"/>
<use href="#s" x="479.23" y="390.69"/>
<use href="#s" x="446.97" y="399.21"/><use href="#s" x="452.37" y="399.21"/>
<use href="#s" x="446.97" y="407.72"/><use href="#s" x="452.37" y="407.72"/>
<use href="#s" x="476.53" y="407.72"/><use href="#s" x="481.93" y="407.72"/>
<use href="#s" x="446.97" y="416.24"/><use href="#s" x="452.37" y="416.24"/>
<use href="#s" x="479.23" y="416.24"/>
<use href="#s" x="446.97" y="424.75"/><use href="#s" x="452.37" y="424.75"/>
<use href="#s" x="479.23" y="424.75"/>
<use href="#s" x="446.97" y="441.79"/><use href="#s" x="452.37" y="441.79"/>
<use href="#s" x="476.53" y="441.79"/><use href="#s" x="481.93" y="441.79"/>
<use href="#s" x="479.23" y="450.30"/>
<use href="#s" x="446.97" y="458.82"/><use href="#s" x="452.37" y="458.82"/>
<use href="#s" x="476.53" y="458.82"/><use href="#s" x="481.93" y="458.82"/>
<use href="#s" x="446.97" y="467.33"/><use href="#s" x="452.37" y="467.33"/>
<use href="#s" x="476.53" y="467.33"/><use href="#s" x="481.93" y="467.33"/>
<use href="#s" x="446.97" y="475.85"/><use href="#s" x="452.37" y="475.85"/>
<use href="#s" x="446.97" y="484.37"/><use href="#s" x="452.37" y="484.37"/>
<use href="#s" x="479.23" y="484.37"/>
<use href="#s" x="446.97" y="492.88"/><use href="#s" x="452.37" y="492.88"/>
<use href="#s" x="476.53" y="492.88"/><use href="#s" x="481.93" y="492.88"/>
<use href="#s" x="446.97" y="501.40"/><use href="#s" x="452.37" y="501.40"/>
<use href="#s" x="476.53" y="501.40"/><use href="#s" x="481.93" y="501.40"/>
<use href="#s" x="446.97" y="509.91"/><use href="#s" x="452.37" y="509.91"/>
<use href="#s" x="476.53" y="509.91"/><use href="#s" x="481.93" y="509.91"/>
<use href="#s" x="446.97" y="518.43"/><use href="#s" x="452.37" y="518.43"/>
<use href="#s" x="476.53" y="518.43"/><use href="#s" x="481.93" y="518.43"/>
<use href="#s" x="476.53" y="526.95"/><use href="#s" x="481.93" y="526.95"/>
<use href="#s" x="449.67" y="535.46"/>
<use href="#s" x="446.97" y="543.98"/><use href="#s" x="452.37" y="543.98"/>
<use href="#s" x="476.53" y="543.98"/><use href="#s" x="481.93" y="543.98"/>
<use href="#s" x="446.97" y="552.49"/><use href="#s" x="452.37" y="552.49"/>
<use href="#s" x="476.53" y="552.49"/><use href="#s" x="481.93" y="552.49"/>
<use href="#s" x="446.97" y="561.01"/><use href="#s" x="452.37" y="561.01"/>
<use href="#s" x="476.53" y="561.01"/><use href="#s" x="481.93" y="561.01"/>
<use href="#s" x="446.97" y="569.53"/><use href="#s" x="452.37" y="569.53"/>
<use href="#s" x="476.53" y="569.53"/><use href="#s" x="481.93" y="569.53"/>
<use href="#s" x="446.97" y="595.07"/><use href="#s" x="452.37" y="595.07"/>
<use href="#s" x="476.53" y="595.07"/><use href="#s" x="481.93" y="595.07"/>
<use href="#s" x="446.97" y="603.59"/><use href="#s" x="452.37" y="603.59"/>
<use href="#s" x="476.53" y="603.59"/><use href="#s" x="481.93" y="603.59"/>
<use href="#s" x="446.97" y="612.11"/><use href="#s" x="452.37" y="612.11"/>
<use href="#s" x="476.53" y="612.11"/><use href="#s" x="481.93" y="612.11"/>
<use href="#s" x="446.97" y="620.62"/><use href="#s" x="452.37" y="620.62"/>
<use href="#s" x="476.53" y="620.62"/><use href="#s" x="481.93" y="620.62"/>
<use href="#s" x="446.97" y="629.14"/><use href="#s" x="452.37" y="629.14"/>
<use href="#s" x="476.53" y="629.14"/><use href="#s" x="481.93" y="629.14"/>
<use href="#s" x="476.53" y="637.65"/><use href="#s" x="481.93" y="637.65"/>
<use href="#s" x="446.97" y="646.17"/><use href="#s" x="452.37" y="646.17"/>
<use href="#s" x="479.23" y="646.17"/>
<use href="#s" x="446.97" y="654.69"/><use href="#s" x="452.37" y="654.69"/>
<use href="#s" x="476.53" y="654.69"/><use href="#s" x="481.93" y="654.69"/>
<use href="#s" x="446.97" y="663.20"/><use href="#s" x="452.37" y="663.20"/>
<use href="#s" x="476.53" y="663.20"/><use href="#s" x="481.93" y="663.20"/>
<use href="#s" x="446.97" y="671.72"/><use href="#s" x="452.37" y="671.72"/>
<use href="#s" x="476.53" y="671.72"/><use href="#s" x="481.93" y="671.72"/>
<use href="#s" x="446.97" y="680.23"/><use href="#s" x="452.37" y="680.23"/>
<use href="#s" x="479.23" y="680.23"/>
<use href="#s" x="446.97" y="688.75"/><use href="#s" x="452.37" y="688.75"/>
<use href="#s" x="476.53" y="688.75"/><use href="#s" x="481.93" y="688.75"/>
<use href="#s" x="446.97" y="697.27"/><use href="#s" x="452.37" y="697.27"/>
<use href="#s" x="476.53" y="697.27"/><use href="#s" x="481.93" y="697.27"/>
<use href="#s" x="446.97" y="705.78"/><use href="#s" x="452.37" y="705.78"/>
<use href="#s" x="476.53" y="705.78"/><use href="#s" x="481.93" y="705.78"/>
<use href="#s" x="446.97" y="714.30"/><use href="#s" x="452.37" y="714.30"/>
<use href="#s" x="476.53" y="714.30"/><use href="#s" x="481.93" y="714.30"/>
<use href="#s" x="449.67" y="731.33"/>
<use href="#s" x="476.53" y="731.33"/><use href="#s" x="481.93" y="731.33"/>
<use href="#s" x="446.97" y="748.36"/><use href="#s" x="452.37" y="748.36"/>
<use href="#s" x="476.53" y="748.36"/><use href="#s" x="481.93" y="748.36"/>
<use href="#s" x="446.97" y="756.88"/><use href="#s" x="452.37" y="756.88"/>
<use href="#s" x="476.53" y="756.88"/><use href="#s" x="481.93" y="756.88"/>
<use href="#s" x="446.97" y="765.39"/><use href="#s" x="452.37" y="765.39"/>
<use href="#s" x="479.23" y="765.39"/>
<use href="#s" x="446.97" y="773.91"/><use href="#s" x="452.37" y="773.91"/>
<use href="#s" x="476.53" y="773.91"/><use href="#s" x="481.93" y="773.91"/>
<use href="#s" x="449.67" y="782.43"/>
<use href="#s" x="446.97" y="790.94"/><use href="#s" x="452.37" y="790.94"/>
<use href="#s" x="476.53" y="790.94"/><use href="#s" x="481.93" y="790.94"/>
<use href="#s" x="476.53" y="799.46"/><use href="#s" x="481.93" y="799.46"/>
<use href="#s" x="446.97" y="807.97"/><use href="#s" x="452.37" y="807.97"/>
<use href="#s" x="476.53" y="807.97"/><use href="#s" x="481.93" y="807.97"/>
<use href="#s" x="446.97" y="816.49"/><use href="#s" x="452.37" y="816.49"/>
<use href="#s" x="479.23" y="816.49"/>
<use href="#s" x="476.53" y="825.01"/><use href="#s" x="481.93" y="825.01"/>
<use href="#s" x="476.53" y="833.52"/><use href="#s" x="481.93" y="833.52"/>
<use href="#s" x="446.97" y="842.04"/><use href="#s" x="452.37" y="842.04"/>
<use href="#s" x="476.53" y="842.04"/><use href="#s" x="481.93" y="842.04"/>
<use href="#s" x="446.97" y="850.55"/><use href="#s" x="452.37" y="850.55"/>
<use href="#s" x="446.97" y="859.07"/><use href="#s" x="452.37" y="859.07"/>
<use href="#s" x="446.97" y="867.59"/><use href="#s" x="452.37" y="867.59"/>
<use href="#s" x="476.53" y="867.59"/><use href="#s" x="481.93" y="867.59"/>
<use href="#s" x="479.23" y="876.10"/>
<use href="#s" x="446.97" y="884.62"/><use href="#s" x="452.37" y="884.62"/>
<use href="#s" x="476.53" y="884.62"/><use href="#s" x="481.93" y="884.62"/>
<use href="#s" x="446.97" y="893.13"/><use href="#s" x="452.37" y="893.13"/>
<use href="#s" x="476.53" y="893.13"/><use href="#s" x="481.93" y="893.13"/>
<use href="#s" x="446.97" y="901.65"/><use href="#s" x="452.37" y="901.65"/>
<use href="#s" x="476.53" y="901.65"/><use href="#s" x="481.93" y="901.65"/>
<rect x="504.70" y="46.10" width="29.85" height="8.57" fill="#d43c94"/>
<rect x="504.70" y="54.62" width="29.85" height="8.57" fill="#dd5aa3"/>
<rect x="504.70" y="63.13" width="29.85" height="8.57" fill="#f2f4fb"/>
<rect x="504.70" y="71.65" width="29.85" height="8.57" fill="#e4e9f7"/>
<rect x="504.70" y="80.16" width="29.85" height="8.57" fill="#fcebf3"/>
<rect x="504.70" y="88.68" width="29.85" height="8.57" fill="#c0ccef"/>
<rect x="504.70" y="97.20" width="29.85" height="8.57" fill="#eda0c9"/>
<rect x="504.70" y="105.71" width="29.85" height="8.57" fill="#b1c1ec"/>
<rect x="504.70" y="114.23" width="29.85" height="8.57" fill="#fbe6f0"/>
<rect x="504.70" y="122.74" width="29.85" height="8.57" fill="#dd5aa3"/>
<rect x="504.70" y="131.26" width="29.85" height="8.57" fill="#f0afd2"/>
<rect x="504.70" y="139.78" width="29.85" height="8.57" fill="#f6cbe1"/>
<rect x="504.70" y="148.29" width="29.85" height="8.57" fill="#ea91c1"/>
<rect x="504.70" y="156.81" width="29.85" height="8.57" fill="#cd258a"/>
<rect x="504.70" y="165.32" width="29.85" height="8.57" fill="#c0ccef"/>
<rect x="504.70" y="173.84" width="29.85" height="8.57" fill="#ffffff"/>
<rect x="504.70" y="182.36" width="29.85" height="8.57" fill="#f2f4fb"/>
<rect x="504.70" y="190.87" width="29.85" height="8.57" fill="#b1c1ec"/>
<rect x="504.70" y="199.39" width="29.85" height="8.57" fill="#b1c1ec"/>
<rect x="504.70" y="207.90" width="29.85" height="8.57" fill="#fdf2f8"/>
<rect x="504.70" y="216.42" width="29.85" height="8.57" fill="#e4e9f7"/>
<rect x="504.70" y="224.94" width="29.85" height="8.57" fill="#fdf2f8"/>
<rect x="504.70" y="233.45" width="29.85" height="8.57" fill="#f8d9e9"/>
<rect x="504.70" y="241.97" width="29.85" height="8.57" fill="#dd5aa3"/>
<rect x="504.70" y="250.48" width="29.85" height="8.57" fill="#e4e9f7"/>
<rect x="504.70" y="259.00" width="29.85" height="8.57" fill="#f3beda"/>
<rect x="504.70" y="267.52" width="29.85" height="8.57" fill="#fdf2f8"/>
<rect x="504.70" y="276.03" width="29.85" height="8.57" fill="#d74699"/>
<rect x="504.70" y="284.55" width="29.85" height="8.57" fill="#eda0c9"/>
<rect x="504.70" y="293.06" width="29.85" height="8.57" fill="#ea91c1"/>
<rect x="504.70" y="301.58" width="29.85" height="8.57" fill="#eda0c9"/>
<rect x="504.70" y="310.10" width="29.85" height="8.57" fill="#ea91c1"/>
<rect x="504.70" y="318.61" width="29.85" height="8.57" fill="#d23491"/>
<rect x="504.70" y="327.13" width="29.85" height="8.57" fill="#f3beda"/>
<rect x="504.70" y="335.64" width="29.85" height="8.57" fill="#f3beda"/>
<rect x="504.70" y="344.16" width="29.85" height="8.57" fill="#f6cbe1"/>
<rect x="504.70" y="352.68" width="29.85" height="8.57" fill="#e4e9f7"/>
<rect x="504.70" y="361.19" width="29.85" height="8.57" fill="#a3b5e9"/>
<rect x="504.70" y="369.71" width="29.85" height="8.57" fill="#f8d9e9"/>
<rect x="504.70" y="378.22" width="29.85" height="8.57" fill="#f6cbe1"/>
<rect x="504.70" y="386.74" width="29.85" height="8.57" fill="#e064a8"/>
<rect x="504.70" y="395.26" width="29.85" height="8.57" fill="#e4e9f7"/>
<rect x="504.70" y="403.77" width="29.85" height="8.57" fill="#d43c94"/>
<rect x="504.70" y="412.29" width="29.85" height="8.57" fill="#c0ccef"/>
<rect x="504.70" y="420.80" width="29.85" height="8.57" fill="#a3b5e9"/>
<rect x="504.70" y="429.32" width="29.85" height="8.57" fill="#c0ccef"/>
<rect x="504.70" y="437.84" width="29.85" height="8.57" fill="#94aae6"/>
<rect x="504.70" y="446.35" width="29.85" height="8.57" fill="#86a2e4"/>
<rect x="504.70" y="454.87" width="29.85" height="8.57" fill="#2d75d2"/>
<rect x="504.70" y="463.38" width="29.85" height="8.57" fill="#f2f4fb"/>
<rect x="504.70" y="471.90" width="29.85" height="8.57" fill="#fbe6f0"/>
<rect x="504.70" y="480.42" width="29.85" height="8.57" fill="#a3b5e9"/>
<rect x="504.70" y="488.93" width="29.85" height="8.57" fill="#3d7dd5"/>
<rect x="504.70" y="497.45" width="29.85" height="8.57" fill="#c0ccef"/>
<rect x="504.70" y="505.96" width="29.85" height="8.57" fill="#c0ccef"/>
<rect x="504.70" y="514.48" width="29.85" height="8.57" fill="#6a94de"/>
<rect x="504.70" y="523.00" width="29.85" height="8.57" fill="#d8dff4"/>
<rect x="504.70" y="531.51" width="29.85" height="8.57" fill="#ccd6f2"/>
<rect x="504.70" y="540.03" width="29.85" height="8.57" fill="#ccd6f2"/>
<rect x="504.70" y="548.54" width="29.85" height="8.57" fill="#94aae6"/>
<rect x="504.70" y="557.06" width="29.85" height="8.57" fill="#a3b5e9"/>
<rect x="504.70" y="565.58" width="29.85" height="8.57" fill="#e4e9f7"/>
<rect x="504.70" y="574.09" width="29.85" height="8.57" fill="#c0ccef"/>
<rect x="504.70" y="582.61" width="29.85" height="8.57" fill="#d8dff4"/>
<rect x="504.70" y="591.12" width="29.85" height="8.57" fill="#86a2e4"/>
<rect x="504.70" y="599.64" width="29.85" height="8.57" fill="#e4e9f7"/>
<rect x="504.70" y="608.16" width="29.85" height="8.57" fill="#94aae6"/>
<rect x="504.70" y="616.67" width="29.85" height="8.57" fill="#789be1"/>
<rect x="504.70" y="625.19" width="29.85" height="8.57" fill="#5c8cdc"/>
<rect x="504.70" y="633.70" width="29.85" height="8.57" fill="#d8dff4"/>
<rect x="504.70" y="642.22" width="29.85" height="8.57" fill="#ccd6f2"/>
<rect x="504.70" y="650.74" width="29.85" height="8.57" fill="#e4e9f7"/>
<rect x="504.70" y="659.25" width="29.85" height="8.57" fill="#6a94de"/>
<rect x="504.70" y="667.77" width="29.85" height="8.57" fill="#5c8cdc"/>
<rect x="504.70" y="676.28" width="29.85" height="8.57" fill="#a3b5e9"/>
<rect x="504.70" y="684.80" width="29.85" height="8.57" fill="#5c8cdc"/>
<rect x="504.70" y="693.32" width="29.85" height="8.57" fill="#c0ccef"/>
<rect x="504.70" y="701.83" width="29.85" height="8.57" fill="#ccd6f2"/>
<rect x="504.70" y="710.35" width="29.85" height="8.57" fill="#6a94de"/>
<rect x="504.70" y="718.86" width="29.85" height="8.57" fill="#d8dff4"/>
<rect x="504.70" y="727.38" width="29.85" height="8.57" fill="#fbe6f0"/>
<rect x="504.70" y="735.90" width="29.85" height="8.57" fill="#e4e9f7"/>
<rect x="504.70" y="744.41" width="29.85" height="8.57" fill="#a3b5e9"/>
<rect x="504.70" y="752.93" width="29.85" height="8.57" fill="#5c8cdc"/>
<rect x="504.70" y="761.44" width="29.85" height="8.57" fill="#fefafc"/>
<rect x="504.70" y="769.96" width="29.85" height="8.57" fill="#94aae6"/>
<rect x="504.70" y="778.48" width="29.85" height="8.57" fill="#d8dff4"/>
<rect x="504.70" y="786.99" width="29.85" height="8.57" fill="#789be1"/>
<rect x="504.70" y="795.51" width="29.85" height="8.57" fill="#5c8cdc"/>
<rect x="504.70" y="804.02" width="29.85" height="8.57" fill="#e4e9f7"/>
<rect x="504.70" y="812.54" width="29.85" height="8.57" fill="#f0afd2"/>
<rect x="504.70" y="821.06" width="29.85" height="8.57" fill="#e4e9f7"/>
<rect x="504.70" y="829.57" width="29.85" height="8.57" fill="#b1c1ec"/>
<rect x="504.70" y="838.09" width="29.85" height="8.57" fill="#5c8cdc"/>
<rect x="504.70" y="846.60" width="29.85" height="8.57" fill="#b1c1ec"/>
<rect x="504.70" y="855.12" width="29.85" height="8.57" fill="#ffffff"/>
<rect x="504.70" y="863.64" width="29.85" height="8.57" fill="#94aae6"/>
<rect x="504.70" y="872.15" width="29.85" height="8.57" fill="#ccd6f2"/>
<rect x="504.70" y="880.67" width="29.85" height="8.57" fill="#ccd6f2"/>
<rect x="504.70" y="889.18" width="29.85" height="8.57" fill="#3d7dd5"/>
<rect x="504.70" y="897.70" width="29.85" height="8.57" fill="#789be1"/>
<path d="M504.70,46.10H534.50M504.70,54.62H534.50M504.70,63.13H534.50M504.70,71.65H534.50M504.70,80.16H534.50M504.70,88.68H534.50M504.70,97.20H534.50M504.70,105.71H534.50M504.70,114.23H534.50M504.70,122.74H534.50M504.70,131.26H534.50M504.70,139.78H534.50M504.70,148.29H534.50M504.70,156.81H534.50M504.70,165.32H534.50M504.70,173.84H534.50M504.70,182.36H534.50M504.70,190.87H534.50M504.70,199.39H534.50M504.70,207.90H534.50M504.70,216.42H534.50M504.70,224.94H534.50M504.70,233.45H534.50M504.70,241.97H534.50M504.70,250.48H534.50M504.70,259.00H534.50M504.70,267.52H534.50M504.70,276.03H534.50M504.70,284.55H534.50M504.70,293.06H534.50M504.70,301.58H534.50M504.70,310.10H534.50M504.70,318.61H534.50M504.70,327.13H534.50M504.70,335.64H534.50M504.70,344.16H534.50M504.70,352.68H534.50M504.70,361.19H534.50M504.70,369.71H534.50M504.70,378.22H534.50M504.70,386.74H534.50M504.70,395.26H534.50M504.70,403.77H534.50M504.70,412.29H534.50M504.70,420.80H534.50M504.70,429.32H534.50M504.70,437.84H534.50M504.70,446.35H534.50M504.70,454.87H534.50M504.70,463.38H534.50M504.70,471.90H534.50M504.70,480.42H534.50M504.70,488.93H534.50M504.70,497.45H534.50M504.70,505.96H534.50M504.70,514.48H534.50M504.70,523.00H534.50M504.70,531.51H534.50M504.70,540.03H534.50M504.70,548.54H534.50M504.70,557.06H534.50M504.70,565.58H534.50M504.70,574.09H534.50M504.70,582.61H534.50M504.70,591.12H534.50M504.70,599.64H534.50M504.70,608.16H534.50M504.70,616.67H534.50M504.70,625.19H534.50M504.70,633.70H534.50M504.70,642.22H534.50M504.70,650.74H534.50M504.70,659.25H534.50M504.70,667.77H534.50M504.70,676.28H534.50M504.70,684.80H534.50M504.70,693.32H534.50M504.70,701.83H534.50M504.70,710.35H534.50M504.70,718.86H534.50M504.70,727.38H534.50M504.70,735.90H534.50M504.70,744.41H534.50M504.70,752.93H534.50M504.70,761.44H534.50M504.70,769.96H534.50M504.70,778.48H534.50M504.70,786.99H534.50M504.70,795.51H534.50M504.70,804.02H534.50M504.70,812.54H534.50M504.70,821.06H534.50M504.70,829.57H534.50M504.70,838.09H534.50M504.70,846.60H534.50M504.70,855.12H534.50M504.70,863.64H534.50M504.70,872.15H534.50M504.70,880.67H534.50M504.70,889.18H534.50M504.70,897.70H534.50M504.70,906.22H534.50M504.70,46.10V906.22M534.50,46.10V906.22" stroke="#aaaaaa" stroke-opacity="0.68" stroke-width="0.9" fill="none"/>
<use href="#s" x="516.90" y="50.05"/><use href="#s" x="522.30" y="50.05"/>
<use href="#s" x="516.90" y="58.57"/><use href="#s" x="522.30" y="58.57"/>
<use href="#s" x="516.90" y="126.69"/><use href="#s" x="522.30" y="126.69"/>
<use href="#s" x="519.60" y="152.24"/>
<use href="#s" x="516.90" y="160.76"/><use href="#s" x="522.30" y="160.76"/>
<use href="#s" x="516.90" y="245.92"/><use href="#s" x="522.30" y="245.92"/>
<use href="#s" x="516.90" y="279.98"/><use href="#s" x="522.30" y="279.98"/>
<use href="#s" x="516.90" y="322.56"/><use href="#s" x="522.30" y="322.56"/>
<use href="#s" x="516.90" y="390.69"/><use href="#s" x="522.30" y="390.69"/>
<use href="#s" x="516.90" y="407.72"/><use href="#s" x="522.30" y="407.72"/>
<use href="#s" x="519.60" y="441.79"/>
<use href="#s" x="519.60" y="450.30"/>
<use href="#s" x="516.90" y="458.82"/><use href="#s" x="522.30" y="458.82"/>
<use href="#s" x="519.60" y="484.37"/>
<use href="#s" x="516.90" y="492.88"/><use href="#s" x="522.30" y="492.88"/>
<use href="#s" x="516.90" y="518.43"/><use href="#s" x="522.30" y="518.43"/>
<use href="#s" x="519.60" y="552.49"/>
<use href="#s" x="519.60" y="595.07"/>
<use href="#s" x="519.60" y="620.62"/>
<use href="#s" x="516.90" y="629.14"/><use href="#s" x="522.30" y="629.14"/>
<use href="#s" x="516.90" y="663.20"/><use href="#s" x="522.30" y="663.20"/>
<use href="#s" x="516.90" y="671.72"/><use href="#s" x="522.30" y="671.72"/>
<use href="#s" x="516.90" y="688.75"/><use href="#s" x="522.30" y="688.75"/>
<use href="#s" x="516.90" y="714.30"/><use href="#s" x="522.30" y="714.30"/>
<use href="#s" x="516.90" y="756.88"/><use href="#s" x="522.30" y="756.88"/>
<use href="#s" x="519.60" y="790.94"/>
<use href="#s" x="516.90" y="799.46"/><use href="#s" x="522.30" y="799.46"/>
<use href="#s" x="516.90" y="842.04"/><use href="#s" x="522.30" y="842.04"/>
<use href="#s" x="519.60" y="867.59"/>
<use href="#s" x="516.90" y="893.13"/><use href="#s" x="522.30" y="893.13"/>
<use href="#s" x="519.60" y="901.65"/>
<rect x="545.10" y="46.10" width="29.80" height="8.57" fill="#e064a8"/>
<rect x="574.85" y="46.10" width="29.80" height="8.57" fill="#e782b9"/>
<rect x="545.10" y="54.62" width="29.80" height="8.57" fill="#c81684"/>
<rect x="574.85" y="54.62" width="29.80" height="8.57" fill="#ea91c1"/>
<rect x="545.10" y="63.13" width="29.80" height="8.57" fill="#dd5aa3"/>
<rect x="574.85" y="63.13" width="29.80" height="8.57" fill="#c0ccef"/>
<rect x="545.10" y="71.65" width="29.80" height="8.57" fill="#e064a8"/>
<rect x="574.85" y="71.65" width="29.80" height="8.57" fill="#f6cbe1"/>
<rect x="545.10" y="80.16" width="29.80" height="8.57" fill="#e782b9"/>
<rect x="574.85" y="80.16" width="29.80" height="8.57" fill="#e4e9f7"/>
<rect x="545.10" y="88.68" width="29.80" height="8.57" fill="#e373b0"/>
<rect x="574.85" y="88.68" width="29.80" height="8.57" fill="#f8d9e9"/>
<rect x="545.10" y="97.20" width="29.80" height="8.57" fill="#da509e"/>
<rect x="574.85" y="97.20" width="29.80" height="8.57" fill="#f6cbe1"/>
<rect x="545.10" y="105.71" width="29.80" height="8.57" fill="#e064a8"/>
<rect x="574.85" y="105.71" width="29.80" height="8.57" fill="#fbe6f0"/>
<rect x="545.10" y="114.23" width="29.80" height="8.57" fill="#d43c94"/>
<rect x="574.85" y="114.23" width="29.80" height="8.57" fill="#f0afd2"/>
<rect x="545.10" y="122.74" width="29.80" height="8.57" fill="#da509e"/>
<rect x="574.85" y="122.74" width="29.80" height="8.57" fill="#eda0c9"/>
<rect x="545.10" y="131.26" width="29.80" height="8.57" fill="#d23491"/>
<rect x="574.85" y="131.26" width="29.80" height="8.57" fill="#cd258a"/>
<rect x="545.10" y="139.78" width="29.80" height="8.57" fill="#e373b0"/>
<rect x="574.85" y="139.78" width="29.80" height="8.57" fill="#fbe6f0"/>
<rect x="545.10" y="148.29" width="29.80" height="8.57" fill="#e373b0"/>
<rect x="574.85" y="148.29" width="29.80" height="8.57" fill="#f6cbe1"/>
<rect x="545.10" y="156.81" width="29.80" height="8.57" fill="#f6cbe1"/>
<rect x="574.85" y="156.81" width="29.80" height="8.57" fill="#e064a8"/>
<rect x="545.10" y="165.32" width="29.80" height="8.57" fill="#ccd6f2"/>
<rect x="574.85" y="165.32" width="29.80" height="8.57" fill="#c0ccef"/>
<rect x="545.10" y="173.84" width="29.80" height="8.57" fill="#f6cbe1"/>
<rect x="574.85" y="173.84" width="29.80" height="8.57" fill="#f6cbe1"/>
<rect x="545.10" y="182.36" width="29.80" height="8.57" fill="#ea91c1"/>
<rect x="574.85" y="182.36" width="29.80" height="8.57" fill="#f3beda"/>
<rect x="545.10" y="190.87" width="29.80" height="8.57" fill="#f0afd2"/>
<rect x="574.85" y="190.87" width="29.80" height="8.57" fill="#f0afd2"/>
<rect x="545.10" y="199.39" width="29.80" height="8.57" fill="#eda0c9"/>
<rect x="574.85" y="199.39" width="29.80" height="8.57" fill="#fefafc"/>
<rect x="545.10" y="207.90" width="29.80" height="8.57" fill="#e373b0"/>
<rect x="574.85" y="207.90" width="29.80" height="8.57" fill="#f3beda"/>
<rect x="545.10" y="216.42" width="29.80" height="8.57" fill="#eda0c9"/>
<rect x="574.85" y="216.42" width="29.80" height="8.57" fill="#e064a8"/>
<rect x="545.10" y="224.94" width="29.80" height="8.57" fill="#f6cbe1"/>
<rect x="574.85" y="224.94" width="29.80" height="8.57" fill="#ccd6f2"/>
<rect x="545.10" y="233.45" width="29.80" height="8.57" fill="#f3beda"/>
<rect x="574.85" y="233.45" width="29.80" height="8.57" fill="#f8d9e9"/>
<rect x="545.10" y="241.97" width="29.80" height="8.57" fill="#fef8fa"/>
<rect x="574.85" y="241.97" width="29.80" height="8.57" fill="#e373b0"/>
<rect x="545.10" y="250.48" width="29.80" height="8.57" fill="#f0afd2"/>
<rect x="574.85" y="250.48" width="29.80" height="8.57" fill="#fbe6f0"/>
<rect x="545.10" y="259.00" width="29.80" height="8.57" fill="#ffffff"/>
<rect x="574.85" y="259.00" width="29.80" height="8.57" fill="#fdf2f8"/>
<rect x="545.10" y="267.52" width="29.80" height="8.57" fill="#da509e"/>
<rect x="574.85" y="267.52" width="29.80" height="8.57" fill="#f3beda"/>
<rect x="545.10" y="276.03" width="29.80" height="8.57" fill="#cf2d8e"/>
<rect x="574.85" y="276.03" width="29.80" height="8.57" fill="#ea91c1"/>
<rect x="545.10" y="284.55" width="29.80" height="8.57" fill="#fdf2f8"/>
<rect x="574.85" y="284.55" width="29.80" height="8.57" fill="#eda0c9"/>
<rect x="545.10" y="293.06" width="29.80" height="8.57" fill="#eda0c9"/>
<rect x="574.85" y="293.06" width="29.80" height="8.57" fill="#eda0c9"/>
<rect x="545.10" y="301.58" width="29.80" height="8.57" fill="#f0afd2"/>
<rect x="574.85" y="301.58" width="29.80" height="8.57" fill="#b1c1ec"/>
<rect x="545.10" y="310.10" width="29.80" height="8.57" fill="#f0afd2"/>
<rect x="574.85" y="310.10" width="29.80" height="8.57" fill="#f3beda"/>
<rect x="545.10" y="318.61" width="29.80" height="8.57" fill="#fdf2f8"/>
<rect x="574.85" y="318.61" width="29.80" height="8.57" fill="#e782b9"/>
<rect x="545.10" y="327.13" width="29.80" height="8.57" fill="#f8d9e9"/>
<rect x="574.85" y="327.13" width="29.80" height="8.57" fill="#ffffff"/>
<rect x="545.10" y="335.64" width="29.80" height="8.57" fill="#fbe6f0"/>
<rect x="574.85" y="335.64" width="29.80" height="8.57" fill="#fdf2f8"/>
<rect x="545.10" y="344.16" width="29.80" height="8.57" fill="#f3beda"/>
<rect x="574.85" y="344.16" width="29.80" height="8.57" fill="#e4e9f7"/>
<rect x="545.10" y="352.68" width="29.80" height="8.57" fill="#f2f4fb"/>
<rect x="574.85" y="352.68" width="29.80" height="8.57" fill="#eda0c9"/>
<rect x="545.10" y="361.19" width="29.80" height="8.57" fill="#fef8fa"/>
<rect x="574.85" y="361.19" width="29.80" height="8.57" fill="#b1c1ec"/>
<rect x="545.10" y="369.71" width="29.80" height="8.57" fill="#fcebf3"/>
<rect x="574.85" y="369.71" width="29.80" height="8.57" fill="#f8d9e9"/>
<rect x="545.10" y="378.22" width="29.80" height="8.57" fill="#fbe6f0"/>
<rect x="574.85" y="378.22" width="29.80" height="8.57" fill="#f0afd2"/>
<rect x="545.10" y="386.74" width="29.80" height="8.57" fill="#e782b9"/>
<rect x="574.85" y="386.74" width="29.80" height="8.57" fill="#ea91c1"/>
<rect x="545.10" y="395.26" width="29.80" height="8.57" fill="#f2f4fb"/>
<rect x="574.85" y="395.26" width="29.80" height="8.57" fill="#f3beda"/>
<rect x="545.10" y="403.77" width="29.80" height="8.57" fill="#ea91c1"/>
<rect x="574.85" y="403.77" width="29.80" height="8.57" fill="#d43c94"/>
<rect x="545.10" y="412.29" width="29.80" height="8.57" fill="#b1c1ec"/>
<rect x="574.85" y="412.29" width="29.80" height="8.57" fill="#fefafc"/>
<rect x="545.10" y="420.80" width="29.80" height="8.57" fill="#a3b5e9"/>
<rect x="574.85" y="420.80" width="29.80" height="8.57" fill="#fef8fa"/>
<rect x="545.10" y="429.32" width="29.80" height="8.57" fill="#ffffff"/>
<rect x="574.85" y="429.32" width="29.80" height="8.57" fill="#f0afd2"/>
<rect x="545.10" y="437.84" width="29.80" height="8.57" fill="#4c84d9"/>
<rect x="574.85" y="437.84" width="29.80" height="8.57" fill="#e4e9f7"/>
<rect x="545.10" y="446.35" width="29.80" height="8.57" fill="#94aae6"/>
<rect x="574.85" y="446.35" width="29.80" height="8.57" fill="#fbe6f0"/>
<rect x="545.10" y="454.87" width="29.80" height="8.57" fill="#86a2e4"/>
<rect x="574.85" y="454.87" width="29.80" height="8.57" fill="#fdf2f8"/>
<rect x="545.10" y="463.38" width="29.80" height="8.57" fill="#86a2e4"/>
<rect x="574.85" y="463.38" width="29.80" height="8.57" fill="#94aae6"/>
<rect x="545.10" y="471.90" width="29.80" height="8.57" fill="#fbe6f0"/>
<rect x="574.85" y="471.90" width="29.80" height="8.57" fill="#f3beda"/>
<rect x="545.10" y="480.42" width="29.80" height="8.57" fill="#86a2e4"/>
<rect x="574.85" y="480.42" width="29.80" height="8.57" fill="#f6cbe1"/>
<rect x="545.10" y="488.93" width="29.80" height="8.57" fill="#789be1"/>
<rect x="574.85" y="488.93" width="29.80" height="8.57" fill="#fef8fa"/>
<rect x="545.10" y="497.45" width="29.80" height="8.57" fill="#94aae6"/>
<rect x="574.85" y="497.45" width="29.80" height="8.57" fill="#fdf2f8"/>
<rect x="545.10" y="505.96" width="29.80" height="8.57" fill="#c0ccef"/>
<rect x="574.85" y="505.96" width="29.80" height="8.57" fill="#ea91c1"/>
<rect x="545.10" y="514.48" width="29.80" height="8.57" fill="#86a2e4"/>
<rect x="574.85" y="514.48" width="29.80" height="8.57" fill="#c0ccef"/>
<rect x="545.10" y="523.00" width="29.80" height="8.57" fill="#a3b5e9"/>
<rect x="574.85" y="523.00" width="29.80" height="8.57" fill="#ffffff"/>
<rect x="545.10" y="531.51" width="29.80" height="8.57" fill="#789be1"/>
<rect x="574.85" y="531.51" width="29.80" height="8.57" fill="#b1c1ec"/>
<rect x="545.10" y="540.03" width="29.80" height="8.57" fill="#86a2e4"/>
<rect x="574.85" y="540.03" width="29.80" height="8.57" fill="#a3b5e9"/>
<rect x="545.10" y="548.54" width="29.80" height="8.57" fill="#789be1"/>
<rect x="574.85" y="548.54" width="29.80" height="8.57" fill="#b1c1ec"/>
<rect x="545.10" y="557.06" width="29.80" height="8.57" fill="#5c8cdc"/>
<rect x="574.85" y="557.06" width="29.80" height="8.57" fill="#ccd6f2"/>
<rect x="545.10" y="565.58" width="29.80" height="8.57" fill="#94aae6"/>
<rect x="574.85" y="565.58" width="29.80" height="8.57" fill="#ccd6f2"/>
<rect x="545.10" y="574.09" width="29.80" height="8.57" fill="#b1c1ec"/>
<rect x="574.85" y="574.09" width="29.80" height="8.57" fill="#e4e9f7"/>
<rect x="545.10" y="582.61" width="29.80" height="8.57" fill="#b1c1ec"/>
<rect x="574.85" y="582.61" width="29.80" height="8.57" fill="#fefafc"/>
<rect x="545.10" y="591.12" width="29.80" height="8.57" fill="#86a2e4"/>
<rect x="574.85" y="591.12" width="29.80" height="8.57" fill="#fdf2f8"/>
<rect x="545.10" y="599.64" width="29.80" height="8.57" fill="#86a2e4"/>
<rect x="574.85" y="599.64" width="29.80" height="8.57" fill="#f2f4fb"/>
<rect x="545.10" y="608.16" width="29.80" height="8.57" fill="#789be1"/>
<rect x="574.85" y="608.16" width="29.80" height="8.57" fill="#ccd6f2"/>
<rect x="545.10" y="616.67" width="29.80" height="8.57" fill="#789be1"/>
<rect x="574.85" y="616.67" width="29.80" height="8.57" fill="#789be1"/>
<rect x="545.10" y="625.19" width="29.80" height="8.57" fill="#86a2e4"/>
<rect x="574.85" y="625.19" width="29.80" height="8.57" fill="#fbe6f0"/>
<rect x="545.10" y="633.70" width="29.80" height="8.57" fill="#a3b5e9"/>
<rect x="574.85" y="633.70" width="29.80" height="8.57" fill="#ffffff"/>
<rect x="545.10" y="642.22" width="29.80" height="8.57" fill="#94aae6"/>
<rect x="574.85" y="642.22" width="29.80" height="8.57" fill="#f2f4fb"/>
<rect x="545.10" y="650.74" width="29.80" height="8.57" fill="#86a2e4"/>
<rect x="574.85" y="650.74" width="29.80" height="8.57" fill="#e4e9f7"/>
<rect x="545.10" y="659.25" width="29.80" height="8.57" fill="#789be1"/>
<rect x="574.85" y="659.25" width="29.80" height="8.57" fill="#fef8fa"/>
<rect x="545.10" y="667.77" width="29.80" height="8.57" fill="#5c8cdc"/>
<rect x="574.85" y="667.77" width="29.80" height="8.57" fill="#d8dff4"/>
<rect x="545.10" y="676.28" width="29.80" height="8.57" fill="#789be1"/>
<rect x="574.85" y="676.28" width="29.80" height="8.57" fill="#e4e9f7"/>
<rect x="545.10" y="684.80" width="29.80" height="8.57" fill="#789be1"/>
<rect x="574.85" y="684.80" width="29.80" height="8.57" fill="#b1c1ec"/>
<rect x="545.10" y="693.32" width="29.80" height="8.57" fill="#6a94de"/>
<rect x="574.85" y="693.32" width="29.80" height="8.57" fill="#ffffff"/>
<rect x="545.10" y="701.83" width="29.80" height="8.57" fill="#789be1"/>
<rect x="574.85" y="701.83" width="29.80" height="8.57" fill="#fbe6f0"/>
<rect x="545.10" y="710.35" width="29.80" height="8.57" fill="#789be1"/>
<rect x="574.85" y="710.35" width="29.80" height="8.57" fill="#ccd6f2"/>
<rect x="545.10" y="718.86" width="29.80" height="8.57" fill="#a3b5e9"/>
<rect x="574.85" y="718.86" width="29.80" height="8.57" fill="#d8dff4"/>
<rect x="545.10" y="727.38" width="29.80" height="8.57" fill="#94aae6"/>
<rect x="574.85" y="727.38" width="29.80" height="8.57" fill="#94aae6"/>
<rect x="545.10" y="735.90" width="29.80" height="8.57" fill="#d8dff4"/>
<rect x="574.85" y="735.90" width="29.80" height="8.57" fill="#b1c1ec"/>
<rect x="545.10" y="744.41" width="29.80" height="8.57" fill="#86a2e4"/>
<rect x="574.85" y="744.41" width="29.80" height="8.57" fill="#d8dff4"/>
<rect x="545.10" y="752.93" width="29.80" height="8.57" fill="#86a2e4"/>
<rect x="574.85" y="752.93" width="29.80" height="8.57" fill="#d8dff4"/>
<rect x="545.10" y="761.44" width="29.80" height="8.57" fill="#a3b5e9"/>
<rect x="574.85" y="761.44" width="29.80" height="8.57" fill="#b1c1ec"/>
<rect x="545.10" y="769.96" width="29.80" height="8.57" fill="#4c84d9"/>
<rect x="574.85" y="769.96" width="29.80" height="8.57" fill="#d8dff4"/>
<rect x="545.10" y="778.48" width="29.80" height="8.57" fill="#a3b5e9"/>
<rect x="574.85" y="778.48" width="29.80" height="8.57" fill="#f8d9e9"/>
<rect x="545.10" y="786.99" width="29.80" height="8.57" fill="#789be1"/>
<rect x="574.85" y="786.99" width="29.80" height="8.57" fill="#e4e9f7"/>
<rect x="545.10" y="795.51" width="29.80" height="8.57" fill="#94aae6"/>
<rect x="574.85" y="795.51" width="29.80" height="8.57" fill="#f2f4fb"/>
<rect x="545.10" y="804.02" width="29.80" height="8.57" fill="#6a94de"/>
<rect x="574.85" y="804.02" width="29.80" height="8.57" fill="#94aae6"/>
<rect x="545.10" y="812.54" width="29.80" height="8.57" fill="#f3beda"/>
<rect x="574.85" y="812.54" width="29.80" height="8.57" fill="#e373b0"/>
<rect x="545.10" y="821.06" width="29.80" height="8.57" fill="#94aae6"/>
<rect x="574.85" y="821.06" width="29.80" height="8.57" fill="#f2f4fb"/>
<rect x="545.10" y="829.57" width="29.80" height="8.57" fill="#c0ccef"/>
<rect x="574.85" y="829.57" width="29.80" height="8.57" fill="#d8dff4"/>
<rect x="545.10" y="838.09" width="29.80" height="8.57" fill="#4c84d9"/>
<rect x="574.85" y="838.09" width="29.80" height="8.57" fill="#f6cbe1"/>
<rect x="545.10" y="846.60" width="29.80" height="8.57" fill="#d8dff4"/>
<rect x="574.85" y="846.60" width="29.80" height="8.57" fill="#eda0c9"/>
<rect x="545.10" y="855.12" width="29.80" height="8.57" fill="#f6cbe1"/>
<rect x="574.85" y="855.12" width="29.80" height="8.57" fill="#f0afd2"/>
<rect x="545.10" y="863.64" width="29.80" height="8.57" fill="#86a2e4"/>
<rect x="574.85" y="863.64" width="29.80" height="8.57" fill="#fbe6f0"/>
<rect x="545.10" y="872.15" width="29.80" height="8.57" fill="#86a2e4"/>
<rect x="574.85" y="872.15" width="29.80" height="8.57" fill="#fef8fa"/>
<rect x="545.10" y="880.67" width="29.80" height="8.57" fill="#86a2e4"/>
<rect x="574.85" y="880.67" width="29.80" height="8.57" fill="#fdf2f8"/>
<rect x="545.10" y="889.18" width="29.80" height="8.57" fill="#5c8cdc"/>
<rect x="574.85" y="889.18" width="29.80" height="8.57" fill="#f8d9e9"/>
<rect x="545.10" y="897.70" width="29.80" height="8.57" fill="#a3b5e9"/>
<rect x="574.85" y="897.70" width="29.80" height="8.57" fill="#f6cbe1"/>
<path d="M545.10,46.10H604.60M545.10,54.62H604.60M545.10,63.13H604.60M545.10,71.65H604.60M545.10,80.16H604.60M545.10,88.68H604.60M545.10,97.20H604.60M545.10,105.71H604.60M545.10,114.23H604.60M545.10,122.74H604.60M545.10,131.26H604.60M545.10,139.78H604.60M545.10,148.29H604.60M545.10,156.81H604.60M545.10,165.32H604.60M545.10,173.84H604.60M545.10,182.36H604.60M545.10,190.87H604.60M545.10,199.39H604.60M545.10,207.90H604.60M545.10,216.42H604.60M545.10,224.94H604.60M545.10,233.45H604.60M545.10,241.97H604.60M545.10,250.48H604.60M545.10,259.00H604.60M545.10,267.52H604.60M545.10,276.03H604.60M545.10,284.55H604.60M545.10,293.06H604.60M545.10,301.58H604.60M545.10,310.10H604.60M545.10,318.61H604.60M545.10,327.13H604.60M545.10,335.64H604.60M545.10,344.16H604.60M545.10,352.68H604.60M545.10,361.19H604.60M545.10,369.71H604.60M545.10,378.22H604.60M545.10,386.74H604.60M545.10,395.26H604.60M545.10,403.77H604.60M545.10,412.29H604.60M545.10,420.80H604.60M545.10,429.32H604.60M545.10,437.84H604.60M545.10,446.35H604.60M545.10,454.87H604.60M545.10,463.38H604.60M545.10,471.90H604.60M545.10,480.42H604.60M545.10,488.93H604.60M545.10,497.45H604.60M545.10,505.96H604.60M545.10,514.48H604.60M545.10,523.00H604.60M545.10,531.51H604.60M545.10,540.03H604.60M545.10,548.54H604.60M545.10,557.06H604.60M545.10,565.58H604.60M545.10,574.09H604.60M545.10,582.61H604.60M545.10,591.12H604.60M545.10,599.64H604.60M545.10,608.16H604.60M545.10,616.67H604.60M545.10,625.19H604.60M545.10,633.70H604.60M545.10,642.22H604.60M545.10,650.74H604.60M545.10,659.25H604.60M545.10,667.77H604.60M545.10,676.28H604.60M545.10,684.80H604.60M545.10,693.32H604.60M545.10,701.83H604.60M545.10,710.35H604.60M545.10,718.86H604.60M545.10,727.38H604.60M545.10,735.90H604.60M545.10,744.41H604.60M545.10,752.93H604.60M545.10,761.44H604.60M545.10,769.96H604.60M545.10,778.48H604.60M545.10,786.99H604.60M545.10,795.51H604.60M545.10,804.02H604.60M545.10,812.54H604.60M545.10,821.06H604.60M545.10,829.57H604.60M545.10,838.09H604.60M545.10,846.60H604.60M545.10,855.12H604.60M545.10,863.64H604.60M545.10,872.15H604.60M545.10,880.67H604.60M545.10,889.18H604.60M545.10,897.70H604.60M545.10,906.22H604.60M545.10,46.10V906.22M574.85,46.10V906.22M604.60,46.10V906.22" stroke="#aaaaaa" stroke-opacity="0.68" stroke-width="0.9" fill="none"/>
<use href="#s" x="557.27" y="50.05"/><use href="#s" x="562.68" y="50.05"/>
<use href="#s" x="557.27" y="58.57"/><use href="#s" x="562.68" y="58.57"/>
<use href="#s" x="557.27" y="67.08"/><use href="#s" x="562.68" y="67.08"/>
<use href="#s" x="557.27" y="75.60"/><use href="#s" x="562.68" y="75.60"/>
<use href="#s" x="557.27" y="84.11"/><use href="#s" x="562.68" y="84.11"/>
<use href="#s" x="557.27" y="92.63"/><use href="#s" x="562.68" y="92.63"/>
<use href="#s" x="557.27" y="101.15"/><use href="#s" x="562.68" y="101.15"/>
<use href="#s" x="557.27" y="109.66"/><use href="#s" x="562.68" y="109.66"/>
<use href="#s" x="557.27" y="118.18"/><use href="#s" x="562.68" y="118.18"/>
<use href="#s" x="557.27" y="126.69"/><use href="#s" x="562.68" y="126.69"/>
<use href="#s" x="557.27" y="135.21"/><use href="#s" x="562.68" y="135.21"/>
<use href="#s" x="587.02" y="135.21"/><use href="#s" x="592.43" y="135.21"/>
<use href="#s" x="557.27" y="143.73"/><use href="#s" x="562.68" y="143.73"/>
<use href="#s" x="557.27" y="152.24"/><use href="#s" x="562.68" y="152.24"/>
<use href="#s" x="589.73" y="160.76"/>
<use href="#s" x="557.27" y="186.31"/><use href="#s" x="562.68" y="186.31"/>
<use href="#s" x="557.27" y="194.82"/><use href="#s" x="562.68" y="194.82"/>
<use href="#s" x="557.27" y="203.34"/><use href="#s" x="562.68" y="203.34"/>
<use href="#s" x="557.27" y="211.85"/><use href="#s" x="562.68" y="211.85"/>
<use href="#s" x="557.27" y="220.37"/><use href="#s" x="562.68" y="220.37"/>
<use href="#s" x="589.73" y="220.37"/>
<use href="#s" x="557.27" y="228.89"/><use href="#s" x="562.68" y="228.89"/>
<use href="#s" x="557.27" y="237.40"/><use href="#s" x="562.68" y="237.40"/>
<use href="#s" x="589.73" y="245.92"/>
<use href="#s" x="557.27" y="254.43"/><use href="#s" x="562.68" y="254.43"/>
<use href="#s" x="557.27" y="271.47"/><use href="#s" x="562.68" y="271.47"/>
<use href="#s" x="557.27" y="279.98"/><use href="#s" x="562.68" y="279.98"/>
<use href="#s" x="557.27" y="297.01"/><use href="#s" x="562.68" y="297.01"/>
<use href="#s" x="557.27" y="305.53"/><use href="#s" x="562.68" y="305.53"/>
<use href="#s" x="557.27" y="314.05"/><use href="#s" x="562.68" y="314.05"/>
<use href="#s" x="559.98" y="348.11"/>
<use href="#s" x="557.27" y="390.69"/><use href="#s" x="562.68" y="390.69"/>
<use href="#s" x="557.27" y="407.72"/><use href="#s" x="562.68" y="407.72"/>
<use href="#s" x="587.02" y="407.72"/><use href="#s" x="592.43" y="407.72"/>
<use href="#s" x="557.27" y="416.24"/><use href="#s" x="562.68" y="416.24"/>
<use href="#s" x="557.27" y="424.75"/><use href="#s" x="562.68" y="424.75"/>
<use href="#s" x="557.27" y="441.79"/><use href="#s" x="562.68" y="441.79"/>
<use href="#s" x="557.27" y="450.30"/><use href="#s" x="562.68" y="450.30"/>
<use href="#s" x="557.27" y="458.82"/><use href="#s" x="562.68" y="458.82"/>
<use href="#s" x="557.27" y="467.33"/><use href="#s" x="562.68" y="467.33"/>
<use href="#s" x="557.27" y="484.37"/><use href="#s" x="562.68" y="484.37"/>
<use href="#s" x="557.27" y="492.88"/><use href="#s" x="562.68" y="492.88"/>
<use href="#s" x="557.27" y="501.40"/><use href="#s" x="562.68" y="501.40"/>
<use href="#s" x="557.27" y="509.91"/><use href="#s" x="562.68" y="509.91"/>
<use href="#s" x="557.27" y="518.43"/><use href="#s" x="562.68" y="518.43"/>
<use href="#s" x="557.27" y="526.95"/><use href="#s" x="562.68" y="526.95"/>
<use href="#s" x="557.27" y="535.46"/><use href="#s" x="562.68" y="535.46"/>
<use href="#s" x="557.27" y="543.98"/><use href="#s" x="562.68" y="543.98"/>
<use href="#s" x="557.27" y="552.49"/><use href="#s" x="562.68" y="552.49"/>
<use href="#s" x="557.27" y="561.01"/><use href="#s" x="562.68" y="561.01"/>
<use href="#s" x="557.27" y="569.53"/><use href="#s" x="562.68" y="569.53"/>
<use href="#s" x="557.27" y="578.04"/><use href="#s" x="562.68" y="578.04"/>
<use href="#s" x="557.27" y="586.56"/><use href="#s" x="562.68" y="586.56"/>
<use href="#s" x="557.27" y="595.07"/><use href="#s" x="562.68" y="595.07"/>
<use href="#s" x="557.27" y="603.59"/><use href="#s" x="562.68" y="603.59"/>
<use href="#s" x="557.27" y="612.11"/><use href="#s" x="562.68" y="612.11"/>
<use href="#s" x="557.27" y="620.62"/><use href="#s" x="562.68" y="620.62"/>
<use href="#s" x="589.73" y="620.62"/>
<use href="#s" x="557.27" y="629.14"/><use href="#s" x="562.68" y="629.14"/>
<use href="#s" x="557.27" y="637.65"/><use href="#s" x="562.68" y="637.65"/>
<use href="#s" x="557.27" y="646.17"/><use href="#s" x="562.68" y="646.17"/>
<use href="#s" x="557.27" y="654.69"/><use href="#s" x="562.68" y="654.69"/>
<use href="#s" x="557.27" y="663.20"/><use href="#s" x="562.68" y="663.20"/>
<use href="#s" x="557.27" y="671.72"/><use href="#s" x="562.68" y="671.72"/>
<use href="#s" x="557.27" y="680.23"/><use href="#s" x="562.68" y="680.23"/>
<use href="#s" x="557.27" y="688.75"/><use href="#s" x="562.68" y="688.75"/>
<use href="#s" x="557.27" y="697.27"/><use href="#s" x="562.68" y="697.27"/>
<use href="#s" x="557.27" y="705.78"/><use href="#s" x="562.68" y="705.78"/>
<use href="#s" x="557.27" y="714.30"/><use href="#s" x="562.68" y="714.30"/>
<use href="#s" x="557.27" y="722.81"/><use href="#s" x="562.68" y="722.81"/>
<use href="#s" x="557.27" y="731.33"/><use href="#s" x="562.68" y="731.33"/>
<use href="#s" x="557.27" y="748.36"/><use href="#s" x="562.68" y="748.36"/>
<use href="#s" x="557.27" y="756.88"/><use href="#s" x="562.68" y="756.88"/>
<use href="#s" x="557.27" y="765.39"/><use href="#s" x="562.68" y="765.39"/>
<use href="#s" x="557.27" y="773.91"/><use href="#s" x="562.68" y="773.91"/>
<use href="#s" x="557.27" y="782.43"/><use href="#s" x="562.68" y="782.43"/>
<use href="#s" x="557.27" y="790.94"/><use href="#s" x="562.68" y="790.94"/>
<use href="#s" x="557.27" y="799.46"/><use href="#s" x="562.68" y="799.46"/>
<use href="#s" x="557.27" y="807.97"/><use href="#s" x="562.68" y="807.97"/>
<use href="#s" x="559.98" y="816.49"/>
<use href="#s" x="589.73" y="816.49"/>
<use href="#s" x="557.27" y="825.01"/><use href="#s" x="562.68" y="825.01"/>
<use href="#s" x="559.98" y="833.52"/>
<use href="#s" x="557.27" y="842.04"/><use href="#s" x="562.68" y="842.04"/>
<use href="#s" x="559.98" y="850.55"/>
<use href="#s" x="557.27" y="867.59"/><use href="#s" x="562.68" y="867.59"/>
<use href="#s" x="557.27" y="876.10"/><use href="#s" x="562.68" y="876.10"/>
<use href="#s" x="557.27" y="884.62"/><use href="#s" x="562.68" y="884.62"/>
<use href="#s" x="557.27" y="893.13"/><use href="#s" x="562.68" y="893.13"/>
<use href="#s" x="557.27" y="901.65"/><use href="#s" x="562.68" y="901.65"/>
<rect x="614.50" y="46.10" width="30.15" height="8.57" fill="#f0afd2"/>
<rect x="614.50" y="54.62" width="30.15" height="8.57" fill="#e782b9"/>
<rect x="614.50" y="63.13" width="30.15" height="8.57" fill="#e782b9"/>
<rect x="614.50" y="71.65" width="30.15" height="8.57" fill="#d8dff4"/>
<rect x="614.50" y="80.16" width="30.15" height="8.57" fill="#f3beda"/>
<rect x="614.50" y="88.68" width="30.15" height="8.57" fill="#f6cbe1"/>
<rect x="614.50" y="97.20" width="30.15" height="8.57" fill="#f8d9e9"/>
<rect x="614.50" y="105.71" width="30.15" height="8.57" fill="#f2f4fb"/>
<rect x="614.50" y="114.23" width="30.15" height="8.57" fill="#e4e9f7"/>
<rect x="614.50" y="122.74" width="30.15" height="8.57" fill="#f6cbe1"/>
<rect x="614.50" y="131.26" width="30.15" height="8.57" fill="#ffffff"/>
<rect x="614.50" y="139.78" width="30.15" height="8.57" fill="#e4e9f7"/>
<rect x="614.50" y="148.29" width="30.15" height="8.57" fill="#f8d9e9"/>
<rect x="614.50" y="156.81" width="30.15" height="8.57" fill="#ffffff"/>
<rect x="614.50" y="165.32" width="30.15" height="8.57" fill="#e373b0"/>
<rect x="614.50" y="173.84" width="30.15" height="8.57" fill="#c0ccef"/>
<rect x="614.50" y="182.36" width="30.15" height="8.57" fill="#ffffff"/>
<rect x="614.50" y="190.87" width="30.15" height="8.57" fill="#b1c1ec"/>
<rect x="614.50" y="199.39" width="30.15" height="8.57" fill="#789be1"/>
<rect x="614.50" y="207.90" width="30.15" height="8.57" fill="#e4e9f7"/>
<rect x="614.50" y="216.42" width="30.15" height="8.57" fill="#f2f4fb"/>
<rect x="614.50" y="224.94" width="30.15" height="8.57" fill="#b1c1ec"/>
<rect x="614.50" y="233.45" width="30.15" height="8.57" fill="#b1c1ec"/>
<rect x="614.50" y="241.97" width="30.15" height="8.57" fill="#b1c1ec"/>
<rect x="614.50" y="250.48" width="30.15" height="8.57" fill="#b1c1ec"/>
<rect x="614.50" y="259.00" width="30.15" height="8.57" fill="#b1c1ec"/>
<rect x="614.50" y="267.52" width="30.15" height="8.57" fill="#e4e9f7"/>
<rect x="614.50" y="276.03" width="30.15" height="8.57" fill="#f2f4fb"/>
<rect x="614.50" y="284.55" width="30.15" height="8.57" fill="#5c8cdc"/>
<rect x="614.50" y="293.06" width="30.15" height="8.57" fill="#d8dff4"/>
<rect x="614.50" y="301.58" width="30.15" height="8.57" fill="#fbe6f0"/>
<rect x="614.50" y="310.10" width="30.15" height="8.57" fill="#e4e9f7"/>
<rect x="614.50" y="318.61" width="30.15" height="8.57" fill="#d8dff4"/>
<rect x="614.50" y="327.13" width="30.15" height="8.57" fill="#f6cbe1"/>
<rect x="614.50" y="335.64" width="30.15" height="8.57" fill="#f3beda"/>
<rect x="614.50" y="344.16" width="30.15" height="8.57" fill="#f8d9e9"/>
<rect x="614.50" y="352.68" width="30.15" height="8.57" fill="#5c8cdc"/>
<rect x="614.50" y="361.19" width="30.15" height="8.57" fill="#f8d9e9"/>
<rect x="614.50" y="369.71" width="30.15" height="8.57" fill="#f8d9e9"/>
<rect x="614.50" y="378.22" width="30.15" height="8.57" fill="#789be1"/>
<rect x="614.50" y="386.74" width="30.15" height="8.57" fill="#5c8cdc"/>
<rect x="614.50" y="395.26" width="30.15" height="8.57" fill="#6a94de"/>
<rect x="614.50" y="403.77" width="30.15" height="8.57" fill="#a3b5e9"/>
<rect x="614.50" y="412.29" width="30.15" height="8.57" fill="#2d75d2"/>
<rect x="614.50" y="420.80" width="30.15" height="8.57" fill="#b1c1ec"/>
<rect x="614.50" y="429.32" width="30.15" height="8.57" fill="#f2f4fb"/>
<rect x="614.50" y="437.84" width="30.15" height="8.57" fill="#b1c1ec"/>
<rect x="614.50" y="446.35" width="30.15" height="8.57" fill="#b1c1ec"/>
<rect x="614.50" y="454.87" width="30.15" height="8.57" fill="#b1c1ec"/>
<rect x="614.50" y="463.38" width="30.15" height="8.57" fill="#c0ccef"/>
<rect x="614.50" y="471.90" width="30.15" height="8.57" fill="#f8d9e9"/>
<rect x="614.50" y="480.42" width="30.15" height="8.57" fill="#f8d9e9"/>
<rect x="614.50" y="488.93" width="30.15" height="8.57" fill="#f6cbe1"/>
<rect x="614.50" y="497.45" width="30.15" height="8.57" fill="#f6cbe1"/>
<rect x="614.50" y="505.96" width="30.15" height="8.57" fill="#a3b5e9"/>
<rect x="614.50" y="514.48" width="30.15" height="8.57" fill="#fef8fa"/>
<rect x="614.50" y="523.00" width="30.15" height="8.57" fill="#fbe6f0"/>
<rect x="614.50" y="531.51" width="30.15" height="8.57" fill="#d8dff4"/>
<rect x="614.50" y="540.03" width="30.15" height="8.57" fill="#ffffff"/>
<rect x="614.50" y="548.54" width="30.15" height="8.57" fill="#f8d9e9"/>
<rect x="614.50" y="557.06" width="30.15" height="8.57" fill="#e4e9f7"/>
<rect x="614.50" y="565.58" width="30.15" height="8.57" fill="#fbe6f0"/>
<rect x="614.50" y="574.09" width="30.15" height="8.57" fill="#d8dff4"/>
<rect x="614.50" y="582.61" width="30.15" height="8.57" fill="#f6cbe1"/>
<rect x="614.50" y="591.12" width="30.15" height="8.57" fill="#b1c1ec"/>
<rect x="614.50" y="599.64" width="30.15" height="8.57" fill="#86a2e4"/>
<rect x="614.50" y="608.16" width="30.15" height="8.57" fill="#ccd6f2"/>
<rect x="614.50" y="616.67" width="30.15" height="8.57" fill="#e4e9f7"/>
<rect x="614.50" y="625.19" width="30.15" height="8.57" fill="#f8d9e9"/>
<rect x="614.50" y="633.70" width="30.15" height="8.57" fill="#f3beda"/>
<rect x="614.50" y="642.22" width="30.15" height="8.57" fill="#fbe6f0"/>
<rect x="614.50" y="650.74" width="30.15" height="8.57" fill="#ccd6f2"/>
<rect x="614.50" y="659.25" width="30.15" height="8.57" fill="#94aae6"/>
<rect x="614.50" y="667.77" width="30.15" height="8.57" fill="#ccd6f2"/>
<rect x="614.50" y="676.28" width="30.15" height="8.57" fill="#c0ccef"/>
<rect x="614.50" y="684.80" width="30.15" height="8.57" fill="#2171cf"/>
<rect x="614.50" y="693.32" width="30.15" height="8.57" fill="#94aae6"/>
<rect x="614.50" y="701.83" width="30.15" height="8.57" fill="#f2f4fb"/>
<rect x="614.50" y="710.35" width="30.15" height="8.57" fill="#94aae6"/>
<rect x="614.50" y="718.86" width="30.15" height="8.57" fill="#e4e9f7"/>
<rect x="614.50" y="727.38" width="30.15" height="8.57" fill="#d8dff4"/>
<rect x="614.50" y="735.90" width="30.15" height="8.57" fill="#b1c1ec"/>
<rect x="614.50" y="744.41" width="30.15" height="8.57" fill="#b1c1ec"/>
<rect x="614.50" y="752.93" width="30.15" height="8.57" fill="#5c8cdc"/>
<rect x="614.50" y="761.44" width="30.15" height="8.57" fill="#ffffff"/>
<rect x="614.50" y="769.96" width="30.15" height="8.57" fill="#86a2e4"/>
<rect x="614.50" y="778.48" width="30.15" height="8.57" fill="#ccd6f2"/>
<rect x="614.50" y="786.99" width="30.15" height="8.57" fill="#ccd6f2"/>
<rect x="614.50" y="795.51" width="30.15" height="8.57" fill="#ccd6f2"/>
<rect x="614.50" y="804.02" width="30.15" height="8.57" fill="#c0ccef"/>
<rect x="614.50" y="812.54" width="30.15" height="8.57" fill="#d8dff4"/>
<rect x="614.50" y="821.06" width="30.15" height="8.57" fill="#d8dff4"/>
<rect x="614.50" y="829.57" width="30.15" height="8.57" fill="#ccd6f2"/>
<rect x="614.50" y="838.09" width="30.15" height="8.57" fill="#ccd6f2"/>
<rect x="614.50" y="846.60" width="30.15" height="8.57" fill="#94aae6"/>
<rect x="614.50" y="855.12" width="30.15" height="8.57" fill="#f8d9e9"/>
<rect x="614.50" y="863.64" width="30.15" height="8.57" fill="#ffffff"/>
<rect x="614.50" y="872.15" width="30.15" height="8.57" fill="#e4e9f7"/>
<rect x="614.50" y="880.67" width="30.15" height="8.57" fill="#c0ccef"/>
<rect x="614.50" y="889.18" width="30.15" height="8.57" fill="#d8dff4"/>
<rect x="614.50" y="897.70" width="30.15" height="8.57" fill="#86a2e4"/>
<path d="M614.50,46.10H644.60M614.50,54.62H644.60M614.50,63.13H644.60M614.50,71.65H644.60M614.50,80.16H644.60M614.50,88.68H644.60M614.50,97.20H644.60M614.50,105.71H644.60M614.50,114.23H644.60M614.50,122.74H644.60M614.50,131.26H644.60M614.50,139.78H644.60M614.50,148.29H644.60M614.50,156.81H644.60M614.50,165.32H644.60M614.50,173.84H644.60M614.50,182.36H644.60M614.50,190.87H644.60M614.50,199.39H644.60M614.50,207.90H644.60M614.50,216.42H644.60M614.50,224.94H644.60M614.50,233.45H644.60M614.50,241.97H644.60M614.50,250.48H644.60M614.50,259.00H644.60M614.50,267.52H644.60M614.50,276.03H644.60M614.50,284.55H644.60M614.50,293.06H644.60M614.50,301.58H644.60M614.50,310.10H644.60M614.50,318.61H644.60M614.50,327.13H644.60M614.50,335.64H644.60M614.50,344.16H644.60M614.50,352.68H644.60M614.50,361.19H644.60M614.50,369.71H644.60M614.50,378.22H644.60M614.50,386.74H644.60M614.50,395.26H644.60M614.50,403.77H644.60M614.50,412.29H644.60M614.50,420.80H644.60M614.50,429.32H644.60M614.50,437.84H644.60M614.50,446.35H644.60M614.50,454.87H644.60M614.50,463.38H644.60M614.50,471.90H644.60M614.50,480.42H644.60M614.50,488.93H644.60M614.50,497.45H644.60M614.50,505.96H644.60M614.50,514.48H644.60M614.50,523.00H644.60M614.50,531.51H644.60M614.50,540.03H644.60M614.50,548.54H644.60M614.50,557.06H644.60M614.50,565.58H644.60M614.50,574.09H644.60M614.50,582.61H644.60M614.50,591.12H644.60M614.50,599.64H644.60M614.50,608.16H644.60M614.50,616.67H644.60M614.50,625.19H644.60M614.50,633.70H644.60M614.50,642.22H644.60M614.50,650.74H644.60M614.50,659.25H644.60M614.50,667.77H644.60M614.50,676.28H644.60M614.50,684.80H644.60M614.50,693.32H644.60M614.50,701.83H644.60M614.50,710.35H644.60M614.50,718.86H644.60M614.50,727.38H644.60M614.50,735.90H644.60M614.50,744.41H644.60M614.50,752.93H644.60M614.50,761.44H644.60M614.50,769.96H644.60M614.50,778.48H644.60M614.50,786.99H644.60M614.50,795.51H644.60M614.50,804.02H644.60M614.50,812.54H644.60M614.50,821.06H644.60M614.50,829.57H644.60M614.50,838.09H644.60M614.50,846.60H644.60M614.50,855.12H644.60M614.50,863.64H644.60M614.50,872.15H644.60M614.50,880.67H644.60M614.50,889.18H644.60M614.50,897.70H644.60M614.50,906.22H644.60M614.50,46.10V906.22M644.60,46.10V906.22" stroke="#aaaaaa" stroke-opacity="0.68" stroke-width="0.9" fill="none"/>
<use href="#s" x="629.55" y="58.57"/>
<use href="#s" x="629.55" y="67.08"/>
<use href="#s" x="629.55" y="169.27"/>
<use href="#s" x="626.85" y="203.34"/><use href="#s" x="632.25" y="203.34"/>
<use href="#s" x="626.85" y="288.50"/><use href="#s" x="632.25" y="288.50"/>
<use href="#s" x="626.85" y="356.63"/><use href="#s" x="632.25" y="356.63"/>
<use href="#s" x="629.55" y="382.17"/>
<use href="#s" x="626.85" y="390.69"/><use href="#s" x="632.25" y="390.69"/>
<use href="#s" x="626.85" y="399.21"/><use href="#s" x="632.25" y="399.21"/>
<use href="#s" x="629.55" y="407.72"/>
<use href="#s" x="626.85" y="416.24"/><use href="#s" x="632.25" y="416.24"/>
<use href="#s" x="629.55" y="603.59"/>
<use href="#s" x="629.55" y="663.20"/>
<use href="#s" x="626.85" y="688.75"/><use href="#s" x="632.25" y="688.75"/>
<use href="#s" x="629.55" y="697.27"/>
<use href="#s" x="629.55" y="714.30"/>
<use href="#s" x="626.85" y="756.88"/><use href="#s" x="632.25" y="756.88"/>
<use href="#s" x="629.55" y="773.91"/>
<use href="#s" x="629.55" y="850.55"/>
<use href="#s" x="629.55" y="901.65"/>
<rect x="655.00" y="46.10" width="29.85" height="8.57" fill="#d74699"/>
<rect x="655.00" y="54.62" width="29.85" height="8.57" fill="#d23491"/>
<rect x="655.00" y="63.13" width="29.85" height="8.57" fill="#da509e"/>
<rect x="655.00" y="71.65" width="29.85" height="8.57" fill="#e373b0"/>
<rect x="655.00" y="80.16" width="29.85" height="8.57" fill="#e373b0"/>
<rect x="655.00" y="88.68" width="29.85" height="8.57" fill="#f3beda"/>
<rect x="655.00" y="97.20" width="29.85" height="8.57" fill="#dd5aa3"/>
<rect x="655.00" y="105.71" width="29.85" height="8.57" fill="#ea91c1"/>
<rect x="655.00" y="114.23" width="29.85" height="8.57" fill="#dd5aa3"/>
<rect x="655.00" y="122.74" width="29.85" height="8.57" fill="#da509e"/>
<rect x="655.00" y="131.26" width="29.85" height="8.57" fill="#dd5aa3"/>
<rect x="655.00" y="139.78" width="29.85" height="8.57" fill="#e373b0"/>
<rect x="655.00" y="148.29" width="29.85" height="8.57" fill="#e064a8"/>
<rect x="655.00" y="156.81" width="29.85" height="8.57" fill="#e373b0"/>
<rect x="655.00" y="165.32" width="29.85" height="8.57" fill="#ea91c1"/>
<rect x="655.00" y="173.84" width="29.85" height="8.57" fill="#e782b9"/>
<rect x="655.00" y="182.36" width="29.85" height="8.57" fill="#e782b9"/>
<rect x="655.00" y="190.87" width="29.85" height="8.57" fill="#fcebf3"/>
<rect x="655.00" y="199.39" width="29.85" height="8.57" fill="#f8d9e9"/>
<rect x="655.00" y="207.90" width="29.85" height="8.57" fill="#e064a8"/>
<rect x="655.00" y="216.42" width="29.85" height="8.57" fill="#e373b0"/>
<rect x="655.00" y="224.94" width="29.85" height="8.57" fill="#fbe6f0"/>
<rect x="655.00" y="233.45" width="29.85" height="8.57" fill="#f0afd2"/>
<rect x="655.00" y="241.97" width="29.85" height="8.57" fill="#f3beda"/>
<rect x="655.00" y="250.48" width="29.85" height="8.57" fill="#f3beda"/>
<rect x="655.00" y="259.00" width="29.85" height="8.57" fill="#f6cbe1"/>
<rect x="655.00" y="267.52" width="29.85" height="8.57" fill="#f0afd2"/>
<rect x="655.00" y="276.03" width="29.85" height="8.57" fill="#dd5aa3"/>
<rect x="655.00" y="284.55" width="29.85" height="8.57" fill="#eda0c9"/>
<rect x="655.00" y="293.06" width="29.85" height="8.57" fill="#eda0c9"/>
<rect x="655.00" y="301.58" width="29.85" height="8.57" fill="#e373b0"/>
<rect x="655.00" y="310.10" width="29.85" height="8.57" fill="#e782b9"/>
<rect x="655.00" y="318.61" width="29.85" height="8.57" fill="#f6cbe1"/>
<rect x="655.00" y="327.13" width="29.85" height="8.57" fill="#f3beda"/>
<rect x="655.00" y="335.64" width="29.85" height="8.57" fill="#f6cbe1"/>
<rect x="655.00" y="344.16" width="29.85" height="8.57" fill="#f3beda"/>
<rect x="655.00" y="352.68" width="29.85" height="8.57" fill="#f6cbe1"/>
<rect x="655.00" y="361.19" width="29.85" height="8.57" fill="#f8d9e9"/>
<rect x="655.00" y="369.71" width="29.85" height="8.57" fill="#fef8fa"/>
<rect x="655.00" y="378.22" width="29.85" height="8.57" fill="#e4e9f7"/>
<rect x="655.00" y="386.74" width="29.85" height="8.57" fill="#f6cbe1"/>
<rect x="655.00" y="395.26" width="29.85" height="8.57" fill="#e4e9f7"/>
<rect x="655.00" y="403.77" width="29.85" height="8.57" fill="#fbe6f0"/>
<rect x="655.00" y="412.29" width="29.85" height="8.57" fill="#a3b5e9"/>
<rect x="655.00" y="420.80" width="29.85" height="8.57" fill="#c0ccef"/>
<rect x="655.00" y="429.32" width="29.85" height="8.57" fill="#94aae6"/>
<rect x="655.00" y="437.84" width="29.85" height="8.57" fill="#86a2e4"/>
<rect x="655.00" y="446.35" width="29.85" height="8.57" fill="#94aae6"/>
<rect x="655.00" y="454.87" width="29.85" height="8.57" fill="#6a94de"/>
<rect x="655.00" y="463.38" width="29.85" height="8.57" fill="#ccd6f2"/>
<rect x="655.00" y="471.90" width="29.85" height="8.57" fill="#fbe6f0"/>
<rect x="655.00" y="480.42" width="29.85" height="8.57" fill="#a3b5e9"/>
<rect x="655.00" y="488.93" width="29.85" height="8.57" fill="#6a94de"/>
<rect x="655.00" y="497.45" width="29.85" height="8.57" fill="#b1c1ec"/>
<rect x="655.00" y="505.96" width="29.85" height="8.57" fill="#a3b5e9"/>
<rect x="655.00" y="514.48" width="29.85" height="8.57" fill="#6a94de"/>
<rect x="655.00" y="523.00" width="29.85" height="8.57" fill="#789be1"/>
<rect x="655.00" y="531.51" width="29.85" height="8.57" fill="#94aae6"/>
<rect x="655.00" y="540.03" width="29.85" height="8.57" fill="#a3b5e9"/>
<rect x="655.00" y="548.54" width="29.85" height="8.57" fill="#6a94de"/>
<rect x="655.00" y="557.06" width="29.85" height="8.57" fill="#6a94de"/>
<rect x="655.00" y="565.58" width="29.85" height="8.57" fill="#86a2e4"/>
<rect x="655.00" y="574.09" width="29.85" height="8.57" fill="#c0ccef"/>
<rect x="655.00" y="582.61" width="29.85" height="8.57" fill="#e4e9f7"/>
<rect x="655.00" y="591.12" width="29.85" height="8.57" fill="#86a2e4"/>
<rect x="655.00" y="599.64" width="29.85" height="8.57" fill="#5c8cdc"/>
<rect x="655.00" y="608.16" width="29.85" height="8.57" fill="#789be1"/>
<rect x="655.00" y="616.67" width="29.85" height="8.57" fill="#789be1"/>
<rect x="655.00" y="625.19" width="29.85" height="8.57" fill="#789be1"/>
<rect x="655.00" y="633.70" width="29.85" height="8.57" fill="#86a2e4"/>
<rect x="655.00" y="642.22" width="29.85" height="8.57" fill="#789be1"/>
<rect x="655.00" y="650.74" width="29.85" height="8.57" fill="#5c8cdc"/>
<rect x="655.00" y="659.25" width="29.85" height="8.57" fill="#6a94de"/>
<rect x="655.00" y="667.77" width="29.85" height="8.57" fill="#6a94de"/>
<rect x="655.00" y="676.28" width="29.85" height="8.57" fill="#86a2e4"/>
<rect x="655.00" y="684.80" width="29.85" height="8.57" fill="#5c8cdc"/>
<rect x="655.00" y="693.32" width="29.85" height="8.57" fill="#5c8cdc"/>
<rect x="655.00" y="701.83" width="29.85" height="8.57" fill="#789be1"/>
<rect x="655.00" y="710.35" width="29.85" height="8.57" fill="#789be1"/>
<rect x="655.00" y="718.86" width="29.85" height="8.57" fill="#94aae6"/>
<rect x="655.00" y="727.38" width="29.85" height="8.57" fill="#b1c1ec"/>
<rect x="655.00" y="735.90" width="29.85" height="8.57" fill="#b1c1ec"/>
<rect x="655.00" y="744.41" width="29.85" height="8.57" fill="#789be1"/>
<rect x="655.00" y="752.93" width="29.85" height="8.57" fill="#5c8cdc"/>
<rect x="655.00" y="761.44" width="29.85" height="8.57" fill="#b1c1ec"/>
<rect x="655.00" y="769.96" width="29.85" height="8.57" fill="#6a94de"/>
<rect x="655.00" y="778.48" width="29.85" height="8.57" fill="#b1c1ec"/>
<rect x="655.00" y="786.99" width="29.85" height="8.57" fill="#789be1"/>
<rect x="655.00" y="795.51" width="29.85" height="8.57" fill="#94aae6"/>
<rect x="655.00" y="804.02" width="29.85" height="8.57" fill="#1d6fce"/>
<rect x="655.00" y="812.54" width="29.85" height="8.57" fill="#ffffff"/>
<rect x="655.00" y="821.06" width="29.85" height="8.57" fill="#94aae6"/>
<rect x="655.00" y="829.57" width="29.85" height="8.57" fill="#94aae6"/>
<rect x="655.00" y="838.09" width="29.85" height="8.57" fill="#789be1"/>
<rect x="655.00" y="846.60" width="29.85" height="8.57" fill="#789be1"/>
<rect x="655.00" y="855.12" width="29.85" height="8.57" fill="#ffffff"/>
<rect x="655.00" y="863.64" width="29.85" height="8.57" fill="#94aae6"/>
<rect x="655.00" y="872.15" width="29.85" height="8.57" fill="#e4e9f7"/>
<rect x="655.00" y="880.67" width="29.85" height="8.57" fill="#e4e9f7"/>
<rect x="655.00" y="889.18" width="29.85" height="8.57" fill="#5c8cdc"/>
<rect x="655.00" y="897.70" width="29.85" height="8.57" fill="#5c8cdc"/>
<path d="M655.00,46.10H684.80M655.00,54.62H684.80M655.00,63.13H684.80M655.00,71.65H684.80M655.00,80.16H684.80M655.00,88.68H684.80M655.00,97.20H684.80M655.00,105.71H684.80M655.00,114.23H684.80M655.00,122.74H684.80M655.00,131.26H684.80M655.00,139.78H684.80M655.00,148.29H684.80M655.00,156.81H684.80M655.00,165.32H684.80M655.00,173.84H684.80M655.00,182.36H684.80M655.00,190.87H684.80M655.00,199.39H684.80M655.00,207.90H684.80M655.00,216.42H684.80M655.00,224.94H684.80M655.00,233.45H684.80M655.00,241.97H684.80M655.00,250.48H684.80M655.00,259.00H684.80M655.00,267.52H684.80M655.00,276.03H684.80M655.00,284.55H684.80M655.00,293.06H684.80M655.00,301.58H684.80M655.00,310.10H684.80M655.00,318.61H684.80M655.00,327.13H684.80M655.00,335.64H684.80M655.00,344.16H684.80M655.00,352.68H684.80M655.00,361.19H684.80M655.00,369.71H684.80M655.00,378.22H684.80M655.00,386.74H684.80M655.00,395.26H684.80M655.00,403.77H684.80M655.00,412.29H684.80M655.00,420.80H684.80M655.00,429.32H684.80M655.00,437.84H684.80M655.00,446.35H684.80M655.00,454.87H684.80M655.00,463.38H684.80M655.00,471.90H684.80M655.00,480.42H684.80M655.00,488.93H684.80M655.00,497.45H684.80M655.00,505.96H684.80M655.00,514.48H684.80M655.00,523.00H684.80M655.00,531.51H684.80M655.00,540.03H684.80M655.00,548.54H684.80M655.00,557.06H684.80M655.00,565.58H684.80M655.00,574.09H684.80M655.00,582.61H684.80M655.00,591.12H684.80M655.00,599.64H684.80M655.00,608.16H684.80M655.00,616.67H684.80M655.00,625.19H684.80M655.00,633.70H684.80M655.00,642.22H684.80M655.00,650.74H684.80M655.00,659.25H684.80M655.00,667.77H684.80M655.00,676.28H684.80M655.00,684.80H684.80M655.00,693.32H684.80M655.00,701.83H684.80M655.00,710.35H684.80M655.00,718.86H684.80M655.00,727.38H684.80M655.00,735.90H684.80M655.00,744.41H684.80M655.00,752.93H684.80M655.00,761.44H684.80M655.00,769.96H684.80M655.00,778.48H684.80M655.00,786.99H684.80M655.00,795.51H684.80M655.00,804.02H684.80M655.00,812.54H684.80M655.00,821.06H684.80M655.00,829.57H684.80M655.00,838.09H684.80M655.00,846.60H684.80M655.00,855.12H684.80M655.00,863.64H684.80M655.00,872.15H684.80M655.00,880.67H684.80M655.00,889.18H684.80M655.00,897.70H684.80M655.00,906.22H684.80M655.00,46.10V906.22M684.80,46.10V906.22" stroke="#aaaaaa" stroke-opacity="0.68" stroke-width="0.9" fill="none"/>
<use href="#s" x="667.20" y="50.05"/><use href="#s" x="672.60" y="50.05"/>
<use href="#s" x="667.20" y="58.57"/><use href="#s" x="672.60" y="58.57"/>
<use href="#s" x="667.20" y="67.08"/><use href="#s" x="672.60" y="67.08"/>
<use href="#s" x="667.20" y="75.60"/><use href="#s" x="672.60" y="75.60"/>
<use href="#s" x="667.20" y="84.11"/><use href="#s" x="672.60" y="84.11"/>
<use href="#s" x="667.20" y="101.15"/><use href="#s" x="672.60" y="101.15"/>
<use href="#s" x="669.90" y="109.66"/>
<use href="#s" x="667.20" y="118.18"/><use href="#s" x="672.60" y="118.18"/>
<use href="#s" x="667.20" y="126.69"/><use href="#s" x="672.60" y="126.69"/>
<use href="#s" x="667.20" y="135.21"/><use href="#s" x="672.60" y="135.21"/>
<use href="#s" x="667.20" y="143.73"/><use href="#s" x="672.60" y="143.73"/>
<use href="#s" x="667.20" y="152.24"/><use href="#s" x="672.60" y="152.24"/>
<use href="#s" x="667.20" y="160.76"/><use href="#s" x="672.60" y="160.76"/>
<use href="#s" x="667.20" y="169.27"/><use href="#s" x="672.60" y="169.27"/>
<use href="#s" x="667.20" y="177.79"/><use href="#s" x="672.60" y="177.79"/>
<use href="#s" x="667.20" y="186.31"/><use href="#s" x="672.60" y="186.31"/>
<use href="#s" x="667.20" y="211.85"/><use href="#s" x="672.60" y="211.85"/>
<use href="#s" x="667.20" y="220.37"/><use href="#s" x="672.60" y="220.37"/>
<use href="#s" x="669.90" y="237.40"/>
<use href="#s" x="669.90" y="271.47"/>
<use href="#s" x="667.20" y="279.98"/><use href="#s" x="672.60" y="279.98"/>
<use href="#s" x="669.90" y="288.50"/>
<use href="#s" x="669.90" y="297.01"/>
<use href="#s" x="667.20" y="305.53"/><use href="#s" x="672.60" y="305.53"/>
<use href="#s" x="667.20" y="314.05"/><use href="#s" x="672.60" y="314.05"/>
<use href="#s" x="669.90" y="348.11"/>
<use href="#s" x="669.90" y="390.69"/>
<use href="#s" x="667.20" y="416.24"/><use href="#s" x="672.60" y="416.24"/>
<use href="#s" x="669.90" y="424.75"/>
<use href="#s" x="667.20" y="433.27"/><use href="#s" x="672.60" y="433.27"/>
<use href="#s" x="667.20" y="441.79"/><use href="#s" x="672.60" y="441.79"/>
<use href="#s" x="667.20" y="450.30"/><use href="#s" x="672.60" y="450.30"/>
<use href="#s" x="667.20" y="458.82"/><use href="#s" x="672.60" y="458.82"/>
<use href="#s" x="667.20" y="484.37"/><use href="#s" x="672.60" y="484.37"/>
<use href="#s" x="667.20" y="492.88"/><use href="#s" x="672.60" y="492.88"/>
<use href="#s" x="669.90" y="501.40"/>
<use href="#s" x="667.20" y="509.91"/><use href="#s" x="672.60" y="509.91"/>
<use href="#s" x="667.20" y="518.43"/><use href="#s" x="672.60" y="518.43"/>
<use href="#s" x="667.20" y="526.95"/><use href="#s" x="672.60" y="526.95"/>
<use href="#s" x="667.20" y="535.46"/><use href="#s" x="672.60" y="535.46"/>
<use href="#s" x="669.90" y="543.98"/>
<use href="#s" x="667.20" y="552.49"/><use href="#s" x="672.60" y="552.49"/>
<use href="#s" x="667.20" y="561.01"/><use href="#s" x="672.60" y="561.01"/>
<use href="#s" x="667.20" y="569.53"/><use href="#s" x="672.60" y="569.53"/>
<use href="#s" x="669.90" y="578.04"/>
<use href="#s" x="667.20" y="595.07"/><use href="#s" x="672.60" y="595.07"/>
<use href="#s" x="667.20" y="603.59"/><use href="#s" x="672.60" y="603.59"/>
<use href="#s" x="667.20" y="612.11"/><use href="#s" x="672.60" y="612.11"/>
<use href="#s" x="667.20" y="620.62"/><use href="#s" x="672.60" y="620.62"/>
<use href="#s" x="667.20" y="629.14"/><use href="#s" x="672.60" y="629.14"/>
<use href="#s" x="667.20" y="637.65"/><use href="#s" x="672.60" y="637.65"/>
<use href="#s" x="667.20" y="646.17"/><use href="#s" x="672.60" y="646.17"/>
<use href="#s" x="667.20" y="654.69"/><use href="#s" x="672.60" y="654.69"/>
<use href="#s" x="667.20" y="663.20"/><use href="#s" x="672.60" y="663.20"/>
<use href="#s" x="667.20" y="671.72"/><use href="#s" x="672.60" y="671.72"/>
<use href="#s" x="667.20" y="680.23"/><use href="#s" x="672.60" y="680.23"/>
<use href="#s" x="667.20" y="688.75"/><use href="#s" x="672.60" y="688.75"/>
<use href="#s" x="667.20" y="697.27"/><use href="#s" x="672.60" y="697.27"/>
<use href="#s" x="667.20" y="705.78"/><use href="#s" x="672.60" y="705.78"/>
<use href="#s" x="667.20" y="714.30"/><use href="#s" x="672.60" y="714.30"/>
<use href="#s" x="667.20" y="722.81"/><use href="#s" x="672.60" y="722.81"/>
<use href="#s" x="669.90" y="731.33"/>
<use href="#s" x="669.90" y="739.85"/>
<use href="#s" x="667.20" y="748.36"/><use href="#s" x="672.60" y="748.36"/>
<use href="#s" x="667.20" y="756.88"/><use href="#s" x="672.60" y="756.88"/>
<use href="#s" x="669.90" y="765.39"/>
<use href="#s" x="667.20" y="773.91"/><use href="#s" x="672.60" y="773.91"/>
<use href="#s" x="669.90" y="782.43"/>
<use href="#s" x="667.20" y="790.94"/><use href="#s" x="672.60" y="790.94"/>
<use href="#s" x="667.20" y="799.46"/><use href="#s" x="672.60" y="799.46"/>
<use href="#s" x="667.20" y="807.97"/><use href="#s" x="672.60" y="807.97"/>
<use href="#s" x="667.20" y="825.01"/><use href="#s" x="672.60" y="825.01"/>
<use href="#s" x="667.20" y="833.52"/><use href="#s" x="672.60" y="833.52"/>
<use href="#s" x="667.20" y="842.04"/><use href="#s" x="672.60" y="842.04"/>
<use href="#s" x="667.20" y="850.55"/><use href="#s" x="672.60" y="850.55"/>
<use href="#s" x="667.20" y="867.59"/><use href="#s" x="672.60" y="867.59"/>
<use href="#s" x="667.20" y="893.13"/><use href="#s" x="672.60" y="893.13"/>
<use href="#s" x="667.20" y="901.65"/><use href="#s" x="672.60" y="901.65"/>
<defs><linearGradient id="g1" x1="0" x2="1" y1="0" y2="0"><stop offset="0.000" stop-color="#1e70ce"/><stop offset="0.017" stop-color="#1e70ce"/><stop offset="0.033" stop-color="#1e70ce"/><stop offset="0.050" stop-color="#1e70ce"/><stop offset="0.067" stop-color="#1e70ce"/><stop offset="0.083" stop-color="#1e70ce"/><stop offset="0.100" stop-color="#1e70ce"/><stop offset="0.117" stop-color="#1e70ce"/><stop offset="0.133" stop-color="#1e70ce"/><stop offset="0.150" stop-color="#1e70ce"/><stop offset="0.167" stop-color="#2572cf"/><stop offset="0.183" stop-color="#2e75d1"/><stop offset="0.200" stop-color="#3879d3"/><stop offset="0.217" stop-color="#447ed5"/><stop offset="0.233" stop-color="#5284d8"/><stop offset="0.250" stop-color="#608ada"/><stop offset="0.267" stop-color="#6d91dc"/><stop offset="0.283" stop-color="#7998de"/><stop offset="0.300" stop-color="#859fe1"/><stop offset="0.317" stop-color="#90a6e3"/><stop offset="0.333" stop-color="#9baee5"/><stop offset="0.350" stop-color="#a6b7e8"/><stop offset="0.367" stop-color="#b1c0eb"/><stop offset="0.383" stop-color="#bcc8ee"/><stop offset="0.400" stop-color="#c7d1f0"/><stop offset="0.417" stop-color="#d1d9f3"/><stop offset="0.433" stop-color="#dbe2f6"/><stop offset="0.450" stop-color="#e5eaf8"/><stop offset="0.467" stop-color="#eff2fb"/><stop offset="0.483" stop-color="#f9fafd"/><stop offset="0.500" stop-color="#fefbfd"/><stop offset="0.517" stop-color="#fcf0f5"/><stop offset="0.533" stop-color="#f9e5ef"/><stop offset="0.550" stop-color="#f7ddea"/><stop offset="0.567" stop-color="#f6d4e5"/><stop offset="0.583" stop-color="#f3cae0"/><stop offset="0.600" stop-color="#f1c0da"/><stop offset="0.617" stop-color="#efb5d4"/><stop offset="0.633" stop-color="#ecaace"/><stop offset="0.650" stop-color="#ea9fc8"/><stop offset="0.667" stop-color="#e895c2"/><stop offset="0.683" stop-color="#e58bbc"/><stop offset="0.700" stop-color="#e381b6"/><stop offset="0.717" stop-color="#e177b0"/><stop offset="0.733" stop-color="#de6dab"/><stop offset="0.750" stop-color="#dc63a5"/><stop offset="0.767" stop-color="#d8539e"/><stop offset="0.783" stop-color="#d44298"/><stop offset="0.800" stop-color="#d03291"/><stop offset="0.817" stop-color="#cc248b"/><stop offset="0.833" stop-color="#c81684"/><stop offset="0.850" stop-color="#c81684"/><stop offset="0.867" stop-color="#c81684"/><stop offset="0.883" stop-color="#c81684"/><stop offset="0.900" stop-color="#c81684"/><stop offset="0.917" stop-color="#c81684"/><stop offset="0.933" stop-color="#c81684"/><stop offset="0.950" stop-color="#c81684"/><stop offset="0.967" stop-color="#c81684"/><stop offset="0.983" stop-color="#c81684"/><stop offset="1.000" stop-color="#c81684"/></linearGradient></defs>
<rect x="309.00" y="915.00" width="75.20" height="8.70" fill="url(#g1)"/>
<path d="M312.20,915.00V918.80M312.20,920.00V923.70" stroke="#fff" stroke-width="0.8" stroke-opacity="0.65"/>
<path d="M329.50,915.00V918.80M329.50,920.00V923.70" stroke="#fff" stroke-width="0.8" stroke-opacity="0.65"/>
<path d="M346.20,915.00V918.80M346.20,920.00V923.70" stroke="#fff" stroke-width="0.8" stroke-opacity="0.65"/>
<path d="M362.60,915.00V918.80M362.60,920.00V923.70" stroke="#fff" stroke-width="0.8" stroke-opacity="0.65"/>
<path d="M379.80,915.00V918.80M379.80,920.00V923.70" stroke="#fff" stroke-width="0.8" stroke-opacity="0.65"/>
<defs><linearGradient id="g2" x1="0" x2="1" y1="0" y2="0"><stop offset="0.000" stop-color="#1e70ce"/><stop offset="0.017" stop-color="#1e70ce"/><stop offset="0.033" stop-color="#1e70ce"/><stop offset="0.050" stop-color="#2372cf"/><stop offset="0.067" stop-color="#2b74d1"/><stop offset="0.083" stop-color="#3277d2"/><stop offset="0.100" stop-color="#3979d3"/><stop offset="0.117" stop-color="#427dd5"/><stop offset="0.133" stop-color="#4d82d7"/><stop offset="0.150" stop-color="#5786d8"/><stop offset="0.167" stop-color="#618bda"/><stop offset="0.183" stop-color="#6b90dc"/><stop offset="0.200" stop-color="#7495dd"/><stop offset="0.217" stop-color="#7d9adf"/><stop offset="0.233" stop-color="#859fe1"/><stop offset="0.250" stop-color="#8ea5e2"/><stop offset="0.267" stop-color="#96aae4"/><stop offset="0.283" stop-color="#9eb1e6"/><stop offset="0.300" stop-color="#a6b7e8"/><stop offset="0.317" stop-color="#aebeea"/><stop offset="0.333" stop-color="#b6c4ec"/><stop offset="0.350" stop-color="#becaee"/><stop offset="0.367" stop-color="#c7d1f0"/><stop offset="0.383" stop-color="#ced7f2"/><stop offset="0.400" stop-color="#d6ddf4"/><stop offset="0.417" stop-color="#dee3f6"/><stop offset="0.433" stop-color="#e5e9f8"/><stop offset="0.450" stop-color="#edeffa"/><stop offset="0.467" stop-color="#f4f5fc"/><stop offset="0.483" stop-color="#fafbfe"/><stop offset="0.500" stop-color="#fefcfd"/><stop offset="0.517" stop-color="#fdf4f8"/><stop offset="0.533" stop-color="#fbebf2"/><stop offset="0.550" stop-color="#f9e4ee"/><stop offset="0.567" stop-color="#f8ddea"/><stop offset="0.583" stop-color="#f6d7e6"/><stop offset="0.600" stop-color="#f5d0e3"/><stop offset="0.617" stop-color="#f3c9df"/><stop offset="0.633" stop-color="#f1c1da"/><stop offset="0.650" stop-color="#f0b9d6"/><stop offset="0.667" stop-color="#eeb1d2"/><stop offset="0.683" stop-color="#eca9cd"/><stop offset="0.700" stop-color="#eaa1c9"/><stop offset="0.717" stop-color="#e999c5"/><stop offset="0.733" stop-color="#e791c0"/><stop offset="0.750" stop-color="#e58abc"/><stop offset="0.767" stop-color="#e383b7"/><stop offset="0.783" stop-color="#e27bb3"/><stop offset="0.800" stop-color="#e074af"/><stop offset="0.817" stop-color="#de6daa"/><stop offset="0.833" stop-color="#dc65a6"/><stop offset="0.850" stop-color="#da5aa1"/><stop offset="0.867" stop-color="#d74e9c"/><stop offset="0.883" stop-color="#d44297"/><stop offset="0.900" stop-color="#d13693"/><stop offset="0.917" stop-color="#ce2b8e"/><stop offset="0.933" stop-color="#cb2189"/><stop offset="0.950" stop-color="#c81784"/><stop offset="0.967" stop-color="#c81684"/><stop offset="0.983" stop-color="#c81684"/><stop offset="1.000" stop-color="#c81684"/></linearGradient></defs>
<rect x="506.10" y="915.00" width="87.60" height="8.70" fill="url(#g2)"/>
<path d="M509.10,915.00V918.80M509.10,920.00V923.70" stroke="#fff" stroke-width="0.8" stroke-opacity="0.65"/>
<path d="M529.30,915.00V918.80M529.30,920.00V923.70" stroke="#fff" stroke-width="0.8" stroke-opacity="0.65"/>
<path d="M549.50,915.00V918.80M549.50,920.00V923.70" stroke="#fff" stroke-width="0.8" stroke-opacity="0.65"/>
<path d="M569.40,915.00V918.80M569.40,920.00V923.70" stroke="#fff" stroke-width="0.8" stroke-opacity="0.65"/>
<path d="M589.30,915.00V918.80M589.30,920.00V923.70" stroke="#fff" stroke-width="0.8" stroke-opacity="0.65"/>
<g opacity="0.999" transform="matrix(1,0.0005,0,1,0,0)"><text x="149.30" y="53.23" text-anchor="end" style="font-size:8.30px;font-style:italic;stroke:#231f20;stroke-width:0.04px">Sellimonas intestinalis</text>
<text x="149.30" y="61.75" text-anchor="end" style="font-size:8.30px;font-style:italic;stroke:#231f20;stroke-width:0.04px">Ruminococcus B gnavus</text>
<text x="149.30" y="70.27" text-anchor="end" style="font-size:8.30px;font-style:italic;stroke:#231f20;stroke-width:0.04px">Enterocloster clostridioformis</text>
<text x="149.30" y="78.79" text-anchor="end" style="font-size:8.30px;font-style:italic;stroke:#231f20;stroke-width:0.04px">Enterocloster aldenensis</text>
<text x="149.30" y="87.31" text-anchor="end" style="font-size:8.30px;font-style:italic;stroke:#231f20;stroke-width:0.04px">Thomasclavelia ramosa</text>
<text x="149.30" y="95.83" text-anchor="end" style="font-size:8.30px;font-style:italic;stroke:#231f20;stroke-width:0.04px">Hungatella effluvii</text>
<text x="149.30" y="104.35" text-anchor="end" style="font-size:8.30px;font-style:italic;stroke:#231f20;stroke-width:0.04px">Eggerthella lenta</text>
<text x="149.30" y="112.87" text-anchor="end" style="font-size:8.30px;font-style:italic;stroke:#231f20;stroke-width:0.04px">Clostridium Q symbiosum</text>
<text x="149.30" y="121.39" text-anchor="end" style="font-size:8.30px;font-style:italic;stroke:#231f20;stroke-width:0.04px">Enterocloster bolteae</text>
<text x="149.30" y="129.91" text-anchor="end" style="font-size:8.30px;font-style:italic;stroke:#231f20;stroke-width:0.04px">Clostridium AQ innocuum</text>
<text x="149.30" y="138.44" text-anchor="end" style="font-size:8.30px;font-style:italic;stroke:#231f20;stroke-width:0.04px">Flavonifractor plautii</text>
<text x="149.30" y="146.96" text-anchor="end" style="font-size:8.30px;font-style:italic;stroke:#231f20;stroke-width:0.04px">Blautia coccoides</text>
<text x="149.30" y="155.48" text-anchor="end" style="font-size:8.30px;font-style:italic;stroke:#231f20;stroke-width:0.04px">Anaerostipes caccae</text>
<text x="149.30" y="164.00" text-anchor="end" style="font-size:8.30px;font-style:italic;stroke:#231f20;stroke-width:0.04px">Thomasclavelia spiroformis</text>
<text x="149.30" y="172.52" text-anchor="end" style="font-size:8.30px;font-style:italic;stroke:#231f20;stroke-width:0.04px">Intestinibacter bartlettii</text>
<text x="149.30" y="181.04" text-anchor="end" style="font-size:8.30px;font-style:italic;stroke:#231f20;stroke-width:0.04px">Massilimicrobiota sp002160865</text>
<text x="149.30" y="189.56" text-anchor="end" style="font-size:8.30px;font-style:italic;stroke:#231f20;stroke-width:0.04px">Clostridium AP sp000509125</text>
<text x="149.30" y="198.08" text-anchor="end" style="font-size:8.30px;font-style:italic;stroke:#231f20;stroke-width:0.04px">Eisenbergiella porci</text>
<text x="149.30" y="206.60" text-anchor="end" style="font-size:8.30px;font-style:italic;stroke:#231f20;stroke-width:0.04px">Enterocloster lavalensis</text>
<text x="149.30" y="215.12" text-anchor="end" style="font-size:8.30px;font-style:italic;stroke:#231f20;stroke-width:0.04px">Anaerotruncus colihominis</text>
<text x="149.30" y="223.65" text-anchor="end" style="font-size:8.30px;font-style:italic;stroke:#231f20;stroke-width:0.04px">Lactonifactor sp009677585</text>
<text x="149.30" y="232.17" text-anchor="end" style="font-size:8.30px;font-style:italic;stroke:#231f20;stroke-width:0.04px">CAG–317 sp000433535</text>
<text x="149.30" y="240.69" text-anchor="end" style="font-size:8.30px;font-style:italic;stroke:#231f20;stroke-width:0.04px">Pseudoscilispira sp020555605</text>
<text x="149.30" y="249.21" text-anchor="end" style="font-size:8.30px;font-style:italic;stroke:#231f20;stroke-width:0.04px">Merdisoma faecalis</text>
<text x="149.30" y="257.73" text-anchor="end" style="font-size:8.30px;font-style:italic;stroke:#231f20;stroke-width:0.04px">Hungatella hathewayi</text>
<text x="149.30" y="266.25" text-anchor="end" style="font-size:8.30px;font-style:italic;stroke:#231f20;stroke-width:0.04px">Faecaligallichristensenella faecipullorum</text>
<text x="149.30" y="274.77" text-anchor="end" style="font-size:8.30px;font-style:italic;stroke:#231f20;stroke-width:0.04px">Enterocloster citroniae</text>
<text x="149.30" y="283.29" text-anchor="end" style="font-size:8.30px;font-style:italic;stroke:#231f20;stroke-width:0.04px">Agathobaculum sp900291975</text>
<text x="149.30" y="291.81" text-anchor="end" style="font-size:8.30px;font-style:italic;stroke:#231f20;stroke-width:0.04px">Ventrisoma faecale</text>
<text x="149.30" y="300.33" text-anchor="end" style="font-size:8.30px;font-style:italic;stroke:#231f20;stroke-width:0.04px">Massilimicrobiota merdigallinarum</text>
<text x="149.30" y="308.86" text-anchor="end" style="font-size:8.30px;font-style:italic;stroke:#231f20;stroke-width:0.04px">Agathobaculum pullistercoris</text>
<text x="149.30" y="317.38" text-anchor="end" style="font-size:8.30px;font-style:italic;stroke:#231f20;stroke-width:0.04px">Fusicatenibacter sp900543115</text>
<text x="149.30" y="325.90" text-anchor="end" style="font-size:8.30px;font-style:italic;stroke:#231f20;stroke-width:0.04px">Lawsonibacter sp900545895</text>
<text x="149.30" y="334.42" text-anchor="end" style="font-size:8.30px;font-style:italic;stroke:#231f20;stroke-width:0.04px">Clostridium AQ sp000165065</text>
<text x="149.30" y="342.94" text-anchor="end" style="font-size:8.30px;font-style:italic;stroke:#231f20;stroke-width:0.04px">Lentihominibacter excrementavium</text>
<text x="149.30" y="351.46" text-anchor="end" style="font-size:8.30px;font-style:italic;stroke:#231f20;stroke-width:0.04px">Rubneribacter badeniensis</text>
<text x="149.30" y="359.98" text-anchor="end" style="font-size:8.30px;font-style:italic;stroke:#231f20;stroke-width:0.04px">Dysosmobacter sp900548505</text>
<text x="149.30" y="368.50" text-anchor="end" style="font-size:8.30px;font-style:italic;stroke:#231f20;stroke-width:0.04px">Faecalibacillus sp900544435</text>
<text x="149.30" y="377.02" text-anchor="end" style="font-size:8.30px;font-style:italic;stroke:#231f20;stroke-width:0.04px">Murimonas intestini</text>
<text x="149.30" y="385.54" text-anchor="end" style="font-size:8.30px;font-style:italic;stroke:#231f20;stroke-width:0.04px">Ventricola intestinavium</text>
<text x="149.30" y="394.07" text-anchor="end" style="font-size:8.30px;font-style:italic;stroke:#231f20;stroke-width:0.04px">Massiliimalia timonensis</text>
<text x="149.30" y="402.59" text-anchor="end" style="font-size:8.30px;font-style:italic;stroke:#231f20;stroke-width:0.04px">CAKTXU01 sp934615635</text>
<text x="149.30" y="411.11" text-anchor="end" style="font-size:8.30px;font-style:italic;stroke:#231f20;stroke-width:0.04px">Blautia A hydrogenotrophica</text>
<text x="149.30" y="419.63" text-anchor="end" style="font-size:8.30px;font-style:italic;stroke:#231f20;stroke-width:0.04px">CAG–196 sp002102975</text>
<text x="149.30" y="428.15" text-anchor="end" style="font-size:8.30px;font-style:italic;stroke:#231f20;stroke-width:0.04px">Odoribacter splanchnicus</text>
<text x="149.30" y="436.67" text-anchor="end" style="font-size:8.30px;font-style:italic;stroke:#231f20;stroke-width:0.04px">Lentihominibacter sp900066305</text>
<text x="149.30" y="445.19" text-anchor="end" style="font-size:8.30px;font-style:italic;stroke:#231f20;stroke-width:0.04px">Flemingibacterium sp900546315</text>
<text x="149.30" y="453.71" text-anchor="end" style="font-size:8.30px;font-style:italic;stroke:#231f20;stroke-width:0.04px">CAG–238 sp900542245</text>
<text x="149.30" y="462.23" text-anchor="end" style="font-size:8.30px;font-style:italic;stroke:#231f20;stroke-width:0.04px">Faecivicinus sp900553265</text>
<text x="149.30" y="470.75" text-anchor="end" style="font-size:8.30px;font-style:italic;stroke:#231f20;stroke-width:0.04px">Faecalibacterium sp900758465</text>
<text x="149.30" y="479.28" text-anchor="end" style="font-size:8.30px;font-style:italic;stroke:#231f20;stroke-width:0.04px">Faecalibacterium prausnitzii D</text>
<text x="149.30" y="487.80" text-anchor="end" style="font-size:8.30px;font-style:italic;stroke:#231f20;stroke-width:0.04px">Limiplasma sp004556545</text>
<text x="149.30" y="496.32" text-anchor="end" style="font-size:8.30px;font-style:italic;stroke:#231f20;stroke-width:0.04px">RUG11247 sp902767315</text>
<text x="149.30" y="504.84" text-anchor="end" style="font-size:8.30px;font-style:italic;stroke:#231f20;stroke-width:0.04px">Onthomonas sp900545815</text>
<text x="149.30" y="513.36" text-anchor="end" style="font-size:8.30px;font-style:italic;stroke:#231f20;stroke-width:0.04px">Eubacterium F sp900539115</text>
<text x="149.30" y="521.88" text-anchor="end" style="font-size:8.30px;font-style:italic;stroke:#231f20;stroke-width:0.04px">Egerieenecus sp900553315</text>
<text x="149.30" y="530.40" text-anchor="end" style="font-size:8.30px;font-style:italic;stroke:#231f20;stroke-width:0.04px">Ventricola sp900548125</text>
<text x="149.30" y="538.92" text-anchor="end" style="font-size:8.30px;font-style:italic;stroke:#231f20;stroke-width:0.04px">Lawsonibacter sp014287875</text>
<text x="149.30" y="547.44" text-anchor="end" style="font-size:8.30px;font-style:italic;stroke:#231f20;stroke-width:0.04px">Copromonas sp900066785</text>
<text x="149.30" y="555.96" text-anchor="end" style="font-size:8.30px;font-style:italic;stroke:#231f20;stroke-width:0.04px">CAG–170 sp905214155</text>
<text x="149.30" y="564.49" text-anchor="end" style="font-size:8.30px;font-style:italic;stroke:#231f20;stroke-width:0.04px">Copromonas sp900066055</text>
<text x="149.30" y="573.01" text-anchor="end" style="font-size:8.30px;font-style:italic;stroke:#231f20;stroke-width:0.04px">UBA644 sp900547165</text>
<text x="149.30" y="581.53" text-anchor="end" style="font-size:8.30px;font-style:italic;stroke:#231f20;stroke-width:0.04px">Dysosmobacter sp900542115</text>
<text x="149.30" y="590.05" text-anchor="end" style="font-size:8.30px;font-style:italic;stroke:#231f20;stroke-width:0.04px">Gemmiger sp900539695</text>
<text x="149.30" y="598.57" text-anchor="end" style="font-size:8.30px;font-style:italic;stroke:#231f20;stroke-width:0.04px">Metalachnospira sp900553995</text>
<text x="149.30" y="607.09" text-anchor="end" style="font-size:8.30px;font-style:italic;stroke:#231f20;stroke-width:0.04px">Faecousia sp000434635</text>
<text x="149.30" y="615.61" text-anchor="end" style="font-size:8.30px;font-style:italic;stroke:#231f20;stroke-width:0.04px">CAG–170 sp900553545</text>
<text x="149.30" y="624.13" text-anchor="end" style="font-size:8.30px;font-style:italic;stroke:#231f20;stroke-width:0.04px">Merdisoma sp900553635</text>
<text x="149.30" y="632.65" text-anchor="end" style="font-size:8.30px;font-style:italic;stroke:#231f20;stroke-width:0.04px">Limiplasma sp900548145</text>
<text x="149.30" y="641.17" text-anchor="end" style="font-size:8.30px;font-style:italic;stroke:#231f20;stroke-width:0.04px">Lentihominibacter sp905193765</text>
<text x="149.30" y="649.70" text-anchor="end" style="font-size:8.30px;font-style:italic;stroke:#231f20;stroke-width:0.04px">CAG–238 sp900551415</text>
<text x="149.30" y="658.22" text-anchor="end" style="font-size:8.30px;font-style:italic;stroke:#231f20;stroke-width:0.04px">UBA738 sp003522945</text>
<text x="149.30" y="666.74" text-anchor="end" style="font-size:8.30px;font-style:italic;stroke:#231f20;stroke-width:0.04px">CAG–170 sp003516765</text>
<text x="149.30" y="675.26" text-anchor="end" style="font-size:8.30px;font-style:italic;stroke:#231f20;stroke-width:0.04px">ER4 sp900317525</text>
<text x="149.30" y="683.78" text-anchor="end" style="font-size:8.30px;font-style:italic;stroke:#231f20;stroke-width:0.04px">Vescimonas sp000435555</text>
<text x="149.30" y="692.30" text-anchor="end" style="font-size:8.30px;font-style:italic;stroke:#231f20;stroke-width:0.04px">CAG–95 sp900066375</text>
<text x="149.30" y="700.82" text-anchor="end" style="font-size:8.30px;font-style:italic;stroke:#231f20;stroke-width:0.04px">CAG–95 sp000438155</text>
<text x="149.30" y="709.34" text-anchor="end" style="font-size:8.30px;font-style:italic;stroke:#231f20;stroke-width:0.04px">UMGS1312 sp900550625</text>
<text x="149.30" y="717.86" text-anchor="end" style="font-size:8.30px;font-style:italic;stroke:#231f20;stroke-width:0.04px">Angelakisella sp900547385</text>
<text x="149.30" y="726.38" text-anchor="end" style="font-size:8.30px;font-style:italic;stroke:#231f20;stroke-width:0.04px">Limivivens sp900066135</text>
<text x="149.30" y="734.91" text-anchor="end" style="font-size:8.30px;font-style:italic;stroke:#231f20;stroke-width:0.04px">Choladocola sp018223365</text>
<text x="149.30" y="743.43" text-anchor="end" style="font-size:8.30px;font-style:italic;stroke:#231f20;stroke-width:0.04px">Choladocola sp003481535</text>
<text x="149.30" y="751.95" text-anchor="end" style="font-size:8.30px;font-style:italic;stroke:#231f20;stroke-width:0.04px">UBA3402 sp003478355</text>
<text x="149.30" y="760.47" text-anchor="end" style="font-size:8.30px;font-style:italic;stroke:#231f20;stroke-width:0.04px">CAG–170 sp900549635</text>
<text x="149.30" y="768.99" text-anchor="end" style="font-size:8.30px;font-style:italic;stroke:#231f20;stroke-width:0.04px">Merdisoma sp900066385</text>
<text x="149.30" y="777.51" text-anchor="end" style="font-size:8.30px;font-style:italic;stroke:#231f20;stroke-width:0.04px">CAG–269 sp003525075</text>
<text x="149.30" y="786.03" text-anchor="end" style="font-size:8.30px;font-style:italic;stroke:#231f20;stroke-width:0.04px">Coprococcus eutactus A</text>
<text x="149.30" y="794.55" text-anchor="end" style="font-size:8.30px;font-style:italic;stroke:#231f20;stroke-width:0.04px">CAG–245 sp000435175</text>
<text x="149.30" y="803.07" text-anchor="end" style="font-size:8.30px;font-style:italic;stroke:#231f20;stroke-width:0.04px">ER4 sp000765235</text>
<text x="149.30" y="811.59" text-anchor="end" style="font-size:8.30px;font-style:italic;stroke:#231f20;stroke-width:0.04px">Choladousia sp902363665</text>
<text x="149.30" y="820.12" text-anchor="end" style="font-size:8.30px;font-style:italic;stroke:#231f20;stroke-width:0.04px">Faecalibacillus intestinalis</text>
<text x="149.30" y="828.64" text-anchor="end" style="font-size:8.30px;font-style:italic;stroke:#231f20;stroke-width:0.04px">Faecalibacterium prausnitzii I</text>
<text x="149.30" y="837.16" text-anchor="end" style="font-size:8.30px;font-style:italic;stroke:#231f20;stroke-width:0.04px">Ventricola sp900542445</text>
<text x="149.30" y="845.68" text-anchor="end" style="font-size:8.30px;font-style:italic;stroke:#231f20;stroke-width:0.04px">UBA11524 sp000437595</text>
<text x="149.30" y="854.20" text-anchor="end" style="font-size:8.30px;font-style:italic;stroke:#231f20;stroke-width:0.04px">Alistipes shahii</text>
<text x="149.30" y="862.72" text-anchor="end" style="font-size:8.30px;font-style:italic;stroke:#231f20;stroke-width:0.04px">Faecalibacterium duncaniae</text>
<text x="149.30" y="871.24" text-anchor="end" style="font-size:8.30px;font-style:italic;stroke:#231f20;stroke-width:0.04px">Ventricola sp900542395</text>
<text x="149.30" y="879.76" text-anchor="end" style="font-size:8.30px;font-style:italic;stroke:#231f20;stroke-width:0.04px">Faecalibacterium sp900539945</text>
<text x="149.30" y="888.28" text-anchor="end" style="font-size:8.30px;font-style:italic;stroke:#231f20;stroke-width:0.04px">Faecalibacterium sp900539885</text>
<text x="149.30" y="896.80" text-anchor="end" style="font-size:8.30px;font-style:italic;stroke:#231f20;stroke-width:0.04px">JAJEQR01 sp020687485</text>
<text x="149.30" y="905.33" text-anchor="end" style="font-size:8.30px;font-style:italic;stroke:#231f20;stroke-width:0.04px">Alistipes communis</text>
<text x="187.90" y="18.01" text-anchor="middle" style="font-size:10.00px">Clindamycin</text>
<text x="272.30" y="17.96" text-anchor="middle" style="font-size:10.00px">Flucloxacillin</text>
<text x="356.50" y="17.92" text-anchor="middle" style="font-size:10.00px">Fluoroquinolones</text>
<text x="166.13" y="32.52" text-anchor="middle" style="font-size:7.95px;stroke:#231f20;stroke-width:0.06px">&lt;1</text>
<text x="166.13" y="41.22" text-anchor="middle" style="font-size:7.95px;stroke:#231f20;stroke-width:0.06px">year</text>
<text x="192.00" y="32.50" text-anchor="middle" style="font-size:7.95px;stroke:#231f20;stroke-width:0.06px">1–8</text>
<text x="192.00" y="41.20" text-anchor="middle" style="font-size:7.95px;stroke:#231f20;stroke-width:0.06px">years</text>
<text x="217.87" y="32.49" text-anchor="middle" style="font-size:7.95px;stroke:#231f20;stroke-width:0.06px">4–8</text>
<text x="217.87" y="41.19" text-anchor="middle" style="font-size:7.95px;stroke:#231f20;stroke-width:0.06px">years</text>
<text x="250.13" y="32.47" text-anchor="middle" style="font-size:7.95px;stroke:#231f20;stroke-width:0.06px">&lt;1</text>
<text x="250.13" y="41.17" text-anchor="middle" style="font-size:7.95px;stroke:#231f20;stroke-width:0.06px">year</text>
<text x="275.80" y="32.46" text-anchor="middle" style="font-size:7.95px;stroke:#231f20;stroke-width:0.06px">1–8</text>
<text x="275.80" y="41.16" text-anchor="middle" style="font-size:7.95px;stroke:#231f20;stroke-width:0.06px">years</text>
<text x="301.47" y="32.45" text-anchor="middle" style="font-size:7.95px;stroke:#231f20;stroke-width:0.06px">4–8</text>
<text x="301.47" y="41.15" text-anchor="middle" style="font-size:7.95px;stroke:#231f20;stroke-width:0.06px">years</text>
<text x="334.17" y="32.43" text-anchor="middle" style="font-size:7.95px;stroke:#231f20;stroke-width:0.06px">&lt;1</text>
<text x="334.17" y="41.13" text-anchor="middle" style="font-size:7.95px;stroke:#231f20;stroke-width:0.06px">year</text>
<text x="360.10" y="32.42" text-anchor="middle" style="font-size:7.95px;stroke:#231f20;stroke-width:0.06px">1–8</text>
<text x="360.10" y="41.12" text-anchor="middle" style="font-size:7.95px;stroke:#231f20;stroke-width:0.06px">years</text>
<text x="386.03" y="32.41" text-anchor="middle" style="font-size:7.95px;stroke:#231f20;stroke-width:0.06px">4–8</text>
<text x="386.03" y="41.11" text-anchor="middle" style="font-size:7.95px;stroke:#231f20;stroke-width:0.06px">years</text>
<text x="460.60" y="17.77" text-anchor="middle" style="font-size:10.00px">Adiposity</text>
<text x="515.80" y="6.94" text-anchor="middle" style="font-size:10.00px">Blood</text>
<text x="515.80" y="17.74" text-anchor="middle" style="font-size:10.00px">pressure</text>
<text x="570.40" y="17.71" text-anchor="middle" style="font-size:10.00px">Lipids</text>
<text x="626.00" y="17.69" text-anchor="middle" style="font-size:10.00px">Glucose</text>
<text x="666.20" y="17.67" text-anchor="middle" style="font-size:10.00px">Inflam.</text>
<text x="449.67" y="41.58" text-anchor="middle" style="font-size:7.95px;stroke:#231f20;stroke-width:0.06px">BMI</text>
<text x="479.23" y="41.56" text-anchor="middle" style="font-size:7.95px;stroke:#231f20;stroke-width:0.06px">WHR</text>
<text x="519.60" y="41.54" text-anchor="middle" style="font-size:7.95px;stroke:#231f20;stroke-width:0.06px">SBP</text>
<text x="559.98" y="41.52" text-anchor="middle" style="font-size:7.95px;stroke:#231f20;stroke-width:0.06px">TG</text>
<text x="589.73" y="41.51" text-anchor="middle" style="font-size:7.95px;stroke:#231f20;stroke-width:0.06px">non–HDL</text>
<text x="629.55" y="41.49" text-anchor="middle" style="font-size:7.95px;stroke:#231f20;stroke-width:0.06px">HbA1c</text>
<text x="669.90" y="41.47" text-anchor="middle" style="font-size:7.95px;stroke:#231f20;stroke-width:0.06px">CRP</text>
<text x="303.90" y="922.45" text-anchor="end" style="font-size:10.00px">Antibiotics</text>
<text x="502.20" y="922.35" text-anchor="end" style="font-size:10.00px">Cardiometabolic markers</text>
<text x="312.20" y="933.04" text-anchor="middle" style="font-size:8.20px">−2</text>
<text x="329.50" y="933.04" text-anchor="middle" style="font-size:8.20px">−1</text>
<text x="346.20" y="933.03" text-anchor="middle" style="font-size:8.20px">0</text>
<text x="362.60" y="933.02" text-anchor="middle" style="font-size:8.20px">1</text>
<text x="379.80" y="933.01" text-anchor="middle" style="font-size:8.20px">2</text>
<text x="509.10" y="932.95" text-anchor="middle" style="font-size:8.20px">−1.0</text>
<text x="529.30" y="932.94" text-anchor="middle" style="font-size:8.20px">−0.5</text>
<text x="549.50" y="932.93" text-anchor="middle" style="font-size:8.20px">0</text>
<text x="569.40" y="932.92" text-anchor="middle" style="font-size:8.20px">0.5</text>
<text x="589.30" y="932.91" text-anchor="middle" style="font-size:8.20px">1.0</text></g>
</g>
</svg>
</body></html>
